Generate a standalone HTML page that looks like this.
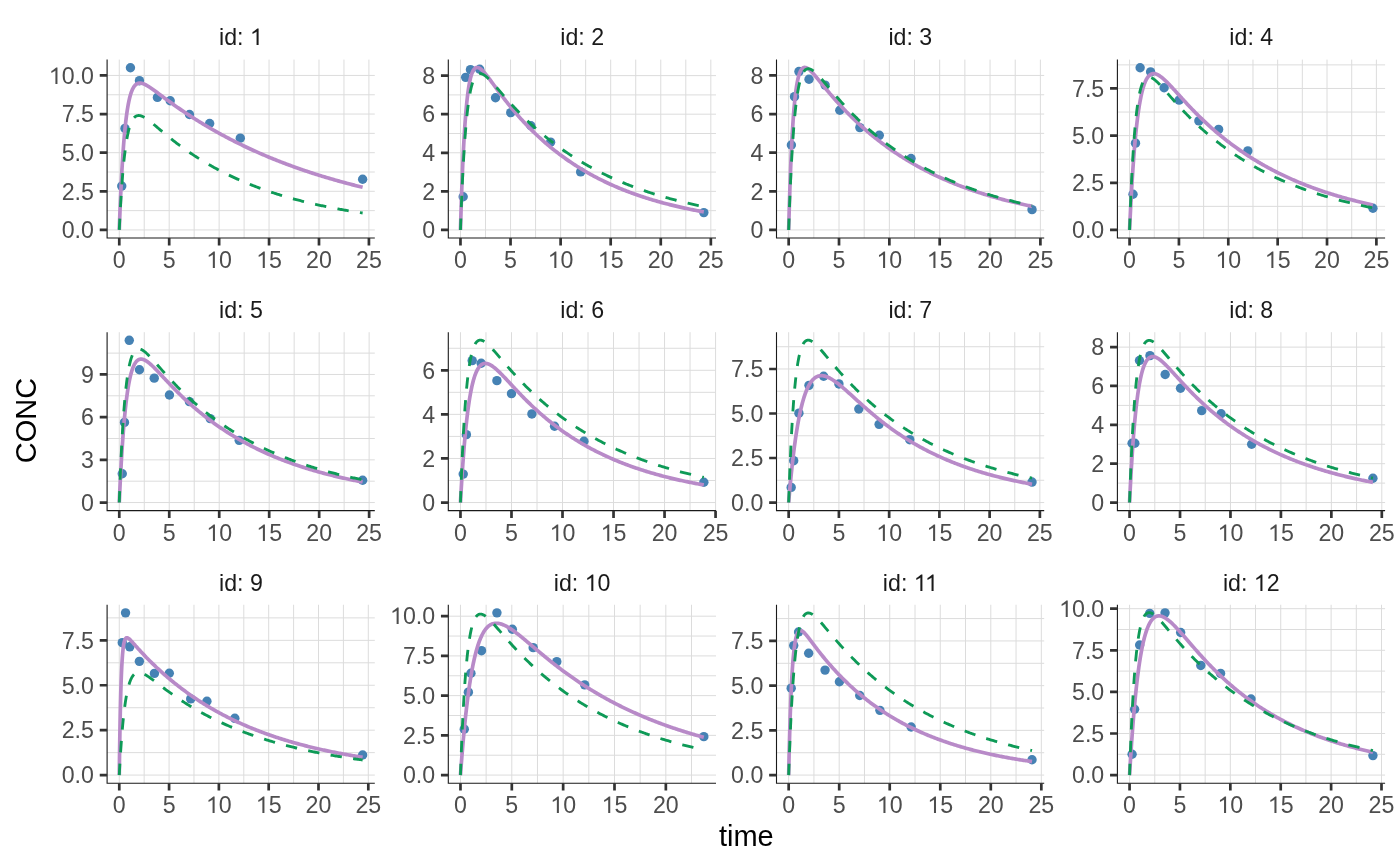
<!DOCTYPE html><html><head><meta charset="utf-8"><style>html,body{margin:0;padding:0;background:#fff;overflow:hidden;}svg text{font-family:"Liberation Sans", sans-serif;} svg{will-change:transform;}</style></head><body><svg width="1400" height="866" viewBox="0 0 1400 866" style="display:block"><rect width="1400" height="866" fill="#fff"/><defs><clipPath id="c1"><rect x="107.10" y="59.60" width="267.70" height="178.45"/></clipPath><clipPath id="c2"><rect x="448.30" y="59.60" width="267.70" height="178.45"/></clipPath><clipPath id="c3"><rect x="776.50" y="59.60" width="267.70" height="178.45"/></clipPath><clipPath id="c4"><rect x="1117.40" y="59.60" width="267.70" height="178.45"/></clipPath><clipPath id="c5"><rect x="107.10" y="332.20" width="267.70" height="178.45"/></clipPath><clipPath id="c6"><rect x="448.30" y="332.20" width="267.70" height="178.45"/></clipPath><clipPath id="c7"><rect x="776.50" y="332.20" width="267.70" height="178.45"/></clipPath><clipPath id="c8"><rect x="1117.40" y="332.20" width="267.70" height="178.45"/></clipPath><clipPath id="c9"><rect x="107.10" y="604.75" width="267.70" height="178.45"/></clipPath><clipPath id="c10"><rect x="448.30" y="604.75" width="267.70" height="178.45"/></clipPath><clipPath id="c11"><rect x="776.50" y="604.75" width="267.70" height="178.45"/></clipPath><clipPath id="c12"><rect x="1117.40" y="604.75" width="267.70" height="178.45"/></clipPath></defs><path d="M107.10 210.63H374.80M107.10 172.00H374.80M107.10 133.37H374.80M107.10 94.75H374.80M144.23 59.60V238.05M194.16 59.60V238.05M244.10 59.60V238.05M294.03 59.60V238.05M343.96 59.60V238.05" stroke="#DCDCDC" stroke-width="1.0" fill="none"/><path d="M107.10 229.94H374.80M107.10 191.31H374.80M107.10 152.69H374.80M107.10 114.06H374.80M107.10 75.44H374.80M119.27 59.60V238.05M169.20 59.60V238.05M219.13 59.60V238.05M269.06 59.60V238.05M318.99 59.60V238.05M368.92 59.60V238.05" stroke="#DCDCDC" stroke-width="1.0" fill="none"/><g clip-path="url(#c1)"><g fill="#4682B4"><circle cx="121.76" cy="186.06" r="4.7"/><circle cx="124.96" cy="128.43" r="4.7"/><circle cx="130.45" cy="67.71" r="4.7"/><circle cx="139.44" cy="80.69" r="4.7"/><circle cx="157.42" cy="97.38" r="4.7"/><circle cx="170.20" cy="100.77" r="4.7"/><circle cx="189.47" cy="114.53" r="4.7"/><circle cx="209.64" cy="123.49" r="4.7"/><circle cx="240.30" cy="138.16" r="4.7"/><circle cx="362.63" cy="179.26" r="4.7"/></g><path d="M119.27 229.94 L119.52 223.05 L119.77 216.45 L120.02 210.14 L120.27 204.10 L120.52 198.33 L120.77 192.80 L121.02 187.52 L121.27 182.47 L121.52 177.64 L121.76 173.02 L122.01 168.60 L122.26 164.37 L122.51 160.34 L122.76 156.48 L123.01 152.79 L123.26 149.26 L123.51 145.89 L123.76 142.68 L124.01 139.60 L124.26 136.67 L124.51 133.86 L124.76 131.19 L125.01 128.63 L125.26 126.19 L125.51 123.86 L125.76 121.64 L126.01 119.52 L126.26 117.50 L126.51 115.57 L126.76 113.74 L127.01 111.99 L127.26 110.32 L127.51 108.73 L127.76 107.21 L128.01 105.77 L128.26 104.40 L128.51 103.10 L128.76 101.85 L129.00 100.67 L129.25 99.55 L129.50 98.49 L129.75 97.48 L130.00 96.52 L130.25 95.61 L130.50 94.74 L130.75 93.92 L131.00 93.15 L131.25 92.42 L131.50 91.72 L131.75 91.07 L132.00 90.45 L132.25 89.86 L132.50 89.31 L132.75 88.79 L133.00 88.31 L133.25 87.85 L133.50 87.42 L133.75 87.02 L134.00 86.64 L134.25 86.29 L134.50 85.96 L134.75 85.65 L135.00 85.37 L135.25 85.11 L135.50 84.86 L135.75 84.64 L136.00 84.43 L136.24 84.24 L136.49 84.07 L136.74 83.92 L136.99 83.78 L137.24 83.65 L137.49 83.54 L137.74 83.44 L137.99 83.36 L138.24 83.29 L138.49 83.22 L138.74 83.18 L138.99 83.14 L139.24 83.11 L139.49 83.09 L139.74 83.08 L139.99 83.08 L140.24 83.09 L140.49 83.11 L140.74 83.14 L140.99 83.17 L141.24 83.21 L141.49 83.26 L141.74 83.31 L141.99 83.37 L142.24 83.44 L142.49 83.51 L142.74 83.59 L142.99 83.67 L143.24 83.76 L143.48 83.85 L143.73 83.95 L143.98 84.05 L144.23 84.16 L144.48 84.27 L144.73 84.38 L144.98 84.50 L145.23 84.62 L145.48 84.75 L145.73 84.88 L145.98 85.01 L146.23 85.14 L146.48 85.28 L146.73 85.42 L146.98 85.56 L147.23 85.71 L147.48 85.86 L147.73 86.00 L147.98 86.16 L148.23 86.31 L148.48 86.47 L148.73 86.62 L148.98 86.78 L149.23 86.94 L149.73 87.27 L150.80 87.98 L151.87 88.72 L152.94 89.48 L154.01 90.24 L155.08 91.02 L156.15 91.80 L157.22 92.59 L158.29 93.39 L159.35 94.18 L160.42 94.98 L161.49 95.78 L162.56 96.57 L163.63 97.37 L164.70 98.16 L165.77 98.95 L166.84 99.73 L167.91 100.52 L168.98 101.30 L170.05 102.07 L171.12 102.85 L172.19 103.62 L173.26 104.38 L174.33 105.14 L175.40 105.90 L176.47 106.65 L177.54 107.40 L178.61 108.14 L179.68 108.88 L180.75 109.62 L181.82 110.35 L182.89 111.08 L183.96 111.80 L185.03 112.52 L186.10 113.23 L187.17 113.94 L188.24 114.64 L189.31 115.35 L190.38 116.04 L191.45 116.73 L192.52 117.42 L193.59 118.11 L194.66 118.79 L195.73 119.46 L196.80 120.13 L197.87 120.80 L198.94 121.47 L200.01 122.13 L201.08 122.78 L202.15 123.43 L203.22 124.08 L204.29 124.72 L205.36 125.36 L206.43 126.00 L207.50 126.63 L208.57 127.26 L209.64 127.88 L210.71 128.51 L211.78 129.12 L212.85 129.74 L213.92 130.34 L214.99 130.95 L216.06 131.55 L217.13 132.15 L218.20 132.75 L219.27 133.34 L220.34 133.92 L221.41 134.51 L222.48 135.09 L223.55 135.66 L224.62 136.24 L225.69 136.81 L226.76 137.37 L227.83 137.94 L228.90 138.50 L229.97 139.05 L231.04 139.61 L232.11 140.15 L233.18 140.70 L234.25 141.24 L235.32 141.78 L236.39 142.32 L237.46 142.85 L238.53 143.38 L239.60 143.91 L240.67 144.43 L241.74 144.95 L242.81 145.47 L243.88 145.98 L244.95 146.49 L246.02 147.00 L247.08 147.50 L248.15 148.01 L249.22 148.50 L250.29 149.00 L251.36 149.49 L252.43 149.98 L253.50 150.47 L254.57 150.95 L255.64 151.43 L256.71 151.91 L257.78 152.38 L258.85 152.85 L259.92 153.32 L260.99 153.79 L262.06 154.25 L263.13 154.71 L264.20 155.17 L265.27 155.62 L266.34 156.08 L267.41 156.52 L268.48 156.97 L269.55 157.42 L270.62 157.86 L271.69 158.29 L272.76 158.73 L273.83 159.16 L274.90 159.59 L275.97 160.02 L277.04 160.45 L278.11 160.87 L279.18 161.29 L280.25 161.71 L281.32 162.12 L282.39 162.53 L283.46 162.94 L284.53 163.35 L285.60 163.76 L286.67 164.16 L287.74 164.56 L288.81 164.96 L289.88 165.35 L290.95 165.74 L292.02 166.13 L293.09 166.52 L294.16 166.91 L295.23 167.29 L296.30 167.67 L297.37 168.05 L298.44 168.43 L299.51 168.80 L300.58 169.17 L301.65 169.54 L302.72 169.91 L303.79 170.28 L304.86 170.64 L305.93 171.00 L307.00 171.36 L308.07 171.71 L309.14 172.07 L310.21 172.42 L311.28 172.77 L312.35 173.12 L313.42 173.46 L314.49 173.81 L315.56 174.15 L316.63 174.49 L317.70 174.82 L318.77 175.16 L319.84 175.49 L320.91 175.82 L321.98 176.15 L323.05 176.48 L324.12 176.80 L325.19 177.13 L326.26 177.45 L327.33 177.77 L328.40 178.09 L329.47 178.40 L330.54 178.71 L331.61 179.03 L332.68 179.34 L333.75 179.64 L334.81 179.95 L335.88 180.25 L336.95 180.55 L338.02 180.86 L339.09 181.15 L340.16 181.45 L341.23 181.75 L342.30 182.04 L343.37 182.33 L344.44 182.62 L345.51 182.91 L346.58 183.19 L347.65 183.48 L348.72 183.76 L349.79 184.04 L350.86 184.32 L351.93 184.60 L353.00 184.87 L354.07 185.15 L355.14 185.42 L356.21 185.69 L357.28 185.96 L358.35 186.23 L359.42 186.49 L360.49 186.76 L361.56 187.02 L362.63 187.28" stroke="#B88AC8" stroke-width="3.7" fill="none" stroke-linejoin="round"/><path d="M119.27 229.94 L119.52 224.72 L119.77 219.71 L120.02 214.91 L120.27 210.30 L120.52 205.88 L120.77 201.64 L121.02 197.58 L121.27 193.69 L121.52 189.95 L121.76 186.37 L122.01 182.94 L122.26 179.66 L122.51 176.51 L122.76 173.49 L123.01 170.60 L123.26 167.84 L123.51 165.19 L123.76 162.65 L124.01 160.22 L124.26 157.90 L124.51 155.68 L124.76 153.55 L125.01 151.52 L125.26 149.58 L125.51 147.72 L125.76 145.94 L126.01 144.25 L126.26 142.62 L126.51 141.08 L126.76 139.60 L127.01 138.19 L127.26 136.85 L127.51 135.56 L127.76 134.34 L128.01 133.18 L128.26 132.07 L128.51 131.01 L128.76 130.01 L129.00 129.05 L129.25 128.15 L129.50 127.28 L129.75 126.47 L130.00 125.69 L130.25 124.95 L130.50 124.26 L130.75 123.60 L131.00 122.97 L131.25 122.38 L131.50 121.82 L131.75 121.30 L132.00 120.80 L132.25 120.34 L132.50 119.90 L132.75 119.49 L133.00 119.11 L133.25 118.75 L133.50 118.41 L133.75 118.10 L134.00 117.81 L134.25 117.54 L134.50 117.29 L134.75 117.06 L135.00 116.85 L135.25 116.66 L135.50 116.49 L135.75 116.33 L136.00 116.19 L136.24 116.06 L136.49 115.95 L136.74 115.85 L136.99 115.76 L137.24 115.69 L137.49 115.64 L137.74 115.59 L137.99 115.55 L138.24 115.53 L138.49 115.52 L138.74 115.51 L138.99 115.52 L139.24 115.54 L139.49 115.56 L139.74 115.60 L139.99 115.64 L140.24 115.69 L140.49 115.74 L140.74 115.81 L140.99 115.88 L141.24 115.96 L141.49 116.05 L141.74 116.14 L141.99 116.23 L142.24 116.34 L142.49 116.44 L142.74 116.56 L142.99 116.68 L143.24 116.80 L143.48 116.93 L143.73 117.06 L143.98 117.20 L144.23 117.34 L144.48 117.48 L144.73 117.63 L144.98 117.78 L145.23 117.93 L145.48 118.09 L145.73 118.25 L145.98 118.41 L146.23 118.58 L146.48 118.75 L146.73 118.92 L146.98 119.09 L147.23 119.27 L147.48 119.45 L147.73 119.63 L147.98 119.81 L148.23 120.00 L148.48 120.18 L148.73 120.37 L148.98 120.56 L149.23 120.75 L149.73 121.14 L150.80 121.98 L151.87 122.85 L152.94 123.72 L154.01 124.61 L155.08 125.51 L156.15 126.41 L157.22 127.32 L158.29 128.23 L159.35 129.13 L160.42 130.04 L161.49 130.94 L162.56 131.84 L163.63 132.74 L164.70 133.63 L165.77 134.51 L166.84 135.39 L167.91 136.27 L168.98 137.13 L170.05 137.99 L171.12 138.85 L172.19 139.69 L173.26 140.53 L174.33 141.37 L175.40 142.19 L176.47 143.01 L177.54 143.82 L178.61 144.63 L179.68 145.42 L180.75 146.21 L181.82 147.00 L182.89 147.77 L183.96 148.54 L185.03 149.30 L186.10 150.05 L187.17 150.80 L188.24 151.54 L189.31 152.28 L190.38 153.00 L191.45 153.72 L192.52 154.44 L193.59 155.14 L194.66 155.84 L195.73 156.54 L196.80 157.22 L197.87 157.90 L198.94 158.58 L200.01 159.25 L201.08 159.91 L202.15 160.56 L203.22 161.21 L204.29 161.86 L205.36 162.49 L206.43 163.13 L207.50 163.75 L208.57 164.37 L209.64 164.98 L210.71 165.59 L211.78 166.19 L212.85 166.79 L213.92 167.38 L214.99 167.97 L216.06 168.55 L217.13 169.12 L218.20 169.69 L219.27 170.26 L220.34 170.82 L221.41 171.37 L222.48 171.92 L223.55 172.46 L224.62 173.00 L225.69 173.53 L226.76 174.06 L227.83 174.58 L228.90 175.10 L229.97 175.61 L231.04 176.12 L232.11 176.63 L233.18 177.13 L234.25 177.62 L235.32 178.11 L236.39 178.60 L237.46 179.08 L238.53 179.55 L239.60 180.02 L240.67 180.49 L241.74 180.95 L242.81 181.41 L243.88 181.87 L244.95 182.32 L246.02 182.76 L247.08 183.21 L248.15 183.64 L249.22 184.08 L250.29 184.51 L251.36 184.93 L252.43 185.35 L253.50 185.77 L254.57 186.18 L255.64 186.59 L256.71 187.00 L257.78 187.40 L258.85 187.80 L259.92 188.19 L260.99 188.58 L262.06 188.97 L263.13 189.36 L264.20 189.74 L265.27 190.11 L266.34 190.48 L267.41 190.85 L268.48 191.22 L269.55 191.58 L270.62 191.94 L271.69 192.30 L272.76 192.65 L273.83 193.00 L274.90 193.34 L275.97 193.69 L277.04 194.03 L278.11 194.36 L279.18 194.70 L280.25 195.03 L281.32 195.35 L282.39 195.68 L283.46 196.00 L284.53 196.31 L285.60 196.63 L286.67 196.94 L287.74 197.25 L288.81 197.56 L289.88 197.86 L290.95 198.16 L292.02 198.46 L293.09 198.75 L294.16 199.04 L295.23 199.33 L296.30 199.62 L297.37 199.90 L298.44 200.19 L299.51 200.46 L300.58 200.74 L301.65 201.01 L302.72 201.28 L303.79 201.55 L304.86 201.82 L305.93 202.08 L307.00 202.34 L308.07 202.60 L309.14 202.86 L310.21 203.11 L311.28 203.36 L312.35 203.61 L313.42 203.86 L314.49 204.10 L315.56 204.34 L316.63 204.58 L317.70 204.82 L318.77 205.05 L319.84 205.29 L320.91 205.52 L321.98 205.75 L323.05 205.97 L324.12 206.20 L325.19 206.42 L326.26 206.64 L327.33 206.86 L328.40 207.07 L329.47 207.29 L330.54 207.50 L331.61 207.71 L332.68 207.92 L333.75 208.13 L334.81 208.33 L335.88 208.53 L336.95 208.73 L338.02 208.93 L339.09 209.13 L340.16 209.32 L341.23 209.52 L342.30 209.71 L343.37 209.90 L344.44 210.08 L345.51 210.27 L346.58 210.45 L347.65 210.64 L348.72 210.82 L349.79 211.00 L350.86 211.17 L351.93 211.35 L353.00 211.52 L354.07 211.70 L355.14 211.87 L356.21 212.04 L357.28 212.20 L358.35 212.37 L359.42 212.53 L360.49 212.70 L361.56 212.86 L362.63 213.02" stroke="#0E9A57" stroke-width="2.85" fill="none" stroke-dasharray="11.4 11.4" stroke-linejoin="round"/></g><path d="M107.10 59.60V238.05H374.80" stroke="#1A1A1A" stroke-width="1.1" fill="none" stroke-linecap="butt"/><path d="M99.75 229.94H107.10M99.75 191.31H107.10M99.75 152.69H107.10M99.75 114.06H107.10M99.75 75.44H107.10M119.27 238.05V245.40M169.20 238.05V245.40M219.13 238.05V245.40M269.06 238.05V245.40M318.99 238.05V245.40M368.92 238.05V245.40" stroke="#333333" stroke-width="2.7" fill="none"/><text x="93.95" y="238" text-anchor="end" fill="#4D4D4D" font-size="23.2">0.0</text><text x="93.95" y="200" text-anchor="end" fill="#4D4D4D" font-size="23.2">2.5</text><text x="93.95" y="161" text-anchor="end" fill="#4D4D4D" font-size="23.2">5.0</text><text x="93.95" y="122" text-anchor="end" fill="#4D4D4D" font-size="23.2">7.5</text><path transform="translate(48.81,84.00) scale(0.011328,-0.011781)" d="M763 0L583 0L583 1147Q518 1085 465 1054Q412 1023 360 992Q307 961 223 930L223 1104Q374 1175 430 1225Q487 1276 543 1326Q600 1377 647 1409L763 1409Z" fill="#4D4D4D"/><text x="61.70" y="84.00" fill="#4D4D4D" font-size="23.2" style="white-space:pre">0.0</text><text x="119.27" y="268" text-anchor="middle" fill="#4D4D4D" font-size="23.2">0</text><text x="169.20" y="268" text-anchor="middle" fill="#4D4D4D" font-size="23.2">5</text><path transform="translate(206.23,268.00) scale(0.011328,-0.011781)" d="M763 0L583 0L583 1147Q518 1085 465 1054Q412 1023 360 992Q307 961 223 930L223 1104Q374 1175 430 1225Q487 1276 543 1326Q600 1377 647 1409L763 1409Z" fill="#4D4D4D"/><text x="219.12" y="268.00" fill="#4D4D4D" font-size="23.2" style="white-space:pre">0</text><path transform="translate(256.16,268.00) scale(0.011328,-0.011781)" d="M763 0L583 0L583 1147Q518 1085 465 1054Q412 1023 360 992Q307 961 223 930L223 1104Q374 1175 430 1225Q487 1276 543 1326Q600 1377 647 1409L763 1409Z" fill="#4D4D4D"/><text x="269.05" y="268.00" fill="#4D4D4D" font-size="23.2" style="white-space:pre">5</text><text x="318.99" y="268" text-anchor="middle" fill="#4D4D4D" font-size="23.2">20</text><text x="368.92" y="268" text-anchor="middle" fill="#4D4D4D" font-size="23.2">25</text><text x="219.04" y="45.00" fill="#1A1A1A" font-size="23.2" style="white-space:pre">id:&#160;</text><path transform="translate(249.96,45.00) scale(0.011328,-0.011781)" d="M763 0L583 0L583 1147Q518 1085 465 1054Q412 1023 360 992Q307 961 223 930L223 1104Q374 1175 430 1225Q487 1276 543 1326Q600 1377 647 1409L763 1409Z" fill="#1A1A1A"/><path d="M448.30 210.65H716.00M448.30 172.07H716.00M448.30 133.49H716.00M448.30 94.91H716.00M485.51 59.60V238.05M535.58 59.60V238.05M585.66 59.60V238.05M635.73 59.60V238.05M685.80 59.60V238.05" stroke="#DCDCDC" stroke-width="1.0" fill="none"/><path d="M448.30 229.94H716.00M448.30 191.36H716.00M448.30 152.78H716.00M448.30 114.20H716.00M448.30 75.62H716.00M460.47 59.60V238.05M510.54 59.60V238.05M560.62 59.60V238.05M610.69 59.60V238.05M660.77 59.60V238.05M710.84 59.60V238.05" stroke="#DCDCDC" stroke-width="1.0" fill="none"/><g clip-path="url(#c2)"><g fill="#4682B4"><circle cx="463.17" cy="196.76" r="4.7"/><circle cx="465.68" cy="77.36" r="4.7"/><circle cx="470.48" cy="69.64" r="4.7"/><circle cx="479.70" cy="69.25" r="4.7"/><circle cx="495.52" cy="97.80" r="4.7"/><circle cx="510.74" cy="112.66" r="4.7"/><circle cx="530.87" cy="125.77" r="4.7"/><circle cx="550.60" cy="142.17" r="4.7"/><circle cx="580.65" cy="171.88" r="4.7"/><circle cx="703.83" cy="212.58" r="4.7"/></g><path d="M460.47 229.94 L460.72 221.26 L460.97 212.99 L461.22 205.12 L461.47 197.62 L461.72 190.49 L461.97 183.70 L462.22 177.25 L462.47 171.10 L462.72 165.26 L462.97 159.70 L463.22 154.42 L463.47 149.39 L463.72 144.62 L463.97 140.08 L464.22 135.77 L464.47 131.67 L464.72 127.78 L464.97 124.09 L465.23 120.59 L465.48 117.26 L465.73 114.11 L465.98 111.12 L466.23 108.29 L466.48 105.61 L466.73 103.06 L466.98 100.66 L467.23 98.38 L467.48 96.23 L467.73 94.19 L467.98 92.27 L468.23 90.45 L468.48 88.74 L468.73 87.12 L468.98 85.60 L469.23 84.17 L469.48 82.82 L469.73 81.55 L469.98 80.36 L470.23 79.24 L470.48 78.19 L470.73 77.22 L470.98 76.30 L471.23 75.44 L471.48 74.65 L471.74 73.91 L471.99 73.22 L472.24 72.58 L472.49 71.99 L472.74 71.45 L472.99 70.95 L473.24 70.49 L473.49 70.07 L473.74 69.69 L473.99 69.35 L474.24 69.04 L474.49 68.76 L474.74 68.52 L474.99 68.30 L475.24 68.11 L475.49 67.96 L475.74 67.82 L475.99 67.71 L476.24 67.63 L476.49 67.56 L476.74 67.52 L476.99 67.50 L477.24 67.50 L477.49 67.51 L477.74 67.55 L477.99 67.60 L478.24 67.66 L478.50 67.75 L478.75 67.84 L479.00 67.95 L479.25 68.07 L479.50 68.21 L479.75 68.35 L480.00 68.51 L480.25 68.68 L480.50 68.86 L480.75 69.05 L481.00 69.25 L481.25 69.45 L481.50 69.67 L481.75 69.89 L482.00 70.12 L482.25 70.36 L482.50 70.60 L482.75 70.85 L483.00 71.10 L483.25 71.37 L483.50 71.63 L483.75 71.90 L484.00 72.18 L484.25 72.46 L484.50 72.75 L484.75 73.04 L485.00 73.33 L485.26 73.63 L485.51 73.93 L485.76 74.23 L486.01 74.54 L486.26 74.85 L486.51 75.16 L486.76 75.48 L487.01 75.80 L487.26 76.12 L487.51 76.44 L487.76 76.76 L488.01 77.09 L488.26 77.41 L488.51 77.74 L488.76 78.07 L489.01 78.40 L489.26 78.74 L489.51 79.07 L489.76 79.41 L490.01 79.74 L490.26 80.08 L490.51 80.42 L491.01 81.09 L492.08 82.55 L493.15 84.01 L494.22 85.47 L495.29 86.93 L496.36 88.39 L497.43 89.85 L498.50 91.29 L499.57 92.73 L500.64 94.15 L501.71 95.57 L502.78 96.97 L503.85 98.37 L504.92 99.75 L505.99 101.11 L507.06 102.47 L508.12 103.81 L509.19 105.14 L510.26 106.45 L511.33 107.76 L512.40 109.05 L513.47 110.32 L514.54 111.58 L515.61 112.83 L516.68 114.07 L517.75 115.30 L518.82 116.51 L519.89 117.71 L520.96 118.89 L522.03 120.07 L523.10 121.23 L524.17 122.38 L525.24 123.51 L526.31 124.64 L527.37 125.75 L528.44 126.85 L529.51 127.94 L530.58 129.02 L531.65 130.09 L532.72 131.14 L533.79 132.19 L534.86 133.22 L535.93 134.24 L537.00 135.26 L538.07 136.26 L539.14 137.25 L540.21 138.23 L541.28 139.20 L542.35 140.16 L543.42 141.11 L544.49 142.05 L545.56 142.98 L546.62 143.90 L547.69 144.80 L548.76 145.71 L549.83 146.60 L550.90 147.48 L551.97 148.35 L553.04 149.21 L554.11 150.07 L555.18 150.91 L556.25 151.75 L557.32 152.57 L558.39 153.39 L559.46 154.20 L560.53 155.00 L561.60 155.79 L562.67 156.58 L563.74 157.35 L564.80 158.12 L565.87 158.88 L566.94 159.63 L568.01 160.37 L569.08 161.11 L570.15 161.84 L571.22 162.56 L572.29 163.27 L573.36 163.98 L574.43 164.67 L575.50 165.36 L576.57 166.05 L577.64 166.72 L578.71 167.39 L579.78 168.05 L580.85 168.71 L581.92 169.35 L582.99 169.99 L584.05 170.63 L585.12 171.25 L586.19 171.88 L587.26 172.49 L588.33 173.10 L589.40 173.70 L590.47 174.29 L591.54 174.88 L592.61 175.46 L593.68 176.04 L594.75 176.61 L595.82 177.17 L596.89 177.73 L597.96 178.28 L599.03 178.83 L600.10 179.37 L601.17 179.90 L602.24 180.43 L603.30 180.96 L604.37 181.47 L605.44 181.99 L606.51 182.49 L607.58 183.00 L608.65 183.49 L609.72 183.98 L610.79 184.47 L611.86 184.95 L612.93 185.43 L614.00 185.90 L615.07 186.36 L616.14 186.82 L617.21 187.28 L618.28 187.73 L619.35 188.18 L620.42 188.62 L621.49 189.05 L622.55 189.49 L623.62 189.91 L624.69 190.34 L625.76 190.76 L626.83 191.17 L627.90 191.58 L628.97 191.99 L630.04 192.39 L631.11 192.78 L632.18 193.18 L633.25 193.57 L634.32 193.95 L635.39 194.33 L636.46 194.71 L637.53 195.08 L638.60 195.45 L639.67 195.81 L640.74 196.17 L641.80 196.53 L642.87 196.88 L643.94 197.23 L645.01 197.58 L646.08 197.92 L647.15 198.26 L648.22 198.60 L649.29 198.93 L650.36 199.25 L651.43 199.58 L652.50 199.90 L653.57 200.22 L654.64 200.53 L655.71 200.84 L656.78 201.15 L657.85 201.46 L658.92 201.76 L659.98 202.05 L661.05 202.35 L662.12 202.64 L663.19 202.93 L664.26 203.22 L665.33 203.50 L666.40 203.78 L667.47 204.05 L668.54 204.33 L669.61 204.60 L670.68 204.87 L671.75 205.13 L672.82 205.39 L673.89 205.65 L674.96 205.91 L676.03 206.16 L677.10 206.42 L678.17 206.66 L679.23 206.91 L680.30 207.15 L681.37 207.39 L682.44 207.63 L683.51 207.87 L684.58 208.10 L685.65 208.33 L686.72 208.56 L687.79 208.79 L688.86 209.01 L689.93 209.23 L691.00 209.45 L692.07 209.67 L693.14 209.88 L694.21 210.09 L695.28 210.30 L696.35 210.51 L697.42 210.72 L698.48 210.92 L699.55 211.12 L700.62 211.32 L701.69 211.52 L702.76 211.71 L703.83 211.91" stroke="#B88AC8" stroke-width="3.7" fill="none" stroke-linejoin="round"/><path d="M460.47 229.94 L460.72 222.80 L460.97 215.96 L461.22 209.40 L461.47 203.10 L461.72 197.06 L461.97 191.27 L462.22 185.72 L462.47 180.40 L462.72 175.30 L462.97 170.41 L463.22 165.72 L463.47 161.23 L463.72 156.93 L463.97 152.80 L464.22 148.86 L464.47 145.08 L464.72 141.46 L464.97 137.99 L465.23 134.67 L465.48 131.50 L465.73 128.46 L465.98 125.56 L466.23 122.78 L466.48 120.12 L466.73 117.58 L466.98 115.15 L467.23 112.84 L467.48 110.62 L467.73 108.51 L467.98 106.49 L468.23 104.56 L468.48 102.73 L468.73 100.97 L468.98 99.30 L469.23 97.71 L469.48 96.20 L469.73 94.75 L469.98 93.38 L470.23 92.08 L470.48 90.84 L470.73 89.66 L470.98 88.54 L471.23 87.48 L471.48 86.47 L471.74 85.52 L471.99 84.62 L472.24 83.76 L472.49 82.96 L472.74 82.20 L472.99 81.48 L473.24 80.80 L473.49 80.17 L473.74 79.57 L473.99 79.01 L474.24 78.48 L474.49 77.99 L474.74 77.53 L474.99 77.11 L475.24 76.71 L475.49 76.34 L475.74 76.00 L475.99 75.69 L476.24 75.40 L476.49 75.14 L476.74 74.90 L476.99 74.68 L477.24 74.49 L477.49 74.32 L477.74 74.16 L477.99 74.03 L478.24 73.92 L478.50 73.82 L478.75 73.74 L479.00 73.68 L479.25 73.63 L479.50 73.60 L479.75 73.58 L480.00 73.57 L480.25 73.58 L480.50 73.60 L480.75 73.64 L481.00 73.68 L481.25 73.74 L481.50 73.81 L481.75 73.89 L482.00 73.98 L482.25 74.08 L482.50 74.18 L482.75 74.30 L483.00 74.42 L483.25 74.56 L483.50 74.70 L483.75 74.85 L484.00 75.00 L484.25 75.16 L484.50 75.33 L484.75 75.50 L485.00 75.68 L485.26 75.87 L485.51 76.06 L485.76 76.26 L486.01 76.46 L486.26 76.67 L486.51 76.88 L486.76 77.09 L487.01 77.31 L487.26 77.54 L487.51 77.76 L487.76 78.00 L488.01 78.23 L488.26 78.47 L488.51 78.71 L488.76 78.95 L489.01 79.20 L489.26 79.45 L489.51 79.70 L489.76 79.95 L490.01 80.21 L490.26 80.47 L490.51 80.73 L491.01 81.26 L492.08 82.41 L493.15 83.59 L494.22 84.78 L495.29 85.99 L496.36 87.22 L497.43 88.44 L498.50 89.68 L499.57 90.91 L500.64 92.15 L501.71 93.38 L502.78 94.61 L503.85 95.84 L504.92 97.06 L505.99 98.27 L507.06 99.48 L508.12 100.68 L509.19 101.87 L510.26 103.05 L511.33 104.22 L512.40 105.38 L513.47 106.54 L514.54 107.68 L515.61 108.82 L516.68 109.94 L517.75 111.06 L518.82 112.16 L519.89 113.26 L520.96 114.35 L522.03 115.42 L523.10 116.49 L524.17 117.55 L525.24 118.59 L526.31 119.63 L527.37 120.66 L528.44 121.68 L529.51 122.69 L530.58 123.69 L531.65 124.68 L532.72 125.66 L533.79 126.63 L534.86 127.60 L535.93 128.55 L537.00 129.50 L538.07 130.44 L539.14 131.36 L540.21 132.28 L541.28 133.20 L542.35 134.10 L543.42 134.99 L544.49 135.88 L545.56 136.76 L546.62 137.63 L547.69 138.49 L548.76 139.34 L549.83 140.19 L550.90 141.02 L551.97 141.85 L553.04 142.67 L554.11 143.49 L555.18 144.30 L556.25 145.09 L557.32 145.89 L558.39 146.67 L559.46 147.45 L560.53 148.22 L561.60 148.98 L562.67 149.74 L563.74 150.48 L564.80 151.23 L565.87 151.96 L566.94 152.69 L568.01 153.41 L569.08 154.12 L570.15 154.83 L571.22 155.53 L572.29 156.23 L573.36 156.91 L574.43 157.60 L575.50 158.27 L576.57 158.94 L577.64 159.60 L578.71 160.26 L579.78 160.91 L580.85 161.55 L581.92 162.19 L582.99 162.82 L584.05 163.45 L585.12 164.07 L586.19 164.68 L587.26 165.29 L588.33 165.90 L589.40 166.49 L590.47 167.09 L591.54 167.67 L592.61 168.25 L593.68 168.83 L594.75 169.40 L595.82 169.96 L596.89 170.52 L597.96 171.08 L599.03 171.63 L600.10 172.17 L601.17 172.71 L602.24 173.24 L603.30 173.77 L604.37 174.30 L605.44 174.82 L606.51 175.33 L607.58 175.84 L608.65 176.35 L609.72 176.85 L610.79 177.34 L611.86 177.83 L612.93 178.32 L614.00 178.80 L615.07 179.28 L616.14 179.75 L617.21 180.22 L618.28 180.68 L619.35 181.14 L620.42 181.60 L621.49 182.05 L622.55 182.50 L623.62 182.94 L624.69 183.38 L625.76 183.81 L626.83 184.24 L627.90 184.67 L628.97 185.09 L630.04 185.51 L631.11 185.92 L632.18 186.33 L633.25 186.74 L634.32 187.14 L635.39 187.54 L636.46 187.94 L637.53 188.33 L638.60 188.72 L639.67 189.10 L640.74 189.49 L641.80 189.86 L642.87 190.24 L643.94 190.61 L645.01 190.97 L646.08 191.34 L647.15 191.70 L648.22 192.06 L649.29 192.41 L650.36 192.76 L651.43 193.11 L652.50 193.45 L653.57 193.79 L654.64 194.13 L655.71 194.46 L656.78 194.79 L657.85 195.12 L658.92 195.45 L659.98 195.77 L661.05 196.09 L662.12 196.40 L663.19 196.72 L664.26 197.03 L665.33 197.33 L666.40 197.64 L667.47 197.94 L668.54 198.24 L669.61 198.53 L670.68 198.83 L671.75 199.12 L672.82 199.40 L673.89 199.69 L674.96 199.97 L676.03 200.25 L677.10 200.53 L678.17 200.80 L679.23 201.07 L680.30 201.34 L681.37 201.61 L682.44 201.87 L683.51 202.14 L684.58 202.40 L685.65 202.65 L686.72 202.91 L687.79 203.16 L688.86 203.41 L689.93 203.66 L691.00 203.90 L692.07 204.15 L693.14 204.39 L694.21 204.62 L695.28 204.86 L696.35 205.09 L697.42 205.33 L698.48 205.56 L699.55 205.78 L700.62 206.01 L701.69 206.23 L702.76 206.45 L703.83 206.67" stroke="#0E9A57" stroke-width="2.85" fill="none" stroke-dasharray="11.4 11.4" stroke-linejoin="round"/></g><path d="M448.30 59.60V238.05H716.00" stroke="#1A1A1A" stroke-width="1.1" fill="none" stroke-linecap="butt"/><path d="M440.95 229.94H448.30M440.95 191.36H448.30M440.95 152.78H448.30M440.95 114.20H448.30M440.95 75.62H448.30M460.47 238.05V245.40M510.54 238.05V245.40M560.62 238.05V245.40M610.69 238.05V245.40M660.77 238.05V245.40M710.84 238.05V245.40" stroke="#333333" stroke-width="2.7" fill="none"/><text x="435.15" y="238" text-anchor="end" fill="#4D4D4D" font-size="23.2">0</text><text x="435.15" y="200" text-anchor="end" fill="#4D4D4D" font-size="23.2">2</text><text x="435.15" y="161" text-anchor="end" fill="#4D4D4D" font-size="23.2">4</text><text x="435.15" y="122" text-anchor="end" fill="#4D4D4D" font-size="23.2">6</text><text x="435.15" y="84" text-anchor="end" fill="#4D4D4D" font-size="23.2">8</text><text x="460.47" y="268" text-anchor="middle" fill="#4D4D4D" font-size="23.2">0</text><text x="510.54" y="268" text-anchor="middle" fill="#4D4D4D" font-size="23.2">5</text><path transform="translate(547.72,268.00) scale(0.011328,-0.011781)" d="M763 0L583 0L583 1147Q518 1085 465 1054Q412 1023 360 992Q307 961 223 930L223 1104Q374 1175 430 1225Q487 1276 543 1326Q600 1377 647 1409L763 1409Z" fill="#4D4D4D"/><text x="560.61" y="268.00" fill="#4D4D4D" font-size="23.2" style="white-space:pre">0</text><path transform="translate(597.79,268.00) scale(0.011328,-0.011781)" d="M763 0L583 0L583 1147Q518 1085 465 1054Q412 1023 360 992Q307 961 223 930L223 1104Q374 1175 430 1225Q487 1276 543 1326Q600 1377 647 1409L763 1409Z" fill="#4D4D4D"/><text x="610.68" y="268.00" fill="#4D4D4D" font-size="23.2" style="white-space:pre">5</text><text x="660.77" y="268" text-anchor="middle" fill="#4D4D4D" font-size="23.2">20</text><text x="710.84" y="268" text-anchor="middle" fill="#4D4D4D" font-size="23.2">25</text><text x="582.15" y="45" text-anchor="middle" fill="#1A1A1A" font-size="23.2">id: 2</text><path d="M776.50 210.63H1044.20M776.50 172.00H1044.20M776.50 133.37H1044.20M776.50 94.75H1044.20M813.84 59.60V238.05M864.18 59.60V238.05M914.53 59.60V238.05M964.87 59.60V238.05M1015.22 59.60V238.05" stroke="#DCDCDC" stroke-width="1.0" fill="none"/><path d="M776.50 229.94H1044.20M776.50 191.31H1044.20M776.50 152.69H1044.20M776.50 114.06H1044.20M776.50 75.44H1044.20M788.67 59.60V238.05M839.01 59.60V238.05M889.36 59.60V238.05M939.70 59.60V238.05M990.04 59.60V238.05M1040.39 59.60V238.05" stroke="#DCDCDC" stroke-width="1.0" fill="none"/><g clip-path="url(#c3)"><g fill="#4682B4"><circle cx="791.39" cy="144.96" r="4.7"/><circle cx="794.51" cy="96.68" r="4.7"/><circle cx="798.94" cy="71.57" r="4.7"/><circle cx="809.01" cy="79.30" r="4.7"/><circle cx="825.12" cy="85.09" r="4.7"/><circle cx="839.82" cy="110.20" r="4.7"/><circle cx="859.85" cy="127.58" r="4.7"/><circle cx="879.29" cy="135.31" r="4.7"/><circle cx="911.00" cy="158.48" r="4.7"/><circle cx="1032.03" cy="209.66" r="4.7"/></g><path d="M788.67 229.94 L788.92 220.52 L789.17 211.59 L789.42 203.14 L789.68 195.14 L789.93 187.55 L790.18 180.38 L790.43 173.58 L790.68 167.15 L790.93 161.06 L791.19 155.30 L791.44 149.85 L791.69 144.70 L791.94 139.83 L792.19 135.22 L792.44 130.87 L792.70 126.75 L792.95 122.87 L793.20 119.20 L793.45 115.73 L793.70 112.46 L793.95 109.37 L794.21 106.46 L794.46 103.72 L794.71 101.13 L794.96 98.70 L795.21 96.40 L795.46 94.25 L795.72 92.22 L795.97 90.31 L796.22 88.52 L796.47 86.84 L796.72 85.26 L796.97 83.78 L797.23 82.39 L797.48 81.10 L797.73 79.89 L797.98 78.75 L798.23 77.70 L798.49 76.72 L798.74 75.80 L798.99 74.95 L799.24 74.16 L799.49 73.43 L799.74 72.76 L800.00 72.14 L800.25 71.57 L800.50 71.05 L800.75 70.57 L801.00 70.13 L801.25 69.74 L801.51 69.38 L801.76 69.06 L802.01 68.77 L802.26 68.52 L802.51 68.30 L802.76 68.11 L803.02 67.94 L803.27 67.80 L803.52 67.69 L803.77 67.60 L804.02 67.53 L804.27 67.49 L804.53 67.46 L804.78 67.46 L805.03 67.47 L805.28 67.50 L805.53 67.55 L805.79 67.61 L806.04 67.69 L806.29 67.78 L806.54 67.88 L806.79 67.99 L807.04 68.12 L807.30 68.26 L807.55 68.41 L807.80 68.57 L808.05 68.74 L808.30 68.91 L808.55 69.10 L808.81 69.29 L809.06 69.49 L809.31 69.70 L809.56 69.92 L809.81 70.14 L810.06 70.37 L810.32 70.60 L810.57 70.84 L810.82 71.08 L811.07 71.33 L811.32 71.58 L811.57 71.84 L811.83 72.10 L812.08 72.36 L812.33 72.63 L812.58 72.90 L812.83 73.17 L813.09 73.45 L813.34 73.73 L813.59 74.01 L813.84 74.30 L814.09 74.58 L814.34 74.87 L814.60 75.16 L814.85 75.46 L815.10 75.75 L815.35 76.05 L815.60 76.34 L815.85 76.64 L816.11 76.94 L816.36 77.24 L816.61 77.54 L816.86 77.84 L817.11 78.15 L817.36 78.45 L817.62 78.76 L817.87 79.06 L818.12 79.37 L818.37 79.68 L818.62 79.98 L818.87 80.29 L819.38 80.91 L820.45 82.21 L821.52 83.52 L822.58 84.83 L823.65 86.14 L824.72 87.44 L825.79 88.73 L826.86 90.02 L827.93 91.29 L829.00 92.56 L830.06 93.82 L831.13 95.07 L832.20 96.31 L833.27 97.54 L834.34 98.75 L835.41 99.96 L836.48 101.16 L837.54 102.35 L838.61 103.52 L839.68 104.69 L840.75 105.84 L841.82 106.99 L842.89 108.12 L843.96 109.24 L845.02 110.36 L846.09 111.46 L847.16 112.55 L848.23 113.64 L849.30 114.71 L850.37 115.77 L851.44 116.83 L852.51 117.87 L853.57 118.91 L854.64 119.93 L855.71 120.94 L856.78 121.95 L857.85 122.95 L858.92 123.93 L859.99 124.91 L861.05 125.88 L862.12 126.84 L863.19 127.79 L864.26 128.74 L865.33 129.67 L866.40 130.60 L867.47 131.51 L868.53 132.42 L869.60 133.32 L870.67 134.21 L871.74 135.10 L872.81 135.97 L873.88 136.84 L874.95 137.70 L876.01 138.55 L877.08 139.39 L878.15 140.23 L879.22 141.06 L880.29 141.88 L881.36 142.69 L882.43 143.49 L883.49 144.29 L884.56 145.08 L885.63 145.87 L886.70 146.64 L887.77 147.41 L888.84 148.17 L889.91 148.93 L890.98 149.67 L892.04 150.41 L893.11 151.15 L894.18 151.88 L895.25 152.60 L896.32 153.31 L897.39 154.02 L898.46 154.72 L899.52 155.41 L900.59 156.10 L901.66 156.78 L902.73 157.46 L903.80 158.12 L904.87 158.79 L905.94 159.44 L907.00 160.09 L908.07 160.74 L909.14 161.38 L910.21 162.01 L911.28 162.64 L912.35 163.26 L913.42 163.87 L914.48 164.48 L915.55 165.09 L916.62 165.69 L917.69 166.28 L918.76 166.87 L919.83 167.45 L920.90 168.03 L921.96 168.60 L923.03 169.16 L924.10 169.72 L925.17 170.28 L926.24 170.83 L927.31 171.38 L928.38 171.92 L929.45 172.45 L930.51 172.98 L931.58 173.51 L932.65 174.03 L933.72 174.54 L934.79 175.06 L935.86 175.56 L936.93 176.06 L937.99 176.56 L939.06 177.05 L940.13 177.54 L941.20 178.03 L942.27 178.50 L943.34 178.98 L944.41 179.45 L945.47 179.92 L946.54 180.38 L947.61 180.83 L948.68 181.29 L949.75 181.74 L950.82 182.18 L951.89 182.62 L952.95 183.06 L954.02 183.49 L955.09 183.92 L956.16 184.34 L957.23 184.77 L958.30 185.18 L959.37 185.60 L960.43 186.00 L961.50 186.41 L962.57 186.81 L963.64 187.21 L964.71 187.60 L965.78 187.99 L966.85 188.38 L967.92 188.77 L968.98 189.15 L970.05 189.52 L971.12 189.89 L972.19 190.26 L973.26 190.63 L974.33 190.99 L975.40 191.35 L976.46 191.71 L977.53 192.06 L978.60 192.41 L979.67 192.76 L980.74 193.10 L981.81 193.44 L982.88 193.78 L983.94 194.11 L985.01 194.44 L986.08 194.77 L987.15 195.09 L988.22 195.42 L989.29 195.73 L990.36 196.05 L991.42 196.36 L992.49 196.67 L993.56 196.98 L994.63 197.28 L995.70 197.58 L996.77 197.88 L997.84 198.18 L998.90 198.47 L999.97 198.76 L1001.04 199.05 L1002.11 199.34 L1003.18 199.62 L1004.25 199.90 L1005.32 200.17 L1006.39 200.45 L1007.45 200.72 L1008.52 200.99 L1009.59 201.26 L1010.66 201.52 L1011.73 201.79 L1012.80 202.05 L1013.87 202.30 L1014.93 202.56 L1016.00 202.81 L1017.07 203.06 L1018.14 203.31 L1019.21 203.55 L1020.28 203.80 L1021.35 204.04 L1022.41 204.28 L1023.48 204.52 L1024.55 204.75 L1025.62 204.98 L1026.69 205.21 L1027.76 205.44 L1028.83 205.67 L1029.89 205.89 L1030.96 206.11 L1032.03 206.33" stroke="#B88AC8" stroke-width="3.7" fill="none" stroke-linejoin="round"/><path d="M788.67 229.94 L788.92 222.59 L789.17 215.53 L789.42 208.77 L789.68 202.28 L789.93 196.05 L790.18 190.08 L790.43 184.36 L790.68 178.87 L790.93 173.62 L791.19 168.57 L791.44 163.74 L791.69 159.11 L791.94 154.68 L792.19 150.43 L792.44 146.36 L792.70 142.46 L792.95 138.73 L793.20 135.16 L793.45 131.74 L793.70 128.47 L793.95 125.34 L794.21 122.34 L794.46 119.48 L794.71 116.74 L794.96 114.12 L795.21 111.62 L795.46 109.23 L795.72 106.95 L795.97 104.77 L796.22 102.69 L796.47 100.70 L796.72 98.81 L796.97 97.00 L797.23 95.28 L797.48 93.64 L797.73 92.08 L797.98 90.60 L798.23 89.18 L798.49 87.84 L798.74 86.56 L798.99 85.34 L799.24 84.19 L799.49 83.09 L799.74 82.06 L800.00 81.08 L800.25 80.14 L800.50 79.27 L800.75 78.43 L801.00 77.65 L801.25 76.91 L801.51 76.21 L801.76 75.56 L802.01 74.94 L802.26 74.36 L802.51 73.82 L802.76 73.32 L803.02 72.84 L803.27 72.40 L803.52 71.99 L803.77 71.62 L804.02 71.27 L804.27 70.94 L804.53 70.65 L804.78 70.38 L805.03 70.13 L805.28 69.91 L805.53 69.71 L805.79 69.53 L806.04 69.37 L806.29 69.23 L806.54 69.12 L806.79 69.02 L807.04 68.93 L807.30 68.87 L807.55 68.82 L807.80 68.78 L808.05 68.77 L808.30 68.76 L808.55 68.77 L808.81 68.79 L809.06 68.83 L809.31 68.88 L809.56 68.94 L809.81 69.01 L810.06 69.09 L810.32 69.18 L810.57 69.28 L810.82 69.39 L811.07 69.51 L811.32 69.64 L811.57 69.78 L811.83 69.92 L812.08 70.07 L812.33 70.23 L812.58 70.40 L812.83 70.57 L813.09 70.75 L813.34 70.94 L813.59 71.13 L813.84 71.33 L814.09 71.53 L814.34 71.74 L814.60 71.95 L814.85 72.17 L815.10 72.39 L815.35 72.62 L815.60 72.85 L815.85 73.08 L816.11 73.32 L816.36 73.56 L816.61 73.81 L816.86 74.05 L817.11 74.31 L817.36 74.56 L817.62 74.82 L817.87 75.08 L818.12 75.34 L818.37 75.60 L818.62 75.87 L818.87 76.14 L819.38 76.68 L820.45 77.86 L821.52 79.07 L822.58 80.29 L823.65 81.53 L824.72 82.78 L825.79 84.04 L826.86 85.31 L827.93 86.57 L829.00 87.84 L830.06 89.10 L831.13 90.36 L832.20 91.62 L833.27 92.87 L834.34 94.11 L835.41 95.35 L836.48 96.58 L837.54 97.80 L838.61 99.01 L839.68 100.21 L840.75 101.40 L841.82 102.59 L842.89 103.76 L843.96 104.93 L845.02 106.08 L846.09 107.22 L847.16 108.36 L848.23 109.48 L849.30 110.60 L850.37 111.70 L851.44 112.80 L852.51 113.88 L853.57 114.96 L854.64 116.02 L855.71 117.08 L856.78 118.12 L857.85 119.16 L858.92 120.19 L859.99 121.20 L861.05 122.21 L862.12 123.21 L863.19 124.20 L864.26 125.18 L865.33 126.15 L866.40 127.11 L867.47 128.07 L868.53 129.01 L869.60 129.95 L870.67 130.88 L871.74 131.80 L872.81 132.71 L873.88 133.61 L874.95 134.50 L876.01 135.39 L877.08 136.26 L878.15 137.13 L879.22 137.99 L880.29 138.84 L881.36 139.69 L882.43 140.53 L883.49 141.36 L884.56 142.18 L885.63 142.99 L886.70 143.80 L887.77 144.60 L888.84 145.39 L889.91 146.17 L890.98 146.95 L892.04 147.72 L893.11 148.48 L894.18 149.24 L895.25 149.99 L896.32 150.73 L897.39 151.46 L898.46 152.19 L899.52 152.91 L900.59 153.63 L901.66 154.33 L902.73 155.03 L903.80 155.73 L904.87 156.42 L905.94 157.10 L907.00 157.78 L908.07 158.44 L909.14 159.11 L910.21 159.76 L911.28 160.42 L912.35 161.06 L913.42 161.70 L914.48 162.33 L915.55 162.96 L916.62 163.58 L917.69 164.20 L918.76 164.81 L919.83 165.41 L920.90 166.01 L921.96 166.60 L923.03 167.19 L924.10 167.77 L925.17 168.35 L926.24 168.92 L927.31 169.48 L928.38 170.04 L929.45 170.60 L930.51 171.15 L931.58 171.70 L932.65 172.24 L933.72 172.77 L934.79 173.30 L935.86 173.83 L936.93 174.35 L937.99 174.86 L939.06 175.37 L940.13 175.88 L941.20 176.38 L942.27 176.88 L943.34 177.37 L944.41 177.86 L945.47 178.34 L946.54 178.82 L947.61 179.29 L948.68 179.76 L949.75 180.23 L950.82 180.69 L951.89 181.15 L952.95 181.60 L954.02 182.05 L955.09 182.49 L956.16 182.93 L957.23 183.37 L958.30 183.80 L959.37 184.23 L960.43 184.65 L961.50 185.07 L962.57 185.49 L963.64 185.90 L964.71 186.31 L965.78 186.71 L966.85 187.11 L967.92 187.51 L968.98 187.90 L970.05 188.29 L971.12 188.68 L972.19 189.06 L973.26 189.44 L974.33 189.82 L975.40 190.19 L976.46 190.56 L977.53 190.92 L978.60 191.29 L979.67 191.64 L980.74 192.00 L981.81 192.35 L982.88 192.70 L983.94 193.05 L985.01 193.39 L986.08 193.73 L987.15 194.06 L988.22 194.40 L989.29 194.73 L990.36 195.05 L991.42 195.38 L992.49 195.70 L993.56 196.01 L994.63 196.33 L995.70 196.64 L996.77 196.95 L997.84 197.25 L998.90 197.56 L999.97 197.86 L1001.04 198.16 L1002.11 198.45 L1003.18 198.74 L1004.25 199.03 L1005.32 199.32 L1006.39 199.60 L1007.45 199.88 L1008.52 200.16 L1009.59 200.44 L1010.66 200.71 L1011.73 200.98 L1012.80 201.25 L1013.87 201.52 L1014.93 201.78 L1016.00 202.04 L1017.07 202.30 L1018.14 202.56 L1019.21 202.81 L1020.28 203.06 L1021.35 203.31 L1022.41 203.56 L1023.48 203.80 L1024.55 204.05 L1025.62 204.29 L1026.69 204.52 L1027.76 204.76 L1028.83 204.99 L1029.89 205.23 L1030.96 205.45 L1032.03 205.68" stroke="#0E9A57" stroke-width="2.85" fill="none" stroke-dasharray="11.4 11.4" stroke-linejoin="round"/></g><path d="M776.50 59.60V238.05H1044.20" stroke="#1A1A1A" stroke-width="1.1" fill="none" stroke-linecap="butt"/><path d="M769.15 229.94H776.50M769.15 191.31H776.50M769.15 152.69H776.50M769.15 114.06H776.50M769.15 75.44H776.50M788.67 238.05V245.40M839.01 238.05V245.40M889.36 238.05V245.40M939.70 238.05V245.40M990.04 238.05V245.40M1040.39 238.05V245.40" stroke="#333333" stroke-width="2.7" fill="none"/><text x="763.35" y="238" text-anchor="end" fill="#4D4D4D" font-size="23.2">0</text><text x="763.35" y="200" text-anchor="end" fill="#4D4D4D" font-size="23.2">2</text><text x="763.35" y="161" text-anchor="end" fill="#4D4D4D" font-size="23.2">4</text><text x="763.35" y="122" text-anchor="end" fill="#4D4D4D" font-size="23.2">6</text><text x="763.35" y="84" text-anchor="end" fill="#4D4D4D" font-size="23.2">8</text><text x="788.67" y="268" text-anchor="middle" fill="#4D4D4D" font-size="23.2">0</text><text x="839.01" y="268" text-anchor="middle" fill="#4D4D4D" font-size="23.2">5</text><path transform="translate(876.46,268.00) scale(0.011328,-0.011781)" d="M763 0L583 0L583 1147Q518 1085 465 1054Q412 1023 360 992Q307 961 223 930L223 1104Q374 1175 430 1225Q487 1276 543 1326Q600 1377 647 1409L763 1409Z" fill="#4D4D4D"/><text x="889.35" y="268.00" fill="#4D4D4D" font-size="23.2" style="white-space:pre">0</text><path transform="translate(926.80,268.00) scale(0.011328,-0.011781)" d="M763 0L583 0L583 1147Q518 1085 465 1054Q412 1023 360 992Q307 961 223 930L223 1104Q374 1175 430 1225Q487 1276 543 1326Q600 1377 647 1409L763 1409Z" fill="#4D4D4D"/><text x="939.69" y="268.00" fill="#4D4D4D" font-size="23.2" style="white-space:pre">5</text><text x="990.04" y="268" text-anchor="middle" fill="#4D4D4D" font-size="23.2">20</text><text x="1040.39" y="268" text-anchor="middle" fill="#4D4D4D" font-size="23.2">25</text><text x="910.35" y="45" text-anchor="middle" fill="#1A1A1A" font-size="23.2">id: 3</text><path d="M1117.40 206.36H1385.10M1117.40 159.20H1385.10M1117.40 112.04H1385.10M1117.40 64.88H1385.10M1154.25 59.60V238.05M1203.61 59.60V238.05M1252.98 59.60V238.05M1302.34 59.60V238.05M1351.71 59.60V238.05" stroke="#DCDCDC" stroke-width="1.0" fill="none"/><path d="M1117.40 229.94H1385.10M1117.40 182.78H1385.10M1117.40 135.62H1385.10M1117.40 88.46H1385.10M1129.57 59.60V238.05M1178.93 59.60V238.05M1228.30 59.60V238.05M1277.66 59.60V238.05M1327.02 59.60V238.05M1376.39 59.60V238.05" stroke="#DCDCDC" stroke-width="1.0" fill="none"/><g clip-path="url(#c4)"><g fill="#4682B4"><circle cx="1133.02" cy="194.29" r="4.7"/><circle cx="1135.49" cy="143.17" r="4.7"/><circle cx="1140.13" cy="67.71" r="4.7"/><circle cx="1150.60" cy="71.86" r="4.7"/><circle cx="1164.12" cy="87.71" r="4.7"/><circle cx="1179.13" cy="100.16" r="4.7"/><circle cx="1198.87" cy="120.91" r="4.7"/><circle cx="1218.62" cy="129.40" r="4.7"/><circle cx="1247.84" cy="150.90" r="4.7"/><circle cx="1372.93" cy="208.25" r="4.7"/></g><path d="M1129.57 229.94 L1129.82 224.49 L1130.06 219.21 L1130.31 214.08 L1130.56 209.12 L1130.80 204.31 L1131.05 199.64 L1131.30 195.12 L1131.54 190.74 L1131.79 186.49 L1132.04 182.37 L1132.28 178.39 L1132.53 174.52 L1132.78 170.78 L1133.02 167.16 L1133.27 163.64 L1133.52 160.24 L1133.76 156.95 L1134.01 153.76 L1134.26 150.67 L1134.50 147.69 L1134.75 144.79 L1135.00 141.99 L1135.25 139.29 L1135.49 136.66 L1135.74 134.13 L1135.99 131.67 L1136.23 129.30 L1136.48 127.01 L1136.73 124.79 L1136.97 122.64 L1137.22 120.57 L1137.47 118.57 L1137.71 116.63 L1137.96 114.76 L1138.21 112.95 L1138.45 111.21 L1138.70 109.53 L1138.95 107.90 L1139.19 106.33 L1139.44 104.82 L1139.69 103.36 L1139.93 101.95 L1140.18 100.59 L1140.43 99.28 L1140.68 98.02 L1140.92 96.81 L1141.17 95.64 L1141.42 94.51 L1141.66 93.43 L1141.91 92.39 L1142.16 91.39 L1142.40 90.42 L1142.65 89.50 L1142.90 88.61 L1143.14 87.76 L1143.39 86.94 L1143.64 86.15 L1143.88 85.40 L1144.13 84.68 L1144.38 83.99 L1144.62 83.33 L1144.87 82.70 L1145.12 82.09 L1145.36 81.52 L1145.61 80.97 L1145.86 80.44 L1146.11 79.95 L1146.35 79.47 L1146.60 79.02 L1146.85 78.59 L1147.09 78.19 L1147.34 77.80 L1147.59 77.44 L1147.83 77.10 L1148.08 76.77 L1148.33 76.47 L1148.57 76.18 L1148.82 75.92 L1149.07 75.67 L1149.31 75.43 L1149.56 75.22 L1149.81 75.02 L1150.05 74.83 L1150.30 74.66 L1150.55 74.51 L1150.79 74.36 L1151.04 74.24 L1151.29 74.12 L1151.54 74.02 L1151.78 73.93 L1152.03 73.86 L1152.28 73.79 L1152.52 73.74 L1152.77 73.70 L1153.02 73.66 L1153.26 73.64 L1153.51 73.63 L1153.76 73.63 L1154.00 73.64 L1154.25 73.66 L1154.50 73.69 L1154.74 73.72 L1154.99 73.77 L1155.24 73.82 L1155.48 73.88 L1155.73 73.95 L1155.98 74.02 L1156.22 74.10 L1156.47 74.19 L1156.72 74.29 L1156.97 74.39 L1157.21 74.50 L1157.46 74.61 L1157.71 74.74 L1157.95 74.86 L1158.20 74.99 L1158.45 75.13 L1158.69 75.28 L1158.94 75.42 L1159.19 75.58 L1159.68 75.90 L1160.75 76.65 L1161.82 77.48 L1162.89 78.37 L1163.97 79.31 L1165.04 80.30 L1166.11 81.32 L1167.18 82.39 L1168.25 83.47 L1169.32 84.59 L1170.40 85.72 L1171.47 86.86 L1172.54 88.02 L1173.61 89.19 L1174.68 90.36 L1175.75 91.54 L1176.83 92.72 L1177.90 93.91 L1178.97 95.09 L1180.04 96.27 L1181.11 97.45 L1182.18 98.63 L1183.26 99.80 L1184.33 100.96 L1185.40 102.12 L1186.47 103.28 L1187.54 104.43 L1188.61 105.57 L1189.69 106.70 L1190.76 107.83 L1191.83 108.94 L1192.90 110.05 L1193.97 111.15 L1195.04 112.24 L1196.12 113.33 L1197.19 114.40 L1198.26 115.47 L1199.33 116.52 L1200.40 117.57 L1201.47 118.61 L1202.54 119.64 L1203.62 120.66 L1204.69 121.67 L1205.76 122.68 L1206.83 123.67 L1207.90 124.66 L1208.97 125.63 L1210.05 126.60 L1211.12 127.56 L1212.19 128.51 L1213.26 129.45 L1214.33 130.38 L1215.40 131.31 L1216.48 132.22 L1217.55 133.13 L1218.62 134.03 L1219.69 134.92 L1220.76 135.80 L1221.83 136.68 L1222.91 137.55 L1223.98 138.40 L1225.05 139.26 L1226.12 140.10 L1227.19 140.93 L1228.26 141.76 L1229.34 142.58 L1230.41 143.39 L1231.48 144.20 L1232.55 144.99 L1233.62 145.78 L1234.69 146.57 L1235.76 147.34 L1236.84 148.11 L1237.91 148.87 L1238.98 149.62 L1240.05 150.37 L1241.12 151.11 L1242.19 151.84 L1243.27 152.57 L1244.34 153.29 L1245.41 154.00 L1246.48 154.71 L1247.55 155.41 L1248.62 156.10 L1249.70 156.79 L1250.77 157.47 L1251.84 158.14 L1252.91 158.81 L1253.98 159.47 L1255.05 160.12 L1256.13 160.77 L1257.20 161.42 L1258.27 162.05 L1259.34 162.68 L1260.41 163.31 L1261.48 163.93 L1262.56 164.54 L1263.63 165.15 L1264.70 165.75 L1265.77 166.35 L1266.84 166.94 L1267.91 167.53 L1268.99 168.11 L1270.06 168.68 L1271.13 169.25 L1272.20 169.82 L1273.27 170.38 L1274.34 170.93 L1275.41 171.48 L1276.49 172.02 L1277.56 172.56 L1278.63 173.09 L1279.70 173.62 L1280.77 174.15 L1281.84 174.66 L1282.92 175.18 L1283.99 175.69 L1285.06 176.19 L1286.13 176.69 L1287.20 177.19 L1288.27 177.68 L1289.35 178.16 L1290.42 178.64 L1291.49 179.12 L1292.56 179.59 L1293.63 180.06 L1294.70 180.53 L1295.78 180.99 L1296.85 181.44 L1297.92 181.89 L1298.99 182.34 L1300.06 182.78 L1301.13 183.22 L1302.21 183.65 L1303.28 184.08 L1304.35 184.51 L1305.42 184.93 L1306.49 185.35 L1307.56 185.77 L1308.63 186.18 L1309.71 186.58 L1310.78 186.99 L1311.85 187.39 L1312.92 187.78 L1313.99 188.17 L1315.06 188.56 L1316.14 188.95 L1317.21 189.33 L1318.28 189.71 L1319.35 190.08 L1320.42 190.45 L1321.49 190.82 L1322.57 191.18 L1323.64 191.54 L1324.71 191.90 L1325.78 192.25 L1326.85 192.60 L1327.92 192.95 L1329.00 193.29 L1330.07 193.63 L1331.14 193.97 L1332.21 194.31 L1333.28 194.64 L1334.35 194.97 L1335.43 195.29 L1336.50 195.61 L1337.57 195.93 L1338.64 196.25 L1339.71 196.56 L1340.78 196.87 L1341.85 197.18 L1342.93 197.48 L1344.00 197.79 L1345.07 198.08 L1346.14 198.38 L1347.21 198.67 L1348.28 198.97 L1349.36 199.25 L1350.43 199.54 L1351.50 199.82 L1352.57 200.10 L1353.64 200.38 L1354.71 200.65 L1355.79 200.93 L1356.86 201.20 L1357.93 201.46 L1359.00 201.73 L1360.07 201.99 L1361.14 202.25 L1362.22 202.51 L1363.29 202.76 L1364.36 203.01 L1365.43 203.27 L1366.50 203.51 L1367.57 203.76 L1368.65 204.00 L1369.72 204.24 L1370.79 204.48 L1371.86 204.72 L1372.93 204.95" stroke="#B88AC8" stroke-width="3.7" fill="none" stroke-linejoin="round"/><path d="M1129.57 229.94 L1129.82 222.96 L1130.06 216.27 L1130.31 209.85 L1130.56 203.69 L1130.80 197.79 L1131.05 192.13 L1131.30 186.70 L1131.54 181.49 L1131.79 176.50 L1132.04 171.72 L1132.28 167.14 L1132.53 162.75 L1132.78 158.54 L1133.02 154.51 L1133.27 150.65 L1133.52 146.95 L1133.76 143.41 L1134.01 140.02 L1134.26 136.78 L1134.50 133.67 L1134.75 130.70 L1135.00 127.86 L1135.25 125.14 L1135.49 122.55 L1135.74 120.06 L1135.99 117.69 L1136.23 115.42 L1136.48 113.26 L1136.73 111.19 L1136.97 109.22 L1137.22 107.33 L1137.47 105.54 L1137.71 103.82 L1137.96 102.19 L1138.21 100.63 L1138.45 99.15 L1138.70 97.74 L1138.95 96.40 L1139.19 95.12 L1139.44 93.91 L1139.69 92.76 L1139.93 91.66 L1140.18 90.63 L1140.43 89.64 L1140.68 88.71 L1140.92 87.83 L1141.17 86.99 L1141.42 86.20 L1141.66 85.46 L1141.91 84.76 L1142.16 84.10 L1142.40 83.47 L1142.65 82.89 L1142.90 82.34 L1143.14 81.83 L1143.39 81.35 L1143.64 80.90 L1143.88 80.48 L1144.13 80.09 L1144.38 79.74 L1144.62 79.40 L1144.87 79.10 L1145.12 78.82 L1145.36 78.56 L1145.61 78.33 L1145.86 78.11 L1146.11 77.93 L1146.35 77.76 L1146.60 77.61 L1146.85 77.48 L1147.09 77.36 L1147.34 77.27 L1147.59 77.19 L1147.83 77.13 L1148.08 77.08 L1148.33 77.05 L1148.57 77.03 L1148.82 77.03 L1149.07 77.04 L1149.31 77.06 L1149.56 77.09 L1149.81 77.14 L1150.05 77.19 L1150.30 77.26 L1150.55 77.34 L1150.79 77.42 L1151.04 77.52 L1151.29 77.62 L1151.54 77.74 L1151.78 77.86 L1152.03 77.99 L1152.28 78.13 L1152.52 78.27 L1152.77 78.42 L1153.02 78.58 L1153.26 78.75 L1153.51 78.92 L1153.76 79.09 L1154.00 79.27 L1154.25 79.46 L1154.50 79.65 L1154.74 79.85 L1154.99 80.05 L1155.24 80.26 L1155.48 80.47 L1155.73 80.69 L1155.98 80.90 L1156.22 81.13 L1156.47 81.35 L1156.72 81.58 L1156.97 81.81 L1157.21 82.05 L1157.46 82.29 L1157.71 82.53 L1157.95 82.77 L1158.20 83.02 L1158.45 83.27 L1158.69 83.52 L1158.94 83.77 L1159.19 84.03 L1159.68 84.54 L1160.75 85.69 L1161.82 86.86 L1162.89 88.05 L1163.97 89.25 L1165.04 90.47 L1166.11 91.69 L1167.18 92.92 L1168.25 94.14 L1169.32 95.37 L1170.40 96.60 L1171.47 97.82 L1172.54 99.04 L1173.61 100.25 L1174.68 101.45 L1175.75 102.65 L1176.83 103.84 L1177.90 105.02 L1178.97 106.19 L1180.04 107.35 L1181.11 108.51 L1182.18 109.65 L1183.26 110.79 L1184.33 111.91 L1185.40 113.03 L1186.47 114.13 L1187.54 115.23 L1188.61 116.31 L1189.69 117.39 L1190.76 118.45 L1191.83 119.51 L1192.90 120.55 L1193.97 121.59 L1195.04 122.62 L1196.12 123.63 L1197.19 124.64 L1198.26 125.64 L1199.33 126.63 L1200.40 127.61 L1201.47 128.58 L1202.54 129.54 L1203.62 130.49 L1204.69 131.43 L1205.76 132.37 L1206.83 133.29 L1207.90 134.21 L1208.97 135.12 L1210.05 136.02 L1211.12 136.91 L1212.19 137.79 L1213.26 138.66 L1214.33 139.53 L1215.40 140.39 L1216.48 141.24 L1217.55 142.08 L1218.62 142.91 L1219.69 143.74 L1220.76 144.55 L1221.83 145.36 L1222.91 146.17 L1223.98 146.96 L1225.05 147.75 L1226.12 148.53 L1227.19 149.30 L1228.26 150.06 L1229.34 150.82 L1230.41 151.57 L1231.48 152.32 L1232.55 153.05 L1233.62 153.78 L1234.69 154.50 L1235.76 155.22 L1236.84 155.93 L1237.91 156.63 L1238.98 157.32 L1240.05 158.01 L1241.12 158.70 L1242.19 159.37 L1243.27 160.04 L1244.34 160.70 L1245.41 161.36 L1246.48 162.01 L1247.55 162.65 L1248.62 163.29 L1249.70 163.92 L1250.77 164.55 L1251.84 165.17 L1252.91 165.79 L1253.98 166.39 L1255.05 167.00 L1256.13 167.59 L1257.20 168.19 L1258.27 168.77 L1259.34 169.35 L1260.41 169.93 L1261.48 170.49 L1262.56 171.06 L1263.63 171.62 L1264.70 172.17 L1265.77 172.72 L1266.84 173.26 L1267.91 173.80 L1268.99 174.33 L1270.06 174.86 L1271.13 175.38 L1272.20 175.90 L1273.27 176.41 L1274.34 176.92 L1275.41 177.42 L1276.49 177.92 L1277.56 178.41 L1278.63 178.90 L1279.70 179.39 L1280.77 179.87 L1281.84 180.34 L1282.92 180.81 L1283.99 181.28 L1285.06 181.74 L1286.13 182.20 L1287.20 182.65 L1288.27 183.10 L1289.35 183.54 L1290.42 183.98 L1291.49 184.42 L1292.56 184.85 L1293.63 185.28 L1294.70 185.70 L1295.78 186.12 L1296.85 186.54 L1297.92 186.95 L1298.99 187.35 L1300.06 187.76 L1301.13 188.16 L1302.21 188.55 L1303.28 188.95 L1304.35 189.34 L1305.42 189.72 L1306.49 190.10 L1307.56 190.48 L1308.63 190.85 L1309.71 191.23 L1310.78 191.59 L1311.85 191.96 L1312.92 192.32 L1313.99 192.67 L1315.06 193.03 L1316.14 193.38 L1317.21 193.72 L1318.28 194.07 L1319.35 194.41 L1320.42 194.74 L1321.49 195.08 L1322.57 195.41 L1323.64 195.74 L1324.71 196.06 L1325.78 196.38 L1326.85 196.70 L1327.92 197.02 L1329.00 197.33 L1330.07 197.64 L1331.14 197.94 L1332.21 198.25 L1333.28 198.55 L1334.35 198.85 L1335.43 199.14 L1336.50 199.43 L1337.57 199.72 L1338.64 200.01 L1339.71 200.29 L1340.78 200.57 L1341.85 200.85 L1342.93 201.13 L1344.00 201.40 L1345.07 201.67 L1346.14 201.94 L1347.21 202.21 L1348.28 202.47 L1349.36 202.73 L1350.43 202.99 L1351.50 203.24 L1352.57 203.50 L1353.64 203.75 L1354.71 204.00 L1355.79 204.24 L1356.86 204.48 L1357.93 204.73 L1359.00 204.97 L1360.07 205.20 L1361.14 205.44 L1362.22 205.67 L1363.29 205.90 L1364.36 206.13 L1365.43 206.35 L1366.50 206.58 L1367.57 206.80 L1368.65 207.02 L1369.72 207.24 L1370.79 207.45 L1371.86 207.66 L1372.93 207.88" stroke="#0E9A57" stroke-width="2.85" fill="none" stroke-dasharray="11.4 11.4" stroke-linejoin="round"/></g><path d="M1117.40 59.60V238.05H1385.10" stroke="#1A1A1A" stroke-width="1.1" fill="none" stroke-linecap="butt"/><path d="M1110.05 229.94H1117.40M1110.05 182.78H1117.40M1110.05 135.62H1117.40M1110.05 88.46H1117.40M1129.57 238.05V245.40M1178.93 238.05V245.40M1228.30 238.05V245.40M1277.66 238.05V245.40M1327.02 238.05V245.40M1376.39 238.05V245.40" stroke="#333333" stroke-width="2.7" fill="none"/><text x="1104.25" y="238" text-anchor="end" fill="#4D4D4D" font-size="23.2">0.0</text><text x="1104.25" y="191" text-anchor="end" fill="#4D4D4D" font-size="23.2">2.5</text><text x="1104.25" y="144" text-anchor="end" fill="#4D4D4D" font-size="23.2">5.0</text><text x="1104.25" y="97" text-anchor="end" fill="#4D4D4D" font-size="23.2">7.5</text><text x="1129.57" y="268" text-anchor="middle" fill="#4D4D4D" font-size="23.2">0</text><text x="1178.93" y="268" text-anchor="middle" fill="#4D4D4D" font-size="23.2">5</text><path transform="translate(1215.40,268.00) scale(0.011328,-0.011781)" d="M763 0L583 0L583 1147Q518 1085 465 1054Q412 1023 360 992Q307 961 223 930L223 1104Q374 1175 430 1225Q487 1276 543 1326Q600 1377 647 1409L763 1409Z" fill="#4D4D4D"/><text x="1228.29" y="268.00" fill="#4D4D4D" font-size="23.2" style="white-space:pre">0</text><path transform="translate(1264.76,268.00) scale(0.011328,-0.011781)" d="M763 0L583 0L583 1147Q518 1085 465 1054Q412 1023 360 992Q307 961 223 930L223 1104Q374 1175 430 1225Q487 1276 543 1326Q600 1377 647 1409L763 1409Z" fill="#4D4D4D"/><text x="1277.65" y="268.00" fill="#4D4D4D" font-size="23.2" style="white-space:pre">5</text><text x="1327.02" y="268" text-anchor="middle" fill="#4D4D4D" font-size="23.2">20</text><text x="1376.39" y="268" text-anchor="middle" fill="#4D4D4D" font-size="23.2">25</text><text x="1251.25" y="45" text-anchor="middle" fill="#1A1A1A" font-size="23.2">id: 4</text><path d="M107.10 481.19H374.80M107.10 438.50H374.80M107.10 395.81H374.80M107.10 353.12H374.80M144.25 332.20V510.65M194.23 332.20V510.65M244.20 332.20V510.65M294.17 332.20V510.65M344.14 332.20V510.65" stroke="#DCDCDC" stroke-width="1.0" fill="none"/><path d="M107.10 502.54H374.80M107.10 459.85H374.80M107.10 417.16H374.80M107.10 374.46H374.80M119.27 332.20V510.65M169.24 332.20V510.65M219.21 332.20V510.65M269.18 332.20V510.65M319.16 332.20V510.65M369.13 332.20V510.65" stroke="#DCDCDC" stroke-width="1.0" fill="none"/><g clip-path="url(#c5)"><g fill="#4682B4"><circle cx="122.27" cy="473.79" r="4.7"/><circle cx="124.47" cy="422.42" r="4.7"/><circle cx="129.26" cy="340.31" r="4.7"/><circle cx="139.46" cy="369.77" r="4.7"/><circle cx="154.25" cy="378.16" r="4.7"/><circle cx="169.44" cy="394.96" r="4.7"/><circle cx="189.43" cy="401.64" r="4.7"/><circle cx="210.22" cy="418.58" r="4.7"/><circle cx="239.20" cy="440.35" r="4.7"/><circle cx="362.63" cy="480.20" r="4.7"/></g><path d="M119.27 502.54 L119.52 496.88 L119.77 491.42 L120.02 486.15 L120.27 481.06 L120.52 476.15 L120.77 471.41 L121.02 466.83 L121.27 462.42 L121.52 458.16 L121.77 454.06 L122.02 450.10 L122.27 446.28 L122.52 442.59 L122.77 439.04 L123.02 435.62 L123.27 432.32 L123.52 429.14 L123.77 426.07 L124.02 423.12 L124.27 420.27 L124.52 417.53 L124.77 414.89 L125.01 412.34 L125.26 409.90 L125.51 407.54 L125.76 405.27 L126.01 403.09 L126.26 400.99 L126.51 398.97 L126.76 397.03 L127.01 395.16 L127.26 393.36 L127.51 391.64 L127.76 389.98 L128.01 388.39 L128.26 386.86 L128.51 385.40 L128.76 383.99 L129.01 382.64 L129.26 381.35 L129.51 380.11 L129.76 378.92 L130.01 377.78 L130.26 376.69 L130.51 375.65 L130.76 374.65 L131.01 373.70 L131.26 372.78 L131.51 371.91 L131.76 371.08 L132.01 370.29 L132.26 369.54 L132.51 368.82 L132.76 368.13 L133.01 367.48 L133.26 366.87 L133.51 366.28 L133.76 365.72 L134.01 365.19 L134.26 364.70 L134.51 364.22 L134.76 363.78 L135.01 363.36 L135.26 362.96 L135.51 362.59 L135.76 362.25 L136.01 361.92 L136.26 361.62 L136.51 361.33 L136.76 361.07 L137.01 360.83 L137.26 360.60 L137.51 360.40 L137.76 360.21 L138.01 360.04 L138.26 359.88 L138.51 359.74 L138.76 359.62 L139.01 359.51 L139.26 359.42 L139.51 359.33 L139.76 359.27 L140.01 359.21 L140.26 359.17 L140.51 359.14 L140.76 359.12 L141.01 359.11 L141.26 359.12 L141.51 359.13 L141.76 359.15 L142.01 359.19 L142.26 359.23 L142.51 359.28 L142.76 359.34 L143.00 359.41 L143.25 359.49 L143.50 359.57 L143.75 359.67 L144.00 359.77 L144.25 359.87 L144.50 359.99 L144.75 360.11 L145.00 360.23 L145.25 360.37 L145.50 360.50 L145.75 360.65 L146.00 360.80 L146.25 360.95 L146.50 361.11 L146.75 361.28 L147.00 361.45 L147.25 361.62 L147.50 361.80 L147.75 361.98 L148.00 362.17 L148.25 362.36 L148.50 362.55 L148.75 362.75 L149.00 362.95 L149.25 363.16 L149.75 363.57 L150.82 364.51 L151.89 365.49 L152.96 366.50 L154.03 367.55 L155.10 368.62 L156.17 369.72 L157.24 370.83 L158.31 371.95 L159.38 373.08 L160.45 374.22 L161.52 375.36 L162.59 376.50 L163.66 377.65 L164.73 378.79 L165.80 379.93 L166.87 381.07 L167.94 382.20 L169.01 383.33 L170.08 384.45 L171.15 385.57 L172.22 386.67 L173.29 387.77 L174.36 388.87 L175.43 389.95 L176.49 391.03 L177.56 392.09 L178.63 393.15 L179.70 394.20 L180.77 395.24 L181.84 396.28 L182.91 397.30 L183.98 398.31 L185.05 399.32 L186.12 400.31 L187.19 401.30 L188.26 402.28 L189.33 403.24 L190.40 404.20 L191.47 405.15 L192.54 406.09 L193.61 407.03 L194.68 407.95 L195.75 408.86 L196.82 409.77 L197.89 410.67 L198.96 411.56 L200.03 412.44 L201.10 413.31 L202.17 414.17 L203.24 415.03 L204.31 415.87 L205.38 416.71 L206.45 417.54 L207.52 418.37 L208.59 419.18 L209.66 419.99 L210.73 420.79 L211.80 421.58 L212.87 422.36 L213.94 423.14 L215.01 423.91 L216.08 424.67 L217.15 425.42 L218.22 426.17 L219.29 426.91 L220.35 427.64 L221.42 428.36 L222.49 429.08 L223.56 429.79 L224.63 430.50 L225.70 431.20 L226.77 431.89 L227.84 432.57 L228.91 433.25 L229.98 433.92 L231.05 434.58 L232.12 435.24 L233.19 435.89 L234.26 436.54 L235.33 437.18 L236.40 437.81 L237.47 438.44 L238.54 439.06 L239.61 439.67 L240.68 440.28 L241.75 440.88 L242.82 441.48 L243.89 442.07 L244.96 442.66 L246.03 443.24 L247.10 443.81 L248.17 444.38 L249.24 444.94 L250.31 445.50 L251.38 446.05 L252.45 446.60 L253.52 447.14 L254.59 447.68 L255.66 448.21 L256.73 448.73 L257.80 449.25 L258.87 449.77 L259.94 450.28 L261.01 450.79 L262.08 451.29 L263.14 451.78 L264.21 452.28 L265.28 452.76 L266.35 453.24 L267.42 453.72 L268.49 454.19 L269.56 454.66 L270.63 455.13 L271.70 455.59 L272.77 456.04 L273.84 456.49 L274.91 456.94 L275.98 457.38 L277.05 457.81 L278.12 458.25 L279.19 458.68 L280.26 459.10 L281.33 459.52 L282.40 459.94 L283.47 460.35 L284.54 460.76 L285.61 461.16 L286.68 461.56 L287.75 461.96 L288.82 462.35 L289.89 462.74 L290.96 463.13 L292.03 463.51 L293.10 463.89 L294.17 464.26 L295.24 464.63 L296.31 465.00 L297.38 465.36 L298.45 465.72 L299.52 466.08 L300.59 466.43 L301.66 466.78 L302.73 467.13 L303.80 467.47 L304.87 467.81 L305.93 468.15 L307.00 468.48 L308.07 468.81 L309.14 469.14 L310.21 469.46 L311.28 469.78 L312.35 470.10 L313.42 470.41 L314.49 470.72 L315.56 471.03 L316.63 471.33 L317.70 471.64 L318.77 471.94 L319.84 472.23 L320.91 472.53 L321.98 472.82 L323.05 473.10 L324.12 473.39 L325.19 473.67 L326.26 473.95 L327.33 474.23 L328.40 474.50 L329.47 474.77 L330.54 475.04 L331.61 475.31 L332.68 475.57 L333.75 475.83 L334.82 476.09 L335.89 476.35 L336.96 476.60 L338.03 476.85 L339.10 477.10 L340.17 477.35 L341.24 477.59 L342.31 477.83 L343.38 478.07 L344.45 478.31 L345.52 478.54 L346.59 478.78 L347.66 479.01 L348.73 479.23 L349.79 479.46 L350.86 479.68 L351.93 479.90 L353.00 480.12 L354.07 480.34 L355.14 480.55 L356.21 480.77 L357.28 480.98 L358.35 481.19 L359.42 481.39 L360.49 481.60 L361.56 481.80 L362.63 482.00" stroke="#B88AC8" stroke-width="3.7" fill="none" stroke-linejoin="round"/><path d="M119.27 502.54 L119.52 495.53 L119.77 488.81 L120.02 482.36 L120.27 476.17 L120.52 470.24 L120.77 464.55 L121.02 459.09 L121.27 453.87 L121.52 448.85 L121.77 444.05 L122.02 439.44 L122.27 435.03 L122.52 430.80 L122.77 426.75 L123.02 422.87 L123.27 419.16 L123.52 415.60 L123.77 412.20 L124.02 408.94 L124.27 405.82 L124.52 402.84 L124.77 399.98 L125.01 397.25 L125.26 394.64 L125.51 392.15 L125.76 389.76 L126.01 387.48 L126.26 385.31 L126.51 383.23 L126.76 381.25 L127.01 379.36 L127.26 377.55 L127.51 375.83 L127.76 374.19 L128.01 372.63 L128.26 371.14 L128.51 369.72 L128.76 368.37 L129.01 367.09 L129.26 365.87 L129.51 364.71 L129.76 363.61 L130.01 362.57 L130.26 361.58 L130.51 360.65 L130.76 359.76 L131.01 358.92 L131.26 358.13 L131.51 357.38 L131.76 356.67 L132.01 356.01 L132.26 355.39 L132.51 354.80 L132.76 354.25 L133.01 353.73 L133.26 353.25 L133.51 352.80 L133.76 352.38 L134.01 351.99 L134.26 351.63 L134.51 351.29 L134.76 350.99 L135.01 350.71 L135.26 350.45 L135.51 350.21 L135.76 350.00 L136.01 349.81 L136.26 349.64 L136.51 349.49 L136.76 349.36 L137.01 349.25 L137.26 349.15 L137.51 349.07 L137.76 349.01 L138.01 348.96 L138.26 348.93 L138.51 348.91 L138.76 348.91 L139.01 348.92 L139.26 348.94 L139.51 348.97 L139.76 349.02 L140.01 349.07 L140.26 349.14 L140.51 349.22 L140.76 349.31 L141.01 349.40 L141.26 349.51 L141.51 349.62 L141.76 349.74 L142.01 349.88 L142.26 350.01 L142.51 350.16 L142.76 350.31 L143.00 350.47 L143.25 350.63 L143.50 350.81 L143.75 350.98 L144.00 351.17 L144.25 351.35 L144.50 351.55 L144.75 351.75 L145.00 351.95 L145.25 352.16 L145.50 352.37 L145.75 352.58 L146.00 352.80 L146.25 353.03 L146.50 353.25 L146.75 353.48 L147.00 353.72 L147.25 353.95 L147.50 354.19 L147.75 354.44 L148.00 354.68 L148.25 354.93 L148.50 355.18 L148.75 355.43 L149.00 355.68 L149.25 355.94 L149.75 356.46 L150.82 357.59 L151.89 358.75 L152.96 359.93 L154.03 361.12 L155.10 362.33 L156.17 363.54 L157.24 364.75 L158.31 365.97 L159.38 367.19 L160.45 368.40 L161.52 369.61 L162.59 370.82 L163.66 372.02 L164.73 373.21 L165.80 374.40 L166.87 375.58 L167.94 376.75 L169.01 377.92 L170.08 379.07 L171.15 380.22 L172.22 381.35 L173.29 382.48 L174.36 383.60 L175.43 384.70 L176.49 385.80 L177.56 386.89 L178.63 387.97 L179.70 389.04 L180.77 390.10 L181.84 391.15 L182.91 392.19 L183.98 393.22 L185.05 394.24 L186.12 395.25 L187.19 396.25 L188.26 397.25 L189.33 398.23 L190.40 399.21 L191.47 400.17 L192.54 401.13 L193.61 402.08 L194.68 403.02 L195.75 403.95 L196.82 404.87 L197.89 405.78 L198.96 406.69 L200.03 407.59 L201.10 408.47 L202.17 409.35 L203.24 410.23 L204.31 411.09 L205.38 411.94 L206.45 412.79 L207.52 413.63 L208.59 414.46 L209.66 415.29 L210.73 416.10 L211.80 416.91 L212.87 417.71 L213.94 418.51 L215.01 419.29 L216.08 420.07 L217.15 420.84 L218.22 421.61 L219.29 422.36 L220.35 423.11 L221.42 423.86 L222.49 424.59 L223.56 425.32 L224.63 426.04 L225.70 426.76 L226.77 427.47 L227.84 428.17 L228.91 428.86 L229.98 429.55 L231.05 430.24 L232.12 430.91 L233.19 431.58 L234.26 432.25 L235.33 432.90 L236.40 433.56 L237.47 434.20 L238.54 434.84 L239.61 435.47 L240.68 436.10 L241.75 436.72 L242.82 437.34 L243.89 437.95 L244.96 438.55 L246.03 439.15 L247.10 439.74 L248.17 440.33 L249.24 440.91 L250.31 441.49 L251.38 442.06 L252.45 442.63 L253.52 443.19 L254.59 443.74 L255.66 444.29 L256.73 444.84 L257.80 445.38 L258.87 445.91 L259.94 446.44 L261.01 446.96 L262.08 447.48 L263.14 448.00 L264.21 448.51 L265.28 449.01 L266.35 449.52 L267.42 450.01 L268.49 450.50 L269.56 450.99 L270.63 451.47 L271.70 451.95 L272.77 452.42 L273.84 452.89 L274.91 453.36 L275.98 453.82 L277.05 454.27 L278.12 454.72 L279.19 455.17 L280.26 455.61 L281.33 456.05 L282.40 456.49 L283.47 456.92 L284.54 457.34 L285.61 457.77 L286.68 458.19 L287.75 458.60 L288.82 459.01 L289.89 459.42 L290.96 459.82 L292.03 460.22 L293.10 460.62 L294.17 461.01 L295.24 461.40 L296.31 461.78 L297.38 462.16 L298.45 462.54 L299.52 462.92 L300.59 463.29 L301.66 463.65 L302.73 464.02 L303.80 464.38 L304.87 464.73 L305.93 465.09 L307.00 465.44 L308.07 465.79 L309.14 466.13 L310.21 466.47 L311.28 466.81 L312.35 467.14 L313.42 467.47 L314.49 467.80 L315.56 468.13 L316.63 468.45 L317.70 468.77 L318.77 469.08 L319.84 469.39 L320.91 469.70 L321.98 470.01 L323.05 470.32 L324.12 470.62 L325.19 470.92 L326.26 471.21 L327.33 471.51 L328.40 471.80 L329.47 472.08 L330.54 472.37 L331.61 472.65 L332.68 472.93 L333.75 473.21 L334.82 473.48 L335.89 473.75 L336.96 474.02 L338.03 474.29 L339.10 474.55 L340.17 474.81 L341.24 475.07 L342.31 475.33 L343.38 475.59 L344.45 475.84 L345.52 476.09 L346.59 476.33 L347.66 476.58 L348.73 476.82 L349.79 477.06 L350.86 477.30 L351.93 477.54 L353.00 477.77 L354.07 478.00 L355.14 478.23 L356.21 478.46 L357.28 478.69 L358.35 478.91 L359.42 479.13 L360.49 479.35 L361.56 479.57 L362.63 479.78" stroke="#0E9A57" stroke-width="2.85" fill="none" stroke-dasharray="11.4 11.4" stroke-linejoin="round"/></g><path d="M107.10 332.20V510.65H374.80" stroke="#1A1A1A" stroke-width="1.1" fill="none" stroke-linecap="butt"/><path d="M99.75 502.54H107.10M99.75 459.85H107.10M99.75 417.16H107.10M99.75 374.46H107.10M119.27 510.65V518.00M169.24 510.65V518.00M219.21 510.65V518.00M269.18 510.65V518.00M319.16 510.65V518.00M369.13 510.65V518.00" stroke="#333333" stroke-width="2.7" fill="none"/><text x="93.95" y="511" text-anchor="end" fill="#4D4D4D" font-size="23.2">0</text><text x="93.95" y="468" text-anchor="end" fill="#4D4D4D" font-size="23.2">3</text><text x="93.95" y="425" text-anchor="end" fill="#4D4D4D" font-size="23.2">6</text><text x="93.95" y="383" text-anchor="end" fill="#4D4D4D" font-size="23.2">9</text><text x="119.27" y="541" text-anchor="middle" fill="#4D4D4D" font-size="23.2">0</text><text x="169.24" y="541" text-anchor="middle" fill="#4D4D4D" font-size="23.2">5</text><path transform="translate(206.31,541.00) scale(0.011328,-0.011781)" d="M763 0L583 0L583 1147Q518 1085 465 1054Q412 1023 360 992Q307 961 223 930L223 1104Q374 1175 430 1225Q487 1276 543 1326Q600 1377 647 1409L763 1409Z" fill="#4D4D4D"/><text x="219.20" y="541.00" fill="#4D4D4D" font-size="23.2" style="white-space:pre">0</text><path transform="translate(256.28,541.00) scale(0.011328,-0.011781)" d="M763 0L583 0L583 1147Q518 1085 465 1054Q412 1023 360 992Q307 961 223 930L223 1104Q374 1175 430 1225Q487 1276 543 1326Q600 1377 647 1409L763 1409Z" fill="#4D4D4D"/><text x="269.17" y="541.00" fill="#4D4D4D" font-size="23.2" style="white-space:pre">5</text><text x="319.16" y="541" text-anchor="middle" fill="#4D4D4D" font-size="23.2">20</text><text x="369.13" y="541" text-anchor="middle" fill="#4D4D4D" font-size="23.2">25</text><text x="240.95" y="318" text-anchor="middle" fill="#1A1A1A" font-size="23.2">id: 5</text><path d="M448.30 480.50H716.00M448.30 436.41H716.00M448.30 392.33H716.00M448.30 348.25H716.00M485.98 332.20V510.65M537.00 332.20V510.65M588.02 332.20V510.65M639.04 332.20V510.65M690.06 332.20V510.65" stroke="#DCDCDC" stroke-width="1.0" fill="none"/><path d="M448.30 502.54H716.00M448.30 458.46H716.00M448.30 414.37H716.00M448.30 370.29H716.00M460.47 332.20V510.65M511.49 332.20V510.65M562.51 332.20V510.65M613.53 332.20V510.65M664.55 332.20V510.65M715.57 332.20V510.65" stroke="#DCDCDC" stroke-width="1.0" fill="none"/><g clip-path="url(#c6)"><g fill="#4682B4"><circle cx="463.22" cy="474.10" r="4.7"/><circle cx="466.39" cy="434.65" r="4.7"/><circle cx="472.20" cy="360.59" r="4.7"/><circle cx="481.18" cy="363.23" r="4.7"/><circle cx="496.90" cy="380.65" r="4.7"/><circle cx="511.49" cy="393.65" r="4.7"/><circle cx="531.90" cy="413.93" r="4.7"/><circle cx="554.55" cy="426.27" r="4.7"/><circle cx="583.94" cy="441.26" r="4.7"/><circle cx="703.83" cy="482.26" r="4.7"/></g><path d="M460.47 502.54 L460.72 497.86 L460.98 493.31 L461.23 488.90 L461.49 484.61 L461.74 480.45 L462.00 476.41 L462.25 472.48 L462.51 468.67 L462.76 464.98 L463.02 461.39 L463.27 457.91 L463.53 454.53 L463.78 451.25 L464.04 448.07 L464.29 444.99 L464.55 442.00 L464.80 439.09 L465.06 436.28 L465.32 433.55 L465.57 430.91 L465.83 428.34 L466.08 425.86 L466.34 423.45 L466.59 421.11 L466.85 418.85 L467.10 416.66 L467.36 414.53 L467.61 412.48 L467.87 410.49 L468.12 408.56 L468.38 406.70 L468.63 404.89 L468.89 403.14 L469.14 401.45 L469.40 399.82 L469.65 398.24 L469.91 396.71 L470.16 395.23 L470.42 393.81 L470.67 392.43 L470.93 391.09 L471.18 389.81 L471.44 388.57 L471.69 387.37 L471.95 386.21 L472.20 385.10 L472.46 384.02 L472.71 382.98 L472.97 381.98 L473.22 381.02 L473.48 380.10 L473.73 379.20 L473.99 378.35 L474.24 377.52 L474.50 376.73 L474.75 375.97 L475.01 375.24 L475.26 374.54 L475.52 373.86 L475.77 373.22 L476.03 372.60 L476.28 372.01 L476.54 371.44 L476.79 370.90 L477.05 370.39 L477.30 369.89 L477.56 369.42 L477.81 368.98 L478.07 368.55 L478.33 368.15 L478.58 367.76 L478.84 367.40 L479.09 367.05 L479.35 366.73 L479.60 366.42 L479.86 366.13 L480.11 365.86 L480.37 365.61 L480.62 365.37 L480.88 365.15 L481.13 364.94 L481.39 364.75 L481.64 364.57 L481.90 364.41 L482.15 364.26 L482.41 364.12 L482.66 364.00 L482.92 363.89 L483.17 363.79 L483.43 363.71 L483.68 363.64 L483.94 363.57 L484.19 363.52 L484.45 363.48 L484.70 363.45 L484.96 363.43 L485.21 363.42 L485.47 363.42 L485.72 363.43 L485.98 363.45 L486.23 363.47 L486.49 363.51 L486.74 363.55 L487.00 363.60 L487.25 363.66 L487.51 363.73 L487.76 363.80 L488.02 363.88 L488.27 363.97 L488.53 364.07 L488.78 364.17 L489.04 364.28 L489.29 364.39 L489.55 364.51 L489.80 364.63 L490.06 364.76 L490.31 364.90 L490.57 365.04 L490.82 365.19 L491.08 365.34 L491.59 365.66 L492.66 366.37 L493.72 367.16 L494.79 368.01 L495.86 368.91 L496.92 369.85 L497.99 370.84 L499.06 371.85 L500.12 372.90 L501.19 373.96 L502.26 375.05 L503.32 376.16 L504.39 377.28 L505.46 378.40 L506.52 379.54 L507.59 380.68 L508.65 381.83 L509.72 382.98 L510.79 384.13 L511.85 385.28 L512.92 386.43 L513.99 387.57 L515.05 388.71 L516.12 389.85 L517.19 390.98 L518.25 392.10 L519.32 393.22 L520.39 394.33 L521.45 395.43 L522.52 396.53 L523.59 397.61 L524.65 398.69 L525.72 399.76 L526.79 400.82 L527.85 401.87 L528.92 402.92 L529.99 403.95 L531.05 404.97 L532.12 405.99 L533.19 407.00 L534.25 407.99 L535.32 408.98 L536.38 409.95 L537.45 410.92 L538.52 411.88 L539.58 412.83 L540.65 413.77 L541.72 414.70 L542.78 415.62 L543.85 416.53 L544.92 417.43 L545.98 418.32 L547.05 419.21 L548.12 420.08 L549.18 420.95 L550.25 421.80 L551.32 422.65 L552.38 423.49 L553.45 424.32 L554.52 425.14 L555.58 425.96 L556.65 426.76 L557.72 427.56 L558.78 428.35 L559.85 429.13 L560.92 429.90 L561.98 430.66 L563.05 431.42 L564.11 432.16 L565.18 432.90 L566.25 433.64 L567.31 434.36 L568.38 435.08 L569.45 435.79 L570.51 436.49 L571.58 437.18 L572.65 437.87 L573.71 438.55 L574.78 439.23 L575.85 439.89 L576.91 440.55 L577.98 441.20 L579.05 441.85 L580.11 442.49 L581.18 443.12 L582.25 443.74 L583.31 444.36 L584.38 444.97 L585.45 445.58 L586.51 446.18 L587.58 446.77 L588.65 447.36 L589.71 447.94 L590.78 448.51 L591.85 449.08 L592.91 449.64 L593.98 450.20 L595.04 450.75 L596.11 451.30 L597.18 451.84 L598.24 452.37 L599.31 452.90 L600.38 453.42 L601.44 453.94 L602.51 454.45 L603.58 454.95 L604.64 455.45 L605.71 455.95 L606.78 456.44 L607.84 456.92 L608.91 457.40 L609.98 457.88 L611.04 458.35 L612.11 458.81 L613.18 459.27 L614.24 459.73 L615.31 460.18 L616.38 460.62 L617.44 461.07 L618.51 461.50 L619.58 461.93 L620.64 462.36 L621.71 462.78 L622.77 463.20 L623.84 463.62 L624.91 464.03 L625.97 464.43 L627.04 464.83 L628.11 465.23 L629.17 465.62 L630.24 466.01 L631.31 466.39 L632.37 466.77 L633.44 467.15 L634.51 467.52 L635.57 467.89 L636.64 468.26 L637.71 468.62 L638.77 468.97 L639.84 469.33 L640.91 469.68 L641.97 470.02 L643.04 470.36 L644.11 470.70 L645.17 471.04 L646.24 471.37 L647.31 471.70 L648.37 472.02 L649.44 472.34 L650.50 472.66 L651.57 472.97 L652.64 473.29 L653.70 473.59 L654.77 473.90 L655.84 474.20 L656.90 474.50 L657.97 474.79 L659.04 475.08 L660.10 475.37 L661.17 475.66 L662.24 475.94 L663.30 476.22 L664.37 476.50 L665.44 476.77 L666.50 477.04 L667.57 477.31 L668.64 477.58 L669.70 477.84 L670.77 478.10 L671.84 478.36 L672.90 478.61 L673.97 478.86 L675.04 479.11 L676.10 479.36 L677.17 479.60 L678.23 479.84 L679.30 480.08 L680.37 480.32 L681.43 480.55 L682.50 480.78 L683.57 481.01 L684.63 481.24 L685.70 481.46 L686.77 481.68 L687.83 481.90 L688.90 482.12 L689.97 482.34 L691.03 482.55 L692.10 482.76 L693.17 482.97 L694.23 483.17 L695.30 483.38 L696.37 483.58 L697.43 483.78 L698.50 483.98 L699.57 484.17 L700.63 484.36 L701.70 484.55 L702.77 484.74 L703.83 484.93" stroke="#B88AC8" stroke-width="3.7" fill="none" stroke-linejoin="round"/><path d="M460.47 502.54 L460.72 495.13 L460.98 488.02 L461.23 481.20 L461.49 474.66 L461.74 468.39 L462.00 462.37 L462.25 456.61 L462.51 451.08 L462.76 445.78 L463.02 440.70 L463.27 435.83 L463.53 431.16 L463.78 426.69 L464.04 422.41 L464.29 418.31 L464.55 414.38 L464.80 410.62 L465.06 407.02 L465.32 403.58 L465.57 400.28 L465.83 397.13 L466.08 394.11 L466.34 391.22 L466.59 388.46 L466.85 385.82 L467.10 383.30 L467.36 380.89 L467.61 378.59 L467.87 376.40 L468.12 374.30 L468.38 372.30 L468.63 370.39 L468.89 368.57 L469.14 366.84 L469.40 365.18 L469.65 363.61 L469.91 362.11 L470.16 360.69 L470.42 359.33 L470.67 358.04 L470.93 356.82 L471.18 355.66 L471.44 354.55 L471.69 353.51 L471.95 352.52 L472.20 351.58 L472.46 350.69 L472.71 349.86 L472.97 349.07 L473.22 348.32 L473.48 347.62 L473.73 346.96 L473.99 346.34 L474.24 345.75 L474.50 345.21 L474.75 344.70 L475.01 344.22 L475.26 343.78 L475.52 343.37 L475.77 342.98 L476.03 342.63 L476.28 342.31 L476.54 342.01 L476.79 341.74 L477.05 341.49 L477.30 341.26 L477.56 341.06 L477.81 340.88 L478.07 340.72 L478.33 340.58 L478.58 340.47 L478.84 340.36 L479.09 340.28 L479.35 340.22 L479.60 340.17 L479.86 340.13 L480.11 340.11 L480.37 340.11 L480.62 340.12 L480.88 340.14 L481.13 340.18 L481.39 340.22 L481.64 340.28 L481.90 340.36 L482.15 340.44 L482.41 340.53 L482.66 340.63 L482.92 340.74 L483.17 340.86 L483.43 340.99 L483.68 341.13 L483.94 341.28 L484.19 341.43 L484.45 341.59 L484.70 341.76 L484.96 341.93 L485.21 342.11 L485.47 342.30 L485.72 342.50 L485.98 342.69 L486.23 342.90 L486.49 343.11 L486.74 343.32 L487.00 343.54 L487.25 343.77 L487.51 343.99 L487.76 344.23 L488.02 344.46 L488.27 344.70 L488.53 344.95 L488.78 345.19 L489.04 345.44 L489.29 345.70 L489.55 345.95 L489.80 346.21 L490.06 346.47 L490.31 346.74 L490.57 347.00 L490.82 347.27 L491.08 347.54 L491.59 348.09 L492.66 349.26 L493.72 350.46 L494.79 351.67 L495.86 352.90 L496.92 354.14 L497.99 355.39 L499.06 356.65 L500.12 357.90 L501.19 359.16 L502.26 360.42 L503.32 361.67 L504.39 362.91 L505.46 364.16 L506.52 365.39 L507.59 366.62 L508.65 367.84 L509.72 369.05 L510.79 370.26 L511.85 371.45 L512.92 372.64 L513.99 373.82 L515.05 374.99 L516.12 376.15 L517.19 377.30 L518.25 378.43 L519.32 379.56 L520.39 380.68 L521.45 381.79 L522.52 382.89 L523.59 383.99 L524.65 385.07 L525.72 386.14 L526.79 387.20 L527.85 388.25 L528.92 389.30 L529.99 390.33 L531.05 391.35 L532.12 392.37 L533.19 393.38 L534.25 394.37 L535.32 395.36 L536.38 396.34 L537.45 397.31 L538.52 398.27 L539.58 399.22 L540.65 400.17 L541.72 401.10 L542.78 402.03 L543.85 402.95 L544.92 403.86 L545.98 404.76 L547.05 405.65 L548.12 406.53 L549.18 407.41 L550.25 408.28 L551.32 409.14 L552.38 409.99 L553.45 410.84 L554.52 411.68 L555.58 412.51 L556.65 413.33 L557.72 414.15 L558.78 414.95 L559.85 415.75 L560.92 416.55 L561.98 417.33 L563.05 418.11 L564.11 418.88 L565.18 419.65 L566.25 420.40 L567.31 421.15 L568.38 421.90 L569.45 422.63 L570.51 423.36 L571.58 424.09 L572.65 424.80 L573.71 425.51 L574.78 426.22 L575.85 426.91 L576.91 427.60 L577.98 428.29 L579.05 428.97 L580.11 429.64 L581.18 430.31 L582.25 430.97 L583.31 431.62 L584.38 432.27 L585.45 432.91 L586.51 433.54 L587.58 434.18 L588.65 434.80 L589.71 435.42 L590.78 436.03 L591.85 436.64 L592.91 437.24 L593.98 437.84 L595.04 438.43 L596.11 439.01 L597.18 439.59 L598.24 440.17 L599.31 440.74 L600.38 441.30 L601.44 441.86 L602.51 442.42 L603.58 442.97 L604.64 443.51 L605.71 444.05 L606.78 444.58 L607.84 445.11 L608.91 445.64 L609.98 446.16 L611.04 446.67 L612.11 447.18 L613.18 447.69 L614.24 448.19 L615.31 448.69 L616.38 449.18 L617.44 449.67 L618.51 450.15 L619.58 450.63 L620.64 451.10 L621.71 451.57 L622.77 452.04 L623.84 452.50 L624.91 452.96 L625.97 453.41 L627.04 453.86 L628.11 454.30 L629.17 454.74 L630.24 455.18 L631.31 455.61 L632.37 456.04 L633.44 456.47 L634.51 456.89 L635.57 457.30 L636.64 457.72 L637.71 458.13 L638.77 458.53 L639.84 458.93 L640.91 459.33 L641.97 459.73 L643.04 460.12 L644.11 460.51 L645.17 460.89 L646.24 461.27 L647.31 461.65 L648.37 462.02 L649.44 462.39 L650.50 462.76 L651.57 463.12 L652.64 463.48 L653.70 463.84 L654.77 464.19 L655.84 464.54 L656.90 464.89 L657.97 465.23 L659.04 465.57 L660.10 465.91 L661.17 466.25 L662.24 466.58 L663.30 466.91 L664.37 467.23 L665.44 467.55 L666.50 467.87 L667.57 468.19 L668.64 468.50 L669.70 468.81 L670.77 469.12 L671.84 469.43 L672.90 469.73 L673.97 470.03 L675.04 470.33 L676.10 470.62 L677.17 470.91 L678.23 471.20 L679.30 471.49 L680.37 471.77 L681.43 472.05 L682.50 472.33 L683.57 472.61 L684.63 472.88 L685.70 473.15 L686.77 473.42 L687.83 473.69 L688.90 473.95 L689.97 474.21 L691.03 474.47 L692.10 474.73 L693.17 474.98 L694.23 475.23 L695.30 475.48 L696.37 475.73 L697.43 475.97 L698.50 476.22 L699.57 476.46 L700.63 476.69 L701.70 476.93 L702.77 477.16 L703.83 477.40" stroke="#0E9A57" stroke-width="2.85" fill="none" stroke-dasharray="11.4 11.4" stroke-linejoin="round"/></g><path d="M448.30 332.20V510.65H716.00" stroke="#1A1A1A" stroke-width="1.1" fill="none" stroke-linecap="butt"/><path d="M440.95 502.54H448.30M440.95 458.46H448.30M440.95 414.37H448.30M440.95 370.29H448.30M460.47 510.65V518.00M511.49 510.65V518.00M562.51 510.65V518.00M613.53 510.65V518.00M664.55 510.65V518.00M715.57 510.65V518.00" stroke="#333333" stroke-width="2.7" fill="none"/><text x="435.15" y="511" text-anchor="end" fill="#4D4D4D" font-size="23.2">0</text><text x="435.15" y="467" text-anchor="end" fill="#4D4D4D" font-size="23.2">2</text><text x="435.15" y="423" text-anchor="end" fill="#4D4D4D" font-size="23.2">4</text><text x="435.15" y="379" text-anchor="end" fill="#4D4D4D" font-size="23.2">6</text><text x="460.47" y="541" text-anchor="middle" fill="#4D4D4D" font-size="23.2">0</text><text x="511.49" y="541" text-anchor="middle" fill="#4D4D4D" font-size="23.2">5</text><path transform="translate(549.61,541.00) scale(0.011328,-0.011781)" d="M763 0L583 0L583 1147Q518 1085 465 1054Q412 1023 360 992Q307 961 223 930L223 1104Q374 1175 430 1225Q487 1276 543 1326Q600 1377 647 1409L763 1409Z" fill="#4D4D4D"/><text x="562.50" y="541.00" fill="#4D4D4D" font-size="23.2" style="white-space:pre">0</text><path transform="translate(600.63,541.00) scale(0.011328,-0.011781)" d="M763 0L583 0L583 1147Q518 1085 465 1054Q412 1023 360 992Q307 961 223 930L223 1104Q374 1175 430 1225Q487 1276 543 1326Q600 1377 647 1409L763 1409Z" fill="#4D4D4D"/><text x="613.52" y="541.00" fill="#4D4D4D" font-size="23.2" style="white-space:pre">5</text><text x="664.55" y="541" text-anchor="middle" fill="#4D4D4D" font-size="23.2">20</text><text x="715.57" y="541" text-anchor="middle" fill="#4D4D4D" font-size="23.2">25</text><text x="582.15" y="318" text-anchor="middle" fill="#1A1A1A" font-size="23.2">id: 6</text><path d="M776.50 480.28H1044.20M776.50 435.76H1044.20M776.50 391.24H1044.20M776.50 346.72H1044.20M813.79 332.20V510.65M864.03 332.20V510.65M914.27 332.20V510.65M964.51 332.20V510.65M1014.75 332.20V510.65" stroke="#DCDCDC" stroke-width="1.0" fill="none"/><path d="M776.50 502.54H1044.20M776.50 458.02H1044.20M776.50 413.50H1044.20M776.50 368.98H1044.20M788.67 332.20V510.65M838.91 332.20V510.65M889.15 332.20V510.65M939.39 332.20V510.65M989.63 332.20V510.65M1039.87 332.20V510.65" stroke="#DCDCDC" stroke-width="1.0" fill="none"/><g clip-path="url(#c7)"><g fill="#4682B4"><circle cx="791.18" cy="487.40" r="4.7"/><circle cx="793.69" cy="460.69" r="4.7"/><circle cx="798.92" cy="413.14" r="4.7"/><circle cx="808.97" cy="385.36" r="4.7"/><circle cx="823.64" cy="376.28" r="4.7"/><circle cx="838.91" cy="383.94" r="4.7"/><circle cx="858.80" cy="409.05" r="4.7"/><circle cx="879.10" cy="424.36" r="4.7"/><circle cx="909.75" cy="439.68" r="4.7"/><circle cx="1032.03" cy="482.06" r="4.7"/></g><path d="M788.67 502.54 L788.92 499.51 L789.17 496.55 L789.42 493.64 L789.67 490.79 L789.92 488.00 L790.18 485.27 L790.43 482.59 L790.68 479.96 L790.93 477.38 L791.18 474.86 L791.43 472.39 L791.68 469.96 L791.93 467.59 L792.18 465.26 L792.44 462.99 L792.69 460.76 L792.94 458.57 L793.19 456.43 L793.44 454.33 L793.69 452.28 L793.94 450.27 L794.19 448.30 L794.45 446.37 L794.70 444.49 L794.95 442.64 L795.20 440.83 L795.45 439.06 L795.70 437.33 L795.95 435.63 L796.20 433.97 L796.46 432.35 L796.71 430.76 L796.96 429.20 L797.21 427.68 L797.46 426.19 L797.71 424.74 L797.96 423.32 L798.21 421.92 L798.47 420.56 L798.72 419.23 L798.97 417.93 L799.22 416.66 L799.47 415.42 L799.72 414.20 L799.97 413.02 L800.22 411.86 L800.47 410.72 L800.73 409.62 L800.98 408.54 L801.23 407.48 L801.48 406.45 L801.73 405.44 L801.98 404.46 L802.23 403.50 L802.48 402.57 L802.74 401.66 L802.99 400.76 L803.24 399.90 L803.49 399.05 L803.74 398.22 L803.99 397.42 L804.24 396.63 L804.49 395.87 L804.75 395.12 L805.00 394.40 L805.25 393.69 L805.50 393.00 L805.75 392.33 L806.00 391.68 L806.25 391.04 L806.50 390.43 L806.75 389.83 L807.01 389.24 L807.26 388.68 L807.51 388.12 L807.76 387.59 L808.01 387.07 L808.26 386.56 L808.51 386.07 L808.76 385.60 L809.02 385.14 L809.27 384.69 L809.52 384.26 L809.77 383.84 L810.02 383.43 L810.27 383.04 L810.52 382.66 L810.77 382.29 L811.03 381.94 L811.28 381.60 L811.53 381.26 L811.78 380.95 L812.03 380.64 L812.28 380.34 L812.53 380.06 L812.78 379.78 L813.03 379.52 L813.29 379.26 L813.54 379.02 L813.79 378.79 L814.04 378.57 L814.29 378.35 L814.54 378.15 L814.79 377.95 L815.04 377.77 L815.30 377.59 L815.55 377.43 L815.80 377.27 L816.05 377.12 L816.30 376.97 L816.55 376.84 L816.80 376.72 L817.05 376.60 L817.31 376.49 L817.56 376.39 L817.81 376.29 L818.06 376.20 L818.31 376.12 L818.56 376.05 L818.81 375.98 L819.31 375.87 L820.38 375.71 L821.45 375.66 L822.52 375.72 L823.59 375.86 L824.66 376.09 L825.73 376.39 L826.80 376.76 L827.87 377.20 L828.94 377.70 L830.00 378.25 L831.07 378.85 L832.14 379.49 L833.21 380.18 L834.28 380.90 L835.35 381.65 L836.42 382.43 L837.49 383.24 L838.56 384.08 L839.62 384.94 L840.69 385.81 L841.76 386.70 L842.83 387.61 L843.90 388.53 L844.97 389.46 L846.04 390.40 L847.11 391.35 L848.18 392.30 L849.24 393.26 L850.31 394.23 L851.38 395.20 L852.45 396.17 L853.52 397.14 L854.59 398.11 L855.66 399.08 L856.73 400.05 L857.80 401.02 L858.87 401.99 L859.93 402.95 L861.00 403.92 L862.07 404.87 L863.14 405.83 L864.21 406.77 L865.28 407.72 L866.35 408.66 L867.42 409.59 L868.49 410.52 L869.55 411.44 L870.62 412.35 L871.69 413.26 L872.76 414.16 L873.83 415.06 L874.90 415.95 L875.97 416.83 L877.04 417.70 L878.11 418.57 L879.17 419.43 L880.24 420.28 L881.31 421.13 L882.38 421.97 L883.45 422.80 L884.52 423.62 L885.59 424.44 L886.66 425.25 L887.73 426.05 L888.80 426.84 L889.86 427.63 L890.93 428.41 L892.00 429.18 L893.07 429.94 L894.14 430.70 L895.21 431.45 L896.28 432.19 L897.35 432.93 L898.42 433.65 L899.48 434.37 L900.55 435.09 L901.62 435.79 L902.69 436.49 L903.76 437.19 L904.83 437.87 L905.90 438.55 L906.97 439.22 L908.04 439.88 L909.10 440.54 L910.17 441.19 L911.24 441.84 L912.31 442.48 L913.38 443.11 L914.45 443.73 L915.52 444.35 L916.59 444.96 L917.66 445.57 L918.73 446.17 L919.79 446.76 L920.86 447.35 L921.93 447.93 L923.00 448.50 L924.07 449.07 L925.14 449.63 L926.21 450.19 L927.28 450.74 L928.35 451.29 L929.41 451.83 L930.48 452.36 L931.55 452.89 L932.62 453.41 L933.69 453.93 L934.76 454.44 L935.83 454.95 L936.90 455.45 L937.97 455.95 L939.03 456.44 L940.10 456.92 L941.17 457.41 L942.24 457.88 L943.31 458.35 L944.38 458.82 L945.45 459.28 L946.52 459.74 L947.59 460.19 L948.66 460.63 L949.72 461.07 L950.79 461.51 L951.86 461.94 L952.93 462.37 L954.00 462.80 L955.07 463.22 L956.14 463.63 L957.21 464.04 L958.28 464.45 L959.34 464.85 L960.41 465.25 L961.48 465.64 L962.55 466.03 L963.62 466.41 L964.69 466.79 L965.76 467.17 L966.83 467.54 L967.90 467.91 L968.96 468.28 L970.03 468.64 L971.10 469.00 L972.17 469.35 L973.24 469.70 L974.31 470.05 L975.38 470.39 L976.45 470.73 L977.52 471.06 L978.59 471.40 L979.65 471.73 L980.72 472.05 L981.79 472.37 L982.86 472.69 L983.93 473.00 L985.00 473.32 L986.07 473.62 L987.14 473.93 L988.21 474.23 L989.27 474.53 L990.34 474.83 L991.41 475.12 L992.48 475.41 L993.55 475.69 L994.62 475.98 L995.69 476.26 L996.76 476.53 L997.83 476.81 L998.89 477.08 L999.96 477.35 L1001.03 477.61 L1002.10 477.88 L1003.17 478.14 L1004.24 478.39 L1005.31 478.65 L1006.38 478.90 L1007.45 479.15 L1008.52 479.40 L1009.58 479.64 L1010.65 479.88 L1011.72 480.12 L1012.79 480.36 L1013.86 480.59 L1014.93 480.82 L1016.00 481.05 L1017.07 481.28 L1018.14 481.50 L1019.20 481.73 L1020.27 481.94 L1021.34 482.16 L1022.41 482.38 L1023.48 482.59 L1024.55 482.80 L1025.62 483.01 L1026.69 483.21 L1027.76 483.42 L1028.83 483.62 L1029.89 483.82 L1030.96 484.02 L1032.03 484.21" stroke="#B88AC8" stroke-width="3.7" fill="none" stroke-linejoin="round"/><path d="M788.67 502.54 L788.92 495.13 L789.17 488.02 L789.42 481.21 L789.67 474.67 L789.92 468.40 L790.18 462.38 L790.43 456.62 L790.68 451.09 L790.93 445.79 L791.18 440.71 L791.43 435.84 L791.68 431.18 L791.93 426.71 L792.18 422.43 L792.44 418.33 L792.69 414.40 L792.94 410.64 L793.19 407.04 L793.44 403.60 L793.69 400.30 L793.94 397.15 L794.19 394.13 L794.45 391.25 L794.70 388.49 L794.95 385.85 L795.20 383.33 L795.45 380.92 L795.70 378.62 L795.95 376.42 L796.20 374.33 L796.46 372.33 L796.71 370.42 L796.96 368.60 L797.21 366.87 L797.46 365.21 L797.71 363.64 L797.96 362.14 L798.21 360.72 L798.47 359.36 L798.72 358.07 L798.97 356.85 L799.22 355.69 L799.47 354.59 L799.72 353.54 L799.97 352.55 L800.22 351.61 L800.47 350.73 L800.73 349.89 L800.98 349.10 L801.23 348.35 L801.48 347.65 L801.73 346.99 L801.98 346.37 L802.23 345.79 L802.48 345.24 L802.74 344.73 L802.99 344.26 L803.24 343.81 L803.49 343.40 L803.74 343.02 L803.99 342.67 L804.24 342.34 L804.49 342.04 L804.75 341.77 L805.00 341.52 L805.25 341.30 L805.50 341.10 L805.75 340.92 L806.00 340.76 L806.25 340.62 L806.50 340.50 L806.75 340.40 L807.01 340.32 L807.26 340.25 L807.51 340.20 L807.76 340.17 L808.01 340.15 L808.26 340.14 L808.51 340.15 L808.76 340.18 L809.02 340.21 L809.27 340.26 L809.52 340.32 L809.77 340.39 L810.02 340.47 L810.27 340.56 L810.52 340.67 L810.77 340.78 L811.03 340.90 L811.28 341.03 L811.53 341.17 L811.78 341.31 L812.03 341.47 L812.28 341.63 L812.53 341.79 L812.78 341.97 L813.03 342.15 L813.29 342.34 L813.54 342.53 L813.79 342.73 L814.04 342.93 L814.29 343.14 L814.54 343.36 L814.79 343.58 L815.04 343.80 L815.30 344.03 L815.55 344.26 L815.80 344.50 L816.05 344.74 L816.30 344.98 L816.55 345.23 L816.80 345.48 L817.05 345.73 L817.31 345.99 L817.56 346.25 L817.81 346.51 L818.06 346.77 L818.31 347.04 L818.56 347.31 L818.81 347.58 L819.31 348.13 L820.38 349.32 L821.45 350.53 L822.52 351.77 L823.59 353.02 L824.66 354.29 L825.73 355.56 L826.80 356.84 L827.87 358.12 L828.94 359.39 L830.00 360.67 L831.07 361.94 L832.14 363.21 L833.21 364.47 L834.28 365.73 L835.35 366.98 L836.42 368.22 L837.49 369.45 L838.56 370.67 L839.62 371.89 L840.69 373.09 L841.76 374.28 L842.83 375.47 L843.90 376.64 L844.97 377.81 L846.04 378.97 L847.11 380.11 L848.18 381.25 L849.24 382.37 L850.31 383.49 L851.38 384.59 L852.45 385.68 L853.52 386.77 L854.59 387.84 L855.66 388.91 L856.73 389.97 L857.80 391.01 L858.87 392.05 L859.93 393.07 L861.00 394.09 L862.07 395.10 L863.14 396.10 L864.21 397.09 L865.28 398.07 L866.35 399.04 L867.42 400.00 L868.49 400.95 L869.55 401.90 L870.62 402.83 L871.69 403.76 L872.76 404.68 L873.83 405.59 L874.90 406.49 L875.97 407.38 L877.04 408.27 L878.11 409.14 L879.17 410.01 L880.24 410.87 L881.31 411.72 L882.38 412.57 L883.45 413.41 L884.52 414.23 L885.59 415.05 L886.66 415.87 L887.73 416.67 L888.80 417.47 L889.86 418.26 L890.93 419.05 L892.00 419.82 L893.07 420.59 L894.14 421.35 L895.21 422.11 L896.28 422.86 L897.35 423.60 L898.42 424.33 L899.48 425.06 L900.55 425.78 L901.62 426.49 L902.69 427.20 L903.76 427.90 L904.83 428.59 L905.90 429.28 L906.97 429.96 L908.04 430.64 L909.10 431.30 L910.17 431.97 L911.24 432.62 L912.31 433.27 L913.38 433.92 L914.45 434.55 L915.52 435.19 L916.59 435.81 L917.66 436.43 L918.73 437.05 L919.79 437.66 L920.86 438.26 L921.93 438.86 L923.00 439.45 L924.07 440.04 L925.14 440.62 L926.21 441.19 L927.28 441.76 L928.35 442.33 L929.41 442.89 L930.48 443.44 L931.55 443.99 L932.62 444.54 L933.69 445.08 L934.76 445.61 L935.83 446.14 L936.90 446.66 L937.97 447.18 L939.03 447.70 L940.10 448.21 L941.17 448.71 L942.24 449.21 L943.31 449.71 L944.38 450.20 L945.45 450.69 L946.52 451.17 L947.59 451.65 L948.66 452.12 L949.72 452.59 L950.79 453.05 L951.86 453.51 L952.93 453.97 L954.00 454.42 L955.07 454.87 L956.14 455.31 L957.21 455.75 L958.28 456.18 L959.34 456.62 L960.41 457.04 L961.48 457.47 L962.55 457.88 L963.62 458.30 L964.69 458.71 L965.76 459.12 L966.83 459.52 L967.90 459.92 L968.96 460.32 L970.03 460.71 L971.10 461.10 L972.17 461.48 L973.24 461.87 L974.31 462.24 L975.38 462.62 L976.45 462.99 L977.52 463.36 L978.59 463.72 L979.65 464.08 L980.72 464.44 L981.79 464.79 L982.86 465.15 L983.93 465.49 L985.00 465.84 L986.07 466.18 L987.14 466.52 L988.21 466.85 L989.27 467.18 L990.34 467.51 L991.41 467.84 L992.48 468.16 L993.55 468.48 L994.62 468.80 L995.69 469.11 L996.76 469.42 L997.83 469.73 L998.89 470.03 L999.96 470.34 L1001.03 470.64 L1002.10 470.93 L1003.17 471.23 L1004.24 471.52 L1005.31 471.81 L1006.38 472.09 L1007.45 472.37 L1008.52 472.65 L1009.58 472.93 L1010.65 473.21 L1011.72 473.48 L1012.79 473.75 L1013.86 474.02 L1014.93 474.28 L1016.00 474.55 L1017.07 474.81 L1018.14 475.06 L1019.20 475.32 L1020.27 475.57 L1021.34 475.82 L1022.41 476.07 L1023.48 476.32 L1024.55 476.56 L1025.62 476.80 L1026.69 477.04 L1027.76 477.28 L1028.83 477.51 L1029.89 477.75 L1030.96 477.98 L1032.03 478.21" stroke="#0E9A57" stroke-width="2.85" fill="none" stroke-dasharray="11.4 11.4" stroke-linejoin="round"/></g><path d="M776.50 332.20V510.65H1044.20" stroke="#1A1A1A" stroke-width="1.1" fill="none" stroke-linecap="butt"/><path d="M769.15 502.54H776.50M769.15 458.02H776.50M769.15 413.50H776.50M769.15 368.98H776.50M788.67 510.65V518.00M838.91 510.65V518.00M889.15 510.65V518.00M939.39 510.65V518.00M989.63 510.65V518.00M1039.87 510.65V518.00" stroke="#333333" stroke-width="2.7" fill="none"/><text x="763.35" y="511" text-anchor="end" fill="#4D4D4D" font-size="23.2">0.0</text><text x="763.35" y="466" text-anchor="end" fill="#4D4D4D" font-size="23.2">2.5</text><text x="763.35" y="422" text-anchor="end" fill="#4D4D4D" font-size="23.2">5.0</text><text x="763.35" y="377" text-anchor="end" fill="#4D4D4D" font-size="23.2">7.5</text><text x="788.67" y="541" text-anchor="middle" fill="#4D4D4D" font-size="23.2">0</text><text x="838.91" y="541" text-anchor="middle" fill="#4D4D4D" font-size="23.2">5</text><path transform="translate(876.25,541.00) scale(0.011328,-0.011781)" d="M763 0L583 0L583 1147Q518 1085 465 1054Q412 1023 360 992Q307 961 223 930L223 1104Q374 1175 430 1225Q487 1276 543 1326Q600 1377 647 1409L763 1409Z" fill="#4D4D4D"/><text x="889.14" y="541.00" fill="#4D4D4D" font-size="23.2" style="white-space:pre">0</text><path transform="translate(926.49,541.00) scale(0.011328,-0.011781)" d="M763 0L583 0L583 1147Q518 1085 465 1054Q412 1023 360 992Q307 961 223 930L223 1104Q374 1175 430 1225Q487 1276 543 1326Q600 1377 647 1409L763 1409Z" fill="#4D4D4D"/><text x="939.38" y="541.00" fill="#4D4D4D" font-size="23.2" style="white-space:pre">5</text><text x="989.63" y="541" text-anchor="middle" fill="#4D4D4D" font-size="23.2">20</text><text x="1039.87" y="541" text-anchor="middle" fill="#4D4D4D" font-size="23.2">25</text><text x="910.35" y="318" text-anchor="middle" fill="#1A1A1A" font-size="23.2">id: 7</text><path d="M1117.40 483.11H1385.10M1117.40 444.25H1385.10M1117.40 405.40H1385.10M1117.40 366.54H1385.10M1154.79 332.20V510.65M1205.24 332.20V510.65M1255.69 332.20V510.65M1306.14 332.20V510.65M1356.59 332.20V510.65" stroke="#DCDCDC" stroke-width="1.0" fill="none"/><path d="M1117.40 502.54H1385.10M1117.40 463.68H1385.10M1117.40 424.82H1385.10M1117.40 385.97H1385.10M1117.40 347.11H1385.10M1129.57 332.20V510.65M1180.02 332.20V510.65M1230.47 332.20V510.65M1280.91 332.20V510.65M1331.36 332.20V510.65M1381.81 332.20V510.65" stroke="#DCDCDC" stroke-width="1.0" fill="none"/><g clip-path="url(#c8)"><g fill="#4682B4"><circle cx="1132.09" cy="443.28" r="4.7"/><circle cx="1134.81" cy="443.28" r="4.7"/><circle cx="1139.46" cy="360.52" r="4.7"/><circle cx="1149.95" cy="355.66" r="4.7"/><circle cx="1165.18" cy="374.51" r="4.7"/><circle cx="1180.52" cy="388.30" r="4.7"/><circle cx="1201.71" cy="410.64" r="4.7"/><circle cx="1221.08" cy="413.75" r="4.7"/><circle cx="1251.65" cy="444.25" r="4.7"/><circle cx="1372.93" cy="478.25" r="4.7"/></g><path d="M1129.57 502.54 L1129.82 497.18 L1130.07 491.98 L1130.32 486.96 L1130.58 482.10 L1130.83 477.39 L1131.08 472.83 L1131.33 468.43 L1131.59 464.16 L1131.84 460.04 L1132.09 456.05 L1132.34 452.19 L1132.60 448.45 L1132.85 444.84 L1133.10 441.35 L1133.35 437.97 L1133.60 434.71 L1133.86 431.56 L1134.11 428.51 L1134.36 425.56 L1134.61 422.71 L1134.87 419.96 L1135.12 417.30 L1135.37 414.74 L1135.62 412.26 L1135.87 409.87 L1136.13 407.56 L1136.38 405.33 L1136.63 403.18 L1136.88 401.10 L1137.14 399.10 L1137.39 397.16 L1137.64 395.30 L1137.89 393.51 L1138.14 391.78 L1138.40 390.11 L1138.65 388.50 L1138.90 386.95 L1139.15 385.46 L1139.41 384.03 L1139.66 382.65 L1139.91 381.32 L1140.16 380.04 L1140.41 378.82 L1140.67 377.64 L1140.92 376.50 L1141.17 375.41 L1141.42 374.37 L1141.68 373.37 L1141.93 372.40 L1142.18 371.48 L1142.43 370.60 L1142.68 369.75 L1142.94 368.94 L1143.19 368.17 L1143.44 367.43 L1143.69 366.72 L1143.95 366.05 L1144.20 365.40 L1144.45 364.79 L1144.70 364.20 L1144.95 363.65 L1145.21 363.12 L1145.46 362.61 L1145.71 362.14 L1145.96 361.69 L1146.22 361.26 L1146.47 360.85 L1146.72 360.47 L1146.97 360.11 L1147.23 359.78 L1147.48 359.46 L1147.73 359.16 L1147.98 358.89 L1148.23 358.63 L1148.49 358.39 L1148.74 358.16 L1148.99 357.96 L1149.24 357.77 L1149.50 357.60 L1149.75 357.44 L1150.00 357.30 L1150.25 357.17 L1150.50 357.06 L1150.76 356.96 L1151.01 356.87 L1151.26 356.80 L1151.51 356.74 L1151.77 356.69 L1152.02 356.66 L1152.27 356.63 L1152.52 356.62 L1152.77 356.61 L1153.03 356.62 L1153.28 356.64 L1153.53 356.66 L1153.78 356.70 L1154.04 356.74 L1154.29 356.80 L1154.54 356.86 L1154.79 356.93 L1155.04 357.01 L1155.30 357.09 L1155.55 357.19 L1155.80 357.29 L1156.05 357.39 L1156.31 357.51 L1156.56 357.63 L1156.81 357.75 L1157.06 357.89 L1157.31 358.02 L1157.57 358.17 L1157.82 358.32 L1158.07 358.47 L1158.32 358.63 L1158.58 358.80 L1158.83 358.97 L1159.08 359.14 L1159.33 359.32 L1159.59 359.50 L1159.84 359.69 L1160.34 360.08 L1161.41 360.94 L1162.48 361.87 L1163.55 362.84 L1164.61 363.85 L1165.68 364.90 L1166.75 365.98 L1167.82 367.08 L1168.89 368.20 L1169.96 369.34 L1171.02 370.48 L1172.09 371.64 L1173.16 372.81 L1174.23 373.98 L1175.30 375.15 L1176.37 376.32 L1177.43 377.50 L1178.50 378.67 L1179.57 379.83 L1180.64 381.00 L1181.71 382.16 L1182.78 383.31 L1183.84 384.46 L1184.91 385.60 L1185.98 386.73 L1187.05 387.85 L1188.12 388.97 L1189.19 390.08 L1190.25 391.18 L1191.32 392.27 L1192.39 393.35 L1193.46 394.43 L1194.53 395.49 L1195.60 396.54 L1196.66 397.59 L1197.73 398.62 L1198.80 399.65 L1199.87 400.67 L1200.94 401.67 L1202.01 402.67 L1203.07 403.66 L1204.14 404.64 L1205.21 405.61 L1206.28 406.57 L1207.35 407.52 L1208.41 408.46 L1209.48 409.40 L1210.55 410.32 L1211.62 411.24 L1212.69 412.14 L1213.76 413.04 L1214.82 413.93 L1215.89 414.81 L1216.96 415.68 L1218.03 416.54 L1219.10 417.39 L1220.17 418.24 L1221.23 419.08 L1222.30 419.91 L1223.37 420.73 L1224.44 421.54 L1225.51 422.34 L1226.58 423.14 L1227.64 423.93 L1228.71 424.71 L1229.78 425.48 L1230.85 426.25 L1231.92 427.01 L1232.99 427.76 L1234.05 428.50 L1235.12 429.24 L1236.19 429.96 L1237.26 430.68 L1238.33 431.40 L1239.40 432.11 L1240.46 432.81 L1241.53 433.50 L1242.60 434.18 L1243.67 434.86 L1244.74 435.54 L1245.81 436.20 L1246.87 436.86 L1247.94 437.51 L1249.01 438.16 L1250.08 438.80 L1251.15 439.43 L1252.21 440.06 L1253.28 440.68 L1254.35 441.29 L1255.42 441.90 L1256.49 442.51 L1257.56 443.10 L1258.62 443.69 L1259.69 444.28 L1260.76 444.86 L1261.83 445.43 L1262.90 446.00 L1263.97 446.56 L1265.03 447.11 L1266.10 447.67 L1267.17 448.21 L1268.24 448.75 L1269.31 449.29 L1270.38 449.81 L1271.44 450.34 L1272.51 450.86 L1273.58 451.37 L1274.65 451.88 L1275.72 452.38 L1276.79 452.88 L1277.85 453.37 L1278.92 453.86 L1279.99 454.35 L1281.06 454.83 L1282.13 455.30 L1283.20 455.77 L1284.26 456.23 L1285.33 456.69 L1286.40 457.15 L1287.47 457.60 L1288.54 458.05 L1289.61 458.49 L1290.67 458.93 L1291.74 459.36 L1292.81 459.79 L1293.88 460.21 L1294.95 460.63 L1296.01 461.05 L1297.08 461.46 L1298.15 461.87 L1299.22 462.27 L1300.29 462.67 L1301.36 463.07 L1302.42 463.46 L1303.49 463.85 L1304.56 464.24 L1305.63 464.62 L1306.70 464.99 L1307.77 465.37 L1308.83 465.74 L1309.90 466.10 L1310.97 466.46 L1312.04 466.82 L1313.11 467.18 L1314.18 467.53 L1315.24 467.88 L1316.31 468.22 L1317.38 468.56 L1318.45 468.90 L1319.52 469.23 L1320.59 469.56 L1321.65 469.89 L1322.72 470.22 L1323.79 470.54 L1324.86 470.86 L1325.93 471.17 L1327.00 471.48 L1328.06 471.79 L1329.13 472.10 L1330.20 472.40 L1331.27 472.70 L1332.34 472.99 L1333.41 473.29 L1334.47 473.58 L1335.54 473.87 L1336.61 474.15 L1337.68 474.43 L1338.75 474.71 L1339.81 474.99 L1340.88 475.26 L1341.95 475.53 L1343.02 475.80 L1344.09 476.07 L1345.16 476.33 L1346.22 476.59 L1347.29 476.85 L1348.36 477.10 L1349.43 477.36 L1350.50 477.61 L1351.57 477.86 L1352.63 478.10 L1353.70 478.34 L1354.77 478.58 L1355.84 478.82 L1356.91 479.06 L1357.98 479.29 L1359.04 479.52 L1360.11 479.75 L1361.18 479.98 L1362.25 480.20 L1363.32 480.42 L1364.39 480.64 L1365.45 480.86 L1366.52 481.08 L1367.59 481.29 L1368.66 481.50 L1369.73 481.71 L1370.80 481.92 L1371.86 482.12 L1372.93 482.32" stroke="#B88AC8" stroke-width="3.7" fill="none" stroke-linejoin="round"/><path d="M1129.57 502.54 L1129.82 495.14 L1130.07 488.05 L1130.32 481.24 L1130.58 474.71 L1130.83 468.45 L1131.08 462.44 L1131.33 456.69 L1131.59 451.17 L1131.84 445.88 L1132.09 440.81 L1132.34 435.95 L1132.60 431.29 L1132.85 426.83 L1133.10 422.55 L1133.35 418.46 L1133.60 414.54 L1133.86 410.79 L1134.11 407.19 L1134.36 403.75 L1134.61 400.46 L1134.87 397.31 L1135.12 394.30 L1135.37 391.42 L1135.62 388.66 L1135.87 386.03 L1136.13 383.51 L1136.38 381.11 L1136.63 378.81 L1136.88 376.62 L1137.14 374.53 L1137.39 372.53 L1137.64 370.63 L1137.89 368.81 L1138.14 367.08 L1138.40 365.43 L1138.65 363.86 L1138.90 362.36 L1139.15 360.94 L1139.41 359.58 L1139.66 358.30 L1139.91 357.08 L1140.16 355.92 L1140.41 354.82 L1140.67 353.77 L1140.92 352.78 L1141.17 351.85 L1141.42 350.96 L1141.68 350.13 L1141.93 349.34 L1142.18 348.59 L1142.43 347.89 L1142.68 347.23 L1142.94 346.61 L1143.19 346.03 L1143.44 345.49 L1143.69 344.98 L1143.95 344.50 L1144.20 344.06 L1144.45 343.65 L1144.70 343.27 L1144.95 342.91 L1145.21 342.59 L1145.46 342.29 L1145.71 342.02 L1145.96 341.77 L1146.22 341.55 L1146.47 341.35 L1146.72 341.17 L1146.97 341.01 L1147.23 340.87 L1147.48 340.75 L1147.73 340.65 L1147.98 340.57 L1148.23 340.50 L1148.49 340.45 L1148.74 340.42 L1148.99 340.40 L1149.24 340.40 L1149.50 340.41 L1149.75 340.43 L1150.00 340.46 L1150.25 340.51 L1150.50 340.57 L1150.76 340.64 L1151.01 340.72 L1151.26 340.82 L1151.51 340.92 L1151.77 341.03 L1152.02 341.15 L1152.27 341.28 L1152.52 341.42 L1152.77 341.56 L1153.03 341.72 L1153.28 341.88 L1153.53 342.04 L1153.78 342.22 L1154.04 342.40 L1154.29 342.59 L1154.54 342.78 L1154.79 342.98 L1155.04 343.18 L1155.30 343.39 L1155.55 343.61 L1155.80 343.82 L1156.05 344.05 L1156.31 344.27 L1156.56 344.51 L1156.81 344.74 L1157.06 344.98 L1157.31 345.22 L1157.57 345.47 L1157.82 345.72 L1158.07 345.97 L1158.32 346.23 L1158.58 346.49 L1158.83 346.75 L1159.08 347.01 L1159.33 347.28 L1159.59 347.55 L1159.84 347.82 L1160.34 348.37 L1161.41 349.55 L1162.48 350.76 L1163.55 351.99 L1164.61 353.23 L1165.68 354.49 L1166.75 355.75 L1167.82 357.02 L1168.89 358.29 L1169.96 359.56 L1171.02 360.83 L1172.09 362.09 L1173.16 363.36 L1174.23 364.61 L1175.30 365.86 L1176.37 367.10 L1177.43 368.33 L1178.50 369.56 L1179.57 370.77 L1180.64 371.98 L1181.71 373.18 L1182.78 374.37 L1183.84 375.54 L1184.91 376.71 L1185.98 377.87 L1187.05 379.02 L1188.12 380.16 L1189.19 381.29 L1190.25 382.41 L1191.32 383.52 L1192.39 384.62 L1193.46 385.71 L1194.53 386.79 L1195.60 387.86 L1196.66 388.92 L1197.73 389.97 L1198.80 391.01 L1199.87 392.04 L1200.94 393.06 L1202.01 394.07 L1203.07 395.08 L1204.14 396.07 L1205.21 397.06 L1206.28 398.03 L1207.35 399.00 L1208.41 399.96 L1209.48 400.91 L1210.55 401.85 L1211.62 402.78 L1212.69 403.70 L1213.76 404.62 L1214.82 405.52 L1215.89 406.42 L1216.96 407.31 L1218.03 408.19 L1219.10 409.06 L1220.17 409.93 L1221.23 410.78 L1222.30 411.63 L1223.37 412.47 L1224.44 413.31 L1225.51 414.13 L1226.58 414.95 L1227.64 415.76 L1228.71 416.56 L1229.78 417.36 L1230.85 418.15 L1231.92 418.93 L1232.99 419.70 L1234.05 420.47 L1235.12 421.23 L1236.19 421.98 L1237.26 422.73 L1238.33 423.46 L1239.40 424.20 L1240.46 424.92 L1241.53 425.64 L1242.60 426.35 L1243.67 427.06 L1244.74 427.75 L1245.81 428.45 L1246.87 429.13 L1247.94 429.81 L1249.01 430.48 L1250.08 431.15 L1251.15 431.81 L1252.21 432.47 L1253.28 433.11 L1254.35 433.76 L1255.42 434.39 L1256.49 435.02 L1257.56 435.65 L1258.62 436.27 L1259.69 436.88 L1260.76 437.49 L1261.83 438.09 L1262.90 438.69 L1263.97 439.28 L1265.03 439.86 L1266.10 440.44 L1267.17 441.02 L1268.24 441.59 L1269.31 442.15 L1270.38 442.71 L1271.44 443.26 L1272.51 443.81 L1273.58 444.35 L1274.65 444.89 L1275.72 445.43 L1276.79 445.96 L1277.85 446.48 L1278.92 447.00 L1279.99 447.51 L1281.06 448.02 L1282.13 448.52 L1283.20 449.02 L1284.26 449.52 L1285.33 450.01 L1286.40 450.50 L1287.47 450.98 L1288.54 451.46 L1289.61 451.93 L1290.67 452.40 L1291.74 452.86 L1292.81 453.32 L1293.88 453.78 L1294.95 454.23 L1296.01 454.67 L1297.08 455.12 L1298.15 455.56 L1299.22 455.99 L1300.29 456.42 L1301.36 456.85 L1302.42 457.27 L1303.49 457.69 L1304.56 458.10 L1305.63 458.52 L1306.70 458.92 L1307.77 459.33 L1308.83 459.73 L1309.90 460.12 L1310.97 460.51 L1312.04 460.90 L1313.11 461.29 L1314.18 461.67 L1315.24 462.05 L1316.31 462.42 L1317.38 462.79 L1318.45 463.16 L1319.52 463.53 L1320.59 463.89 L1321.65 464.25 L1322.72 464.60 L1323.79 464.95 L1324.86 465.30 L1325.93 465.64 L1327.00 465.98 L1328.06 466.32 L1329.13 466.66 L1330.20 466.99 L1331.27 467.32 L1332.34 467.64 L1333.41 467.97 L1334.47 468.29 L1335.54 468.60 L1336.61 468.92 L1337.68 469.23 L1338.75 469.54 L1339.81 469.84 L1340.88 470.15 L1341.95 470.45 L1343.02 470.74 L1344.09 471.04 L1345.16 471.33 L1346.22 471.62 L1347.29 471.90 L1348.36 472.19 L1349.43 472.47 L1350.50 472.75 L1351.57 473.02 L1352.63 473.29 L1353.70 473.56 L1354.77 473.83 L1355.84 474.10 L1356.91 474.36 L1357.98 474.62 L1359.04 474.88 L1360.11 475.14 L1361.18 475.39 L1362.25 475.64 L1363.32 475.89 L1364.39 476.14 L1365.45 476.38 L1366.52 476.62 L1367.59 476.86 L1368.66 477.10 L1369.73 477.34 L1370.80 477.57 L1371.86 477.80 L1372.93 478.03" stroke="#0E9A57" stroke-width="2.85" fill="none" stroke-dasharray="11.4 11.4" stroke-linejoin="round"/></g><path d="M1117.40 332.20V510.65H1385.10" stroke="#1A1A1A" stroke-width="1.1" fill="none" stroke-linecap="butt"/><path d="M1110.05 502.54H1117.40M1110.05 463.68H1117.40M1110.05 424.82H1117.40M1110.05 385.97H1117.40M1110.05 347.11H1117.40M1129.57 510.65V518.00M1180.02 510.65V518.00M1230.47 510.65V518.00M1280.91 510.65V518.00M1331.36 510.65V518.00M1381.81 510.65V518.00" stroke="#333333" stroke-width="2.7" fill="none"/><text x="1104.25" y="511" text-anchor="end" fill="#4D4D4D" font-size="23.2">0</text><text x="1104.25" y="472" text-anchor="end" fill="#4D4D4D" font-size="23.2">2</text><text x="1104.25" y="433" text-anchor="end" fill="#4D4D4D" font-size="23.2">4</text><text x="1104.25" y="394" text-anchor="end" fill="#4D4D4D" font-size="23.2">6</text><text x="1104.25" y="355" text-anchor="end" fill="#4D4D4D" font-size="23.2">8</text><text x="1129.57" y="541" text-anchor="middle" fill="#4D4D4D" font-size="23.2">0</text><text x="1180.02" y="541" text-anchor="middle" fill="#4D4D4D" font-size="23.2">5</text><path transform="translate(1217.57,541.00) scale(0.011328,-0.011781)" d="M763 0L583 0L583 1147Q518 1085 465 1054Q412 1023 360 992Q307 961 223 930L223 1104Q374 1175 430 1225Q487 1276 543 1326Q600 1377 647 1409L763 1409Z" fill="#4D4D4D"/><text x="1230.46" y="541.00" fill="#4D4D4D" font-size="23.2" style="white-space:pre">0</text><path transform="translate(1268.01,541.00) scale(0.011328,-0.011781)" d="M763 0L583 0L583 1147Q518 1085 465 1054Q412 1023 360 992Q307 961 223 930L223 1104Q374 1175 430 1225Q487 1276 543 1326Q600 1377 647 1409L763 1409Z" fill="#4D4D4D"/><text x="1280.90" y="541.00" fill="#4D4D4D" font-size="23.2" style="white-space:pre">5</text><text x="1331.36" y="541" text-anchor="middle" fill="#4D4D4D" font-size="23.2">20</text><text x="1381.81" y="541" text-anchor="middle" fill="#4D4D4D" font-size="23.2">25</text><text x="1251.25" y="318" text-anchor="middle" fill="#1A1A1A" font-size="23.2">id: 8</text><path d="M107.10 752.63H374.80M107.10 707.72H374.80M107.10 662.81H374.80M107.10 617.89H374.80M144.17 604.75V783.20M193.98 604.75V783.20M243.79 604.75V783.20M293.60 604.75V783.20M343.41 604.75V783.20" stroke="#DCDCDC" stroke-width="1.0" fill="none"/><path d="M107.10 775.09H374.80M107.10 730.18H374.80M107.10 685.26H374.80M107.10 640.35H374.80M119.27 604.75V783.20M169.08 604.75V783.20M218.88 604.75V783.20M268.69 604.75V783.20M318.50 604.75V783.20M368.31 604.75V783.20" stroke="#DCDCDC" stroke-width="1.0" fill="none"/><g clip-path="url(#c9)"><g fill="#4682B4"><circle cx="122.26" cy="642.68" r="4.7"/><circle cx="125.54" cy="612.86" r="4.7"/><circle cx="129.73" cy="646.82" r="4.7"/><circle cx="139.39" cy="661.37" r="4.7"/><circle cx="154.43" cy="673.40" r="4.7"/><circle cx="169.28" cy="673.23" r="4.7"/><circle cx="190.69" cy="698.92" r="4.7"/><circle cx="206.93" cy="701.25" r="4.7"/><circle cx="234.82" cy="718.32" r="4.7"/><circle cx="362.63" cy="754.97" r="4.7"/></g><path d="M119.27 775.09 L119.52 756.21 L119.77 739.80 L120.02 725.55 L120.26 713.17 L120.51 702.43 L120.76 693.11 L121.01 685.03 L121.26 678.04 L121.51 671.98 L121.76 666.75 L122.01 662.23 L122.26 658.33 L122.51 654.97 L122.75 652.09 L123.00 649.62 L123.25 647.50 L123.50 645.70 L123.75 644.17 L124.00 642.87 L124.25 641.79 L124.50 640.88 L124.75 640.13 L125.00 639.51 L125.25 639.01 L125.49 638.62 L125.74 638.31 L125.99 638.09 L126.24 637.93 L126.49 637.83 L126.74 637.78 L126.99 637.78 L127.24 637.81 L127.49 637.88 L127.74 637.98 L127.98 638.10 L128.23 638.25 L128.48 638.42 L128.73 638.60 L128.98 638.79 L129.23 639.00 L129.48 639.22 L129.73 639.45 L129.98 639.69 L130.23 639.93 L130.48 640.18 L130.72 640.44 L130.97 640.70 L131.22 640.96 L131.47 641.23 L131.72 641.49 L131.97 641.77 L132.22 642.04 L132.47 642.31 L132.72 642.59 L132.97 642.87 L133.21 643.14 L133.46 643.42 L133.71 643.70 L133.96 643.98 L134.21 644.26 L134.46 644.54 L134.71 644.82 L134.96 645.10 L135.21 645.38 L135.46 645.66 L135.70 645.94 L135.95 646.21 L136.20 646.49 L136.45 646.77 L136.70 647.05 L136.95 647.32 L137.20 647.60 L137.45 647.88 L137.70 648.15 L137.95 648.43 L138.20 648.70 L138.44 648.98 L138.69 649.25 L138.94 649.52 L139.19 649.80 L139.44 650.07 L139.69 650.34 L139.94 650.61 L140.19 650.88 L140.44 651.15 L140.69 651.42 L140.93 651.69 L141.18 651.96 L141.43 652.22 L141.68 652.49 L141.93 652.76 L142.18 653.02 L142.43 653.29 L142.68 653.55 L142.93 653.82 L143.18 654.08 L143.43 654.34 L143.67 654.60 L143.92 654.87 L144.17 655.13 L144.42 655.39 L144.67 655.65 L144.92 655.91 L145.17 656.17 L145.42 656.42 L145.67 656.68 L145.92 656.94 L146.16 657.20 L146.41 657.45 L146.66 657.71 L146.91 657.96 L147.16 658.22 L147.41 658.47 L147.66 658.73 L147.91 658.98 L148.16 659.23 L148.41 659.48 L148.66 659.73 L148.90 659.98 L149.15 660.23 L149.65 660.73 L150.72 661.80 L151.79 662.85 L152.86 663.90 L153.93 664.93 L155.00 665.95 L156.07 666.97 L157.14 667.98 L158.21 668.97 L159.28 669.96 L160.35 670.94 L161.42 671.91 L162.49 672.87 L163.56 673.82 L164.63 674.76 L165.71 675.69 L166.78 676.62 L167.85 677.54 L168.92 678.44 L169.99 679.34 L171.06 680.23 L172.13 681.12 L173.20 681.99 L174.27 682.86 L175.34 683.71 L176.41 684.56 L177.48 685.41 L178.55 686.24 L179.62 687.07 L180.69 687.89 L181.76 688.70 L182.83 689.50 L183.90 690.30 L184.97 691.09 L186.04 691.87 L187.11 692.64 L188.18 693.41 L189.25 694.17 L190.32 694.92 L191.39 695.67 L192.46 696.41 L193.53 697.14 L194.60 697.87 L195.67 698.58 L196.74 699.30 L197.81 700.00 L198.88 700.70 L199.95 701.39 L201.02 702.08 L202.09 702.76 L203.16 703.43 L204.23 704.10 L205.30 704.76 L206.37 705.41 L207.44 706.06 L208.52 706.70 L209.59 707.34 L210.66 707.97 L211.73 708.59 L212.80 709.21 L213.87 709.83 L214.94 710.43 L216.01 711.03 L217.08 711.63 L218.15 712.22 L219.22 712.81 L220.29 713.39 L221.36 713.96 L222.43 714.53 L223.50 715.09 L224.57 715.65 L225.64 716.20 L226.71 716.75 L227.78 717.29 L228.85 717.83 L229.92 718.36 L230.99 718.89 L232.06 719.41 L233.13 719.93 L234.20 720.45 L235.27 720.95 L236.34 721.46 L237.41 721.96 L238.48 722.45 L239.55 722.94 L240.62 723.43 L241.69 723.91 L242.76 724.38 L243.83 724.86 L244.90 725.32 L245.97 725.79 L247.04 726.24 L248.11 726.70 L249.18 727.15 L250.26 727.60 L251.33 728.04 L252.40 728.47 L253.47 728.91 L254.54 729.34 L255.61 729.76 L256.68 730.19 L257.75 730.60 L258.82 731.02 L259.89 731.43 L260.96 731.83 L262.03 732.24 L263.10 732.63 L264.17 733.03 L265.24 733.42 L266.31 733.81 L267.38 734.19 L268.45 734.57 L269.52 734.95 L270.59 735.32 L271.66 735.69 L272.73 736.06 L273.80 736.42 L274.87 736.78 L275.94 737.14 L277.01 737.49 L278.08 737.84 L279.15 738.19 L280.22 738.53 L281.29 738.87 L282.36 739.21 L283.43 739.54 L284.50 739.87 L285.57 740.20 L286.64 740.53 L287.71 740.85 L288.78 741.17 L289.85 741.48 L290.92 741.80 L292.00 742.10 L293.07 742.41 L294.14 742.72 L295.21 743.02 L296.28 743.32 L297.35 743.61 L298.42 743.90 L299.49 744.19 L300.56 744.48 L301.63 744.77 L302.70 745.05 L303.77 745.33 L304.84 745.60 L305.91 745.88 L306.98 746.15 L308.05 746.42 L309.12 746.69 L310.19 746.95 L311.26 747.21 L312.33 747.47 L313.40 747.73 L314.47 747.98 L315.54 748.24 L316.61 748.49 L317.68 748.73 L318.75 748.98 L319.82 749.22 L320.89 749.46 L321.96 749.70 L323.03 749.94 L324.10 750.17 L325.17 750.40 L326.24 750.63 L327.31 750.86 L328.38 751.09 L329.45 751.31 L330.52 751.53 L331.59 751.75 L332.66 751.97 L333.73 752.18 L334.81 752.39 L335.88 752.61 L336.95 752.82 L338.02 753.02 L339.09 753.23 L340.16 753.43 L341.23 753.63 L342.30 753.83 L343.37 754.03 L344.44 754.23 L345.51 754.42 L346.58 754.61 L347.65 754.80 L348.72 754.99 L349.79 755.18 L350.86 755.36 L351.93 755.55 L353.00 755.73 L354.07 755.91 L355.14 756.09 L356.21 756.26 L357.28 756.44 L358.35 756.61 L359.42 756.79 L360.49 756.96 L361.56 757.12 L362.63 757.29" stroke="#B88AC8" stroke-width="3.7" fill="none" stroke-linejoin="round"/><path d="M119.27 775.09 L119.52 770.41 L119.77 765.92 L120.02 761.61 L120.26 757.48 L120.51 753.52 L120.76 749.72 L121.01 746.07 L121.26 742.58 L121.51 739.23 L121.76 736.03 L122.01 732.95 L122.26 730.00 L122.51 727.18 L122.75 724.48 L123.00 721.88 L123.25 719.40 L123.50 717.03 L123.75 714.75 L124.00 712.58 L124.25 710.49 L124.50 708.50 L124.75 706.60 L125.00 704.77 L125.25 703.03 L125.49 701.36 L125.74 699.77 L125.99 698.25 L126.24 696.80 L126.49 695.41 L126.74 694.08 L126.99 692.82 L127.24 691.61 L127.49 690.47 L127.74 689.37 L127.98 688.33 L128.23 687.33 L128.48 686.38 L128.73 685.48 L128.98 684.63 L129.23 683.81 L129.48 683.04 L129.73 682.31 L129.98 681.61 L130.23 680.95 L130.48 680.32 L130.72 679.73 L130.97 679.17 L131.22 678.64 L131.47 678.14 L131.72 677.67 L131.97 677.23 L132.22 676.81 L132.47 676.42 L132.72 676.05 L132.97 675.71 L133.21 675.38 L133.46 675.08 L133.71 674.80 L133.96 674.54 L134.21 674.30 L134.46 674.08 L134.71 673.87 L134.96 673.69 L135.21 673.51 L135.46 673.36 L135.70 673.22 L135.95 673.09 L136.20 672.97 L136.45 672.87 L136.70 672.79 L136.95 672.71 L137.20 672.65 L137.45 672.60 L137.70 672.55 L137.95 672.52 L138.20 672.50 L138.44 672.49 L138.69 672.49 L138.94 672.49 L139.19 672.51 L139.44 672.53 L139.69 672.56 L139.94 672.60 L140.19 672.64 L140.44 672.69 L140.69 672.75 L140.93 672.82 L141.18 672.89 L141.43 672.96 L141.68 673.04 L141.93 673.13 L142.18 673.22 L142.43 673.32 L142.68 673.42 L142.93 673.53 L143.18 673.64 L143.43 673.75 L143.67 673.87 L143.92 673.99 L144.17 674.12 L144.42 674.25 L144.67 674.38 L144.92 674.52 L145.17 674.65 L145.42 674.80 L145.67 674.94 L145.92 675.09 L146.16 675.24 L146.41 675.39 L146.66 675.54 L146.91 675.70 L147.16 675.86 L147.41 676.02 L147.66 676.18 L147.91 676.34 L148.16 676.51 L148.41 676.67 L148.66 676.84 L148.90 677.01 L149.15 677.18 L149.65 677.53 L150.72 678.29 L151.79 679.07 L152.86 679.86 L153.93 680.66 L155.00 681.46 L156.07 682.27 L157.14 683.09 L158.21 683.90 L159.28 684.72 L160.35 685.53 L161.42 686.35 L162.49 687.15 L163.56 687.96 L164.63 688.76 L165.71 689.56 L166.78 690.35 L167.85 691.13 L168.92 691.91 L169.99 692.68 L171.06 693.45 L172.13 694.21 L173.20 694.97 L174.27 695.72 L175.34 696.46 L176.41 697.19 L177.48 697.92 L178.55 698.65 L179.62 699.36 L180.69 700.07 L181.76 700.77 L182.83 701.47 L183.90 702.16 L184.97 702.84 L186.04 703.52 L187.11 704.19 L188.18 704.86 L189.25 705.52 L190.32 706.17 L191.39 706.82 L192.46 707.46 L193.53 708.09 L194.60 708.72 L195.67 709.35 L196.74 709.96 L197.81 710.57 L198.88 711.18 L199.95 711.78 L201.02 712.37 L202.09 712.96 L203.16 713.55 L204.23 714.12 L205.30 714.70 L206.37 715.26 L207.44 715.82 L208.52 716.38 L209.59 716.93 L210.66 717.48 L211.73 718.02 L212.80 718.55 L213.87 719.09 L214.94 719.61 L216.01 720.13 L217.08 720.65 L218.15 721.16 L219.22 721.67 L220.29 722.17 L221.36 722.66 L222.43 723.16 L223.50 723.64 L224.57 724.13 L225.64 724.60 L226.71 725.08 L227.78 725.55 L228.85 726.01 L229.92 726.47 L230.99 726.93 L232.06 727.38 L233.13 727.83 L234.20 728.27 L235.27 728.71 L236.34 729.15 L237.41 729.58 L238.48 730.01 L239.55 730.43 L240.62 730.85 L241.69 731.27 L242.76 731.68 L243.83 732.08 L244.90 732.49 L245.97 732.89 L247.04 733.28 L248.11 733.68 L249.18 734.07 L250.26 734.45 L251.33 734.83 L252.40 735.21 L253.47 735.58 L254.54 735.96 L255.61 736.32 L256.68 736.69 L257.75 737.05 L258.82 737.40 L259.89 737.76 L260.96 738.11 L262.03 738.46 L263.10 738.80 L264.17 739.14 L265.24 739.48 L266.31 739.81 L267.38 740.14 L268.45 740.47 L269.52 740.80 L270.59 741.12 L271.66 741.44 L272.73 741.75 L273.80 742.07 L274.87 742.38 L275.94 742.68 L277.01 742.99 L278.08 743.29 L279.15 743.59 L280.22 743.88 L281.29 744.18 L282.36 744.47 L283.43 744.75 L284.50 745.04 L285.57 745.32 L286.64 745.60 L287.71 745.88 L288.78 746.15 L289.85 746.42 L290.92 746.69 L292.00 746.96 L293.07 747.22 L294.14 747.49 L295.21 747.74 L296.28 748.00 L297.35 748.26 L298.42 748.51 L299.49 748.76 L300.56 749.00 L301.63 749.25 L302.70 749.49 L303.77 749.73 L304.84 749.97 L305.91 750.21 L306.98 750.44 L308.05 750.67 L309.12 750.90 L310.19 751.13 L311.26 751.35 L312.33 751.57 L313.40 751.80 L314.47 752.01 L315.54 752.23 L316.61 752.45 L317.68 752.66 L318.75 752.87 L319.82 753.08 L320.89 753.28 L321.96 753.49 L323.03 753.69 L324.10 753.89 L325.17 754.09 L326.24 754.29 L327.31 754.48 L328.38 754.68 L329.45 754.87 L330.52 755.06 L331.59 755.25 L332.66 755.43 L333.73 755.62 L334.81 755.80 L335.88 755.98 L336.95 756.16 L338.02 756.34 L339.09 756.51 L340.16 756.69 L341.23 756.86 L342.30 757.03 L343.37 757.20 L344.44 757.37 L345.51 757.54 L346.58 757.70 L347.65 757.86 L348.72 758.03 L349.79 758.19 L350.86 758.35 L351.93 758.50 L353.00 758.66 L354.07 758.81 L355.14 758.97 L356.21 759.12 L357.28 759.27 L358.35 759.42 L359.42 759.56 L360.49 759.71 L361.56 759.85 L362.63 760.00" stroke="#0E9A57" stroke-width="2.85" fill="none" stroke-dasharray="11.4 11.4" stroke-linejoin="round"/></g><path d="M107.10 604.75V783.20H374.80" stroke="#1A1A1A" stroke-width="1.1" fill="none" stroke-linecap="butt"/><path d="M99.75 775.09H107.10M99.75 730.18H107.10M99.75 685.26H107.10M99.75 640.35H107.10M119.27 783.20V790.55M169.08 783.20V790.55M218.88 783.20V790.55M268.69 783.20V790.55M318.50 783.20V790.55M368.31 783.20V790.55" stroke="#333333" stroke-width="2.7" fill="none"/><text x="93.95" y="783" text-anchor="end" fill="#4D4D4D" font-size="23.2">0.0</text><text x="93.95" y="738" text-anchor="end" fill="#4D4D4D" font-size="23.2">2.5</text><text x="93.95" y="694" text-anchor="end" fill="#4D4D4D" font-size="23.2">5.0</text><text x="93.95" y="649" text-anchor="end" fill="#4D4D4D" font-size="23.2">7.5</text><text x="119.27" y="813" text-anchor="middle" fill="#4D4D4D" font-size="23.2">0</text><text x="169.08" y="813" text-anchor="middle" fill="#4D4D4D" font-size="23.2">5</text><path transform="translate(205.98,813.00) scale(0.011328,-0.011781)" d="M763 0L583 0L583 1147Q518 1085 465 1054Q412 1023 360 992Q307 961 223 930L223 1104Q374 1175 430 1225Q487 1276 543 1326Q600 1377 647 1409L763 1409Z" fill="#4D4D4D"/><text x="218.87" y="813.00" fill="#4D4D4D" font-size="23.2" style="white-space:pre">0</text><path transform="translate(255.79,813.00) scale(0.011328,-0.011781)" d="M763 0L583 0L583 1147Q518 1085 465 1054Q412 1023 360 992Q307 961 223 930L223 1104Q374 1175 430 1225Q487 1276 543 1326Q600 1377 647 1409L763 1409Z" fill="#4D4D4D"/><text x="268.68" y="813.00" fill="#4D4D4D" font-size="23.2" style="white-space:pre">5</text><text x="318.50" y="813" text-anchor="middle" fill="#4D4D4D" font-size="23.2">20</text><text x="368.31" y="813" text-anchor="middle" fill="#4D4D4D" font-size="23.2">25</text><text x="240.95" y="591" text-anchor="middle" fill="#1A1A1A" font-size="23.2">id: 9</text><path d="M448.30 755.23H716.00M448.30 715.50H716.00M448.30 675.78H716.00M448.30 636.06H716.00M486.14 604.75V783.20M537.48 604.75V783.20M588.82 604.75V783.20M640.17 604.75V783.20M691.51 604.75V783.20" stroke="#DCDCDC" stroke-width="1.0" fill="none"/><path d="M448.30 775.09H716.00M448.30 735.37H716.00M448.30 695.64H716.00M448.30 655.92H716.00M448.30 616.20H716.00M460.47 604.75V783.20M511.81 604.75V783.20M563.15 604.75V783.20M614.50 604.75V783.20M665.84 604.75V783.20" stroke="#DCDCDC" stroke-width="1.0" fill="none"/><g clip-path="url(#c10)"><g fill="#4682B4"><circle cx="464.27" cy="729.17" r="4.7"/><circle cx="468.37" cy="692.15" r="4.7"/><circle cx="470.94" cy="673.24" r="4.7"/><circle cx="481.52" cy="650.68" r="4.7"/><circle cx="496.92" cy="612.86" r="4.7"/><circle cx="512.32" cy="629.23" r="4.7"/><circle cx="533.17" cy="647.66" r="4.7"/><circle cx="556.79" cy="661.64" r="4.7"/><circle cx="584.72" cy="684.84" r="4.7"/><circle cx="703.83" cy="736.64" r="4.7"/></g><path d="M460.47 775.09 L460.72 771.54 L460.98 768.06 L461.24 764.64 L461.50 761.30 L461.75 758.03 L462.01 754.82 L462.27 751.67 L462.52 748.59 L462.78 745.57 L463.04 742.61 L463.29 739.71 L463.55 736.87 L463.81 734.08 L464.06 731.36 L464.32 728.69 L464.58 726.07 L464.83 723.51 L465.09 721.00 L465.35 718.54 L465.60 716.14 L465.86 713.78 L466.12 711.47 L466.37 709.21 L466.63 707.00 L466.89 704.83 L467.14 702.71 L467.40 700.64 L467.66 698.60 L467.91 696.61 L468.17 694.67 L468.43 692.76 L468.68 690.90 L468.94 689.07 L469.20 687.28 L469.45 685.54 L469.71 683.83 L469.97 682.15 L470.22 680.52 L470.48 678.92 L470.74 677.35 L470.99 675.82 L471.25 674.32 L471.51 672.86 L471.76 671.42 L472.02 670.02 L472.28 668.66 L472.53 667.32 L472.79 666.01 L473.05 664.73 L473.30 663.48 L473.56 662.26 L473.82 661.07 L474.07 659.91 L474.33 658.77 L474.59 657.66 L474.84 656.57 L475.10 655.51 L475.36 654.48 L475.61 653.47 L475.87 652.48 L476.13 651.52 L476.38 650.58 L476.64 649.67 L476.90 648.77 L477.15 647.90 L477.41 647.05 L477.67 646.22 L477.92 645.42 L478.18 644.63 L478.44 643.86 L478.69 643.11 L478.95 642.39 L479.21 641.68 L479.46 640.99 L479.72 640.31 L479.98 639.66 L480.24 639.02 L480.49 638.40 L480.75 637.80 L481.01 637.21 L481.26 636.64 L481.52 636.09 L481.78 635.55 L482.03 635.02 L482.29 634.52 L482.55 634.02 L482.80 633.54 L483.06 633.08 L483.32 632.63 L483.57 632.19 L483.83 631.77 L484.09 631.36 L484.34 630.96 L484.60 630.58 L484.86 630.21 L485.11 629.85 L485.37 629.50 L485.63 629.16 L485.88 628.84 L486.14 628.53 L486.40 628.22 L486.65 627.93 L486.91 627.65 L487.17 627.38 L487.42 627.12 L487.68 626.87 L487.94 626.64 L488.19 626.41 L488.45 626.19 L488.71 625.97 L488.96 625.77 L489.22 625.58 L489.48 625.40 L489.73 625.22 L489.99 625.06 L490.25 624.90 L490.50 624.75 L490.76 624.61 L491.02 624.47 L491.27 624.34 L491.79 624.11 L492.85 623.73 L493.92 623.46 L494.98 623.29 L496.05 623.23 L497.11 623.25 L498.18 623.36 L499.25 623.54 L500.31 623.79 L501.38 624.11 L502.44 624.49 L503.51 624.92 L504.57 625.40 L505.64 625.92 L506.70 626.49 L507.77 627.09 L508.84 627.73 L509.90 628.40 L510.97 629.10 L512.03 629.82 L513.10 630.57 L514.16 631.34 L515.23 632.12 L516.29 632.93 L517.36 633.75 L518.43 634.58 L519.49 635.42 L520.56 636.28 L521.62 637.14 L522.69 638.02 L523.75 638.89 L524.82 639.78 L525.88 640.67 L526.95 641.56 L528.02 642.46 L529.08 643.36 L530.15 644.26 L531.21 645.16 L532.28 646.06 L533.34 646.96 L534.41 647.87 L535.47 648.77 L536.54 649.67 L537.61 650.56 L538.67 651.46 L539.74 652.35 L540.80 653.24 L541.87 654.13 L542.93 655.01 L544.00 655.89 L545.06 656.77 L546.13 657.64 L547.20 658.51 L548.26 659.37 L549.33 660.23 L550.39 661.08 L551.46 661.93 L552.52 662.78 L553.59 663.62 L554.65 664.45 L555.72 665.28 L556.79 666.11 L557.85 666.93 L558.92 667.74 L559.98 668.55 L561.05 669.36 L562.11 670.16 L563.18 670.95 L564.24 671.74 L565.31 672.52 L566.38 673.30 L567.44 674.07 L568.51 674.84 L569.57 675.60 L570.64 676.36 L571.70 677.11 L572.77 677.86 L573.83 678.60 L574.90 679.33 L575.97 680.06 L577.03 680.79 L578.10 681.51 L579.16 682.22 L580.23 682.93 L581.29 683.63 L582.36 684.33 L583.42 685.02 L584.49 685.71 L585.56 686.39 L586.62 687.07 L587.69 687.75 L588.75 688.41 L589.82 689.08 L590.88 689.73 L591.95 690.39 L593.01 691.03 L594.08 691.68 L595.15 692.32 L596.21 692.95 L597.28 693.58 L598.34 694.20 L599.41 694.82 L600.47 695.44 L601.54 696.05 L602.60 696.65 L603.67 697.25 L604.74 697.85 L605.80 698.44 L606.87 699.03 L607.93 699.61 L609.00 700.19 L610.06 700.76 L611.13 701.33 L612.19 701.90 L613.26 702.46 L614.33 703.01 L615.39 703.57 L616.46 704.11 L617.52 704.66 L618.59 705.20 L619.65 705.73 L620.72 706.26 L621.78 706.79 L622.85 707.31 L623.92 707.83 L624.98 708.35 L626.05 708.86 L627.11 709.37 L628.18 709.87 L629.24 710.37 L630.31 710.87 L631.37 711.36 L632.44 711.85 L633.51 712.33 L634.57 712.81 L635.64 713.29 L636.70 713.77 L637.77 714.24 L638.83 714.70 L639.90 715.16 L640.96 715.62 L642.03 716.08 L643.10 716.53 L644.16 716.98 L645.23 717.43 L646.29 717.87 L647.36 718.31 L648.42 718.74 L649.49 719.17 L650.55 719.60 L651.62 720.03 L652.69 720.45 L653.75 720.87 L654.82 721.28 L655.88 721.70 L656.95 722.11 L658.01 722.51 L659.08 722.92 L660.14 723.32 L661.21 723.71 L662.28 724.11 L663.34 724.50 L664.41 724.88 L665.47 725.27 L666.54 725.65 L667.60 726.03 L668.67 726.41 L669.73 726.78 L670.80 727.15 L671.87 727.52 L672.93 727.88 L674.00 728.24 L675.06 728.60 L676.13 728.96 L677.19 729.31 L678.26 729.66 L679.32 730.01 L680.39 730.36 L681.46 730.70 L682.52 731.04 L683.59 731.38 L684.65 731.71 L685.72 732.05 L686.78 732.38 L687.85 732.70 L688.91 733.03 L689.98 733.35 L691.05 733.67 L692.11 733.99 L693.18 734.30 L694.24 734.62 L695.31 734.93 L696.37 735.23 L697.44 735.54 L698.50 735.84 L699.57 736.14 L700.64 736.44 L701.70 736.74 L702.77 737.03 L703.83 737.32" stroke="#B88AC8" stroke-width="3.7" fill="none" stroke-linejoin="round"/><path d="M460.47 775.09 L460.72 767.74 L460.98 760.70 L461.24 753.94 L461.50 747.46 L461.75 741.24 L462.01 735.28 L462.27 729.56 L462.52 724.08 L462.78 718.83 L463.04 713.79 L463.29 708.97 L463.55 704.34 L463.81 699.91 L464.06 695.67 L464.32 691.60 L464.58 687.71 L464.83 683.98 L465.09 680.42 L465.35 677.00 L465.60 673.73 L465.86 670.60 L466.12 667.61 L466.37 664.75 L466.63 662.02 L466.89 659.40 L467.14 656.90 L467.40 654.52 L467.66 652.24 L467.91 650.06 L468.17 647.98 L468.43 646.00 L468.68 644.11 L468.94 642.30 L469.20 640.58 L469.45 638.94 L469.71 637.38 L469.97 635.90 L470.22 634.49 L470.48 633.14 L470.74 631.87 L470.99 630.65 L471.25 629.50 L471.51 628.41 L471.76 627.37 L472.02 626.39 L472.28 625.46 L472.53 624.58 L472.79 623.75 L473.05 622.97 L473.30 622.23 L473.56 621.53 L473.82 620.88 L474.07 620.26 L474.33 619.69 L474.59 619.14 L474.84 618.64 L475.10 618.17 L475.36 617.73 L475.61 617.32 L475.87 616.94 L476.13 616.59 L476.38 616.27 L476.64 615.97 L476.90 615.70 L477.15 615.46 L477.41 615.24 L477.67 615.04 L477.92 614.86 L478.18 614.70 L478.44 614.56 L478.69 614.44 L478.95 614.34 L479.21 614.26 L479.46 614.20 L479.72 614.15 L479.98 614.11 L480.24 614.09 L480.49 614.09 L480.75 614.10 L481.01 614.12 L481.26 614.16 L481.52 614.21 L481.78 614.26 L482.03 614.33 L482.29 614.42 L482.55 614.51 L482.80 614.61 L483.06 614.72 L483.32 614.84 L483.57 614.97 L483.83 615.10 L484.09 615.25 L484.34 615.40 L484.60 615.56 L484.86 615.73 L485.11 615.90 L485.37 616.08 L485.63 616.26 L485.88 616.46 L486.14 616.65 L486.40 616.86 L486.65 617.06 L486.91 617.28 L487.17 617.49 L487.42 617.72 L487.68 617.94 L487.94 618.17 L488.19 618.41 L488.45 618.64 L488.71 618.88 L488.96 619.13 L489.22 619.38 L489.48 619.63 L489.73 619.88 L489.99 620.14 L490.25 620.40 L490.50 620.66 L490.76 620.92 L491.02 621.19 L491.27 621.46 L491.79 622.00 L492.85 623.15 L493.92 624.33 L494.98 625.53 L496.05 626.74 L497.11 627.96 L498.18 629.19 L499.25 630.42 L500.31 631.66 L501.38 632.89 L502.44 634.13 L503.51 635.36 L504.57 636.59 L505.64 637.81 L506.70 639.03 L507.77 640.24 L508.84 641.44 L509.90 642.63 L510.97 643.82 L512.03 645.00 L513.10 646.17 L514.16 647.33 L515.23 648.48 L516.29 649.62 L517.36 650.75 L518.43 651.88 L519.49 652.99 L520.56 654.09 L521.62 655.19 L522.69 656.27 L523.75 657.35 L524.82 658.41 L525.88 659.47 L526.95 660.52 L528.02 661.56 L529.08 662.58 L530.15 663.60 L531.21 664.61 L532.28 665.62 L533.34 666.61 L534.41 667.59 L535.47 668.57 L536.54 669.53 L537.61 670.49 L538.67 671.44 L539.74 672.38 L540.80 673.31 L541.87 674.23 L542.93 675.15 L544.00 676.05 L545.06 676.95 L546.13 677.84 L547.20 678.72 L548.26 679.60 L549.33 680.46 L550.39 681.32 L551.46 682.17 L552.52 683.01 L553.59 683.85 L554.65 684.68 L555.72 685.50 L556.79 686.31 L557.85 687.11 L558.92 687.91 L559.98 688.70 L561.05 689.49 L562.11 690.26 L563.18 691.03 L564.24 691.79 L565.31 692.55 L566.38 693.30 L567.44 694.04 L568.51 694.78 L569.57 695.50 L570.64 696.23 L571.70 696.94 L572.77 697.65 L573.83 698.35 L574.90 699.05 L575.97 699.74 L577.03 700.42 L578.10 701.10 L579.16 701.77 L580.23 702.43 L581.29 703.09 L582.36 703.75 L583.42 704.39 L584.49 705.03 L585.56 705.67 L586.62 706.30 L587.69 706.92 L588.75 707.54 L589.82 708.15 L590.88 708.76 L591.95 709.36 L593.01 709.96 L594.08 710.55 L595.15 711.13 L596.21 711.71 L597.28 712.29 L598.34 712.86 L599.41 713.42 L600.47 713.98 L601.54 714.54 L602.60 715.09 L603.67 715.63 L604.74 716.17 L605.80 716.70 L606.87 717.23 L607.93 717.76 L609.00 718.28 L610.06 718.79 L611.13 719.30 L612.19 719.81 L613.26 720.31 L614.33 720.81 L615.39 721.30 L616.46 721.79 L617.52 722.27 L618.59 722.75 L619.65 723.23 L620.72 723.70 L621.78 724.16 L622.85 724.62 L623.92 725.08 L624.98 725.53 L626.05 725.98 L627.11 726.43 L628.18 726.87 L629.24 727.31 L630.31 727.74 L631.37 728.17 L632.44 728.60 L633.51 729.02 L634.57 729.44 L635.64 729.85 L636.70 730.26 L637.77 730.67 L638.83 731.07 L639.90 731.47 L640.96 731.86 L642.03 732.26 L643.10 732.64 L644.16 733.03 L645.23 733.41 L646.29 733.79 L647.36 734.16 L648.42 734.54 L649.49 734.90 L650.55 735.27 L651.62 735.63 L652.69 735.99 L653.75 736.34 L654.82 736.69 L655.88 737.04 L656.95 737.39 L658.01 737.73 L659.08 738.07 L660.14 738.40 L661.21 738.74 L662.28 739.06 L663.34 739.39 L664.41 739.72 L665.47 740.04 L666.54 740.35 L667.60 740.67 L668.67 740.98 L669.73 741.29 L670.80 741.60 L671.87 741.90 L672.93 742.20 L674.00 742.50 L675.06 742.80 L676.13 743.09 L677.19 743.38 L678.26 743.67 L679.32 743.95 L680.39 744.23 L681.46 744.51 L682.52 744.79 L683.59 745.07 L684.65 745.34 L685.72 745.61 L686.78 745.88 L687.85 746.14 L688.91 746.40 L689.98 746.66 L691.05 746.92 L692.11 747.18 L693.18 747.43 L694.24 747.68 L695.31 747.93 L696.37 748.17 L697.44 748.42 L698.50 748.66 L699.57 748.90 L700.64 749.14 L701.70 749.37 L702.77 749.61 L703.83 749.84" stroke="#0E9A57" stroke-width="2.85" fill="none" stroke-dasharray="11.4 11.4" stroke-linejoin="round"/></g><path d="M448.30 604.75V783.20H716.00" stroke="#1A1A1A" stroke-width="1.1" fill="none" stroke-linecap="butt"/><path d="M440.95 775.09H448.30M440.95 735.37H448.30M440.95 695.64H448.30M440.95 655.92H448.30M440.95 616.20H448.30M460.47 783.20V790.55M511.81 783.20V790.55M563.15 783.20V790.55M614.50 783.20V790.55M665.84 783.20V790.55" stroke="#333333" stroke-width="2.7" fill="none"/><text x="435.15" y="783" text-anchor="end" fill="#4D4D4D" font-size="23.2">0.0</text><text x="435.15" y="744" text-anchor="end" fill="#4D4D4D" font-size="23.2">2.5</text><text x="435.15" y="704" text-anchor="end" fill="#4D4D4D" font-size="23.2">5.0</text><text x="435.15" y="664" text-anchor="end" fill="#4D4D4D" font-size="23.2">7.5</text><path transform="translate(390.01,624.00) scale(0.011328,-0.011781)" d="M763 0L583 0L583 1147Q518 1085 465 1054Q412 1023 360 992Q307 961 223 930L223 1104Q374 1175 430 1225Q487 1276 543 1326Q600 1377 647 1409L763 1409Z" fill="#4D4D4D"/><text x="402.90" y="624.00" fill="#4D4D4D" font-size="23.2" style="white-space:pre">0.0</text><text x="460.47" y="813" text-anchor="middle" fill="#4D4D4D" font-size="23.2">0</text><text x="511.81" y="813" text-anchor="middle" fill="#4D4D4D" font-size="23.2">5</text><path transform="translate(550.25,813.00) scale(0.011328,-0.011781)" d="M763 0L583 0L583 1147Q518 1085 465 1054Q412 1023 360 992Q307 961 223 930L223 1104Q374 1175 430 1225Q487 1276 543 1326Q600 1377 647 1409L763 1409Z" fill="#4D4D4D"/><text x="563.14" y="813.00" fill="#4D4D4D" font-size="23.2" style="white-space:pre">0</text><path transform="translate(601.60,813.00) scale(0.011328,-0.011781)" d="M763 0L583 0L583 1147Q518 1085 465 1054Q412 1023 360 992Q307 961 223 930L223 1104Q374 1175 430 1225Q487 1276 543 1326Q600 1377 647 1409L763 1409Z" fill="#4D4D4D"/><text x="614.49" y="813.00" fill="#4D4D4D" font-size="23.2" style="white-space:pre">5</text><text x="665.84" y="813" text-anchor="middle" fill="#4D4D4D" font-size="23.2">20</text><text x="553.78" y="591.00" fill="#1A1A1A" font-size="23.2" style="white-space:pre">id:&#160;</text><path transform="translate(584.70,591.00) scale(0.011328,-0.011781)" d="M763 0L583 0L583 1147Q518 1085 465 1054Q412 1023 360 992Q307 961 223 930L223 1104Q374 1175 430 1225Q487 1276 543 1326Q600 1377 647 1409L763 1409Z" fill="#1A1A1A"/><text x="597.60" y="591.00" fill="#1A1A1A" font-size="23.2" style="white-space:pre">0</text><path d="M776.50 752.73H1044.20M776.50 708.02H1044.20M776.50 663.30H1044.20M776.50 618.58H1044.20M813.93 604.75V783.20M864.47 604.75V783.20M915.00 604.75V783.20M965.53 604.75V783.20M1016.06 604.75V783.20" stroke="#DCDCDC" stroke-width="1.0" fill="none"/><path d="M776.50 775.09H1044.20M776.50 730.37H1044.20M776.50 685.66H1044.20M776.50 640.94H1044.20M788.67 604.75V783.20M839.20 604.75V783.20M889.73 604.75V783.20M940.27 604.75V783.20M990.80 604.75V783.20M1041.33 604.75V783.20" stroke="#DCDCDC" stroke-width="1.0" fill="none"/><g clip-path="url(#c11)"><g fill="#4682B4"><circle cx="791.19" cy="688.16" r="4.7"/><circle cx="793.72" cy="645.59" r="4.7"/><circle cx="798.57" cy="632.00" r="4.7"/><circle cx="808.68" cy="653.28" r="4.7"/><circle cx="825.05" cy="670.10" r="4.7"/><circle cx="839.40" cy="681.72" r="4.7"/><circle cx="859.72" cy="695.50" r="4.7"/><circle cx="879.93" cy="710.34" r="4.7"/><circle cx="911.16" cy="726.97" r="4.7"/><circle cx="1032.03" cy="759.71" r="4.7"/></g><path d="M788.67 775.09 L788.92 763.37 L789.17 752.53 L789.43 742.49 L789.68 733.21 L789.93 724.62 L790.18 716.68 L790.44 709.35 L790.69 702.57 L790.94 696.30 L791.19 690.52 L791.45 685.18 L791.70 680.26 L791.95 675.72 L792.21 671.53 L792.46 667.68 L792.71 664.13 L792.96 660.87 L793.22 657.87 L793.47 655.11 L793.72 652.58 L793.97 650.27 L794.23 648.15 L794.48 646.21 L794.73 644.44 L794.98 642.82 L795.24 641.35 L795.49 640.01 L795.74 638.80 L796.00 637.71 L796.25 636.72 L796.50 635.83 L796.75 635.03 L797.01 634.32 L797.26 633.69 L797.51 633.13 L797.76 632.64 L798.02 632.22 L798.27 631.85 L798.52 631.53 L798.77 631.27 L799.03 631.05 L799.28 630.88 L799.53 630.75 L799.79 630.65 L800.04 630.59 L800.29 630.56 L800.54 630.56 L800.80 630.58 L801.05 630.63 L801.30 630.71 L801.55 630.80 L801.81 630.92 L802.06 631.06 L802.31 631.21 L802.56 631.38 L802.82 631.56 L803.07 631.75 L803.32 631.96 L803.58 632.18 L803.83 632.41 L804.08 632.65 L804.33 632.90 L804.59 633.16 L804.84 633.42 L805.09 633.70 L805.34 633.97 L805.60 634.26 L805.85 634.55 L806.10 634.84 L806.35 635.14 L806.61 635.44 L806.86 635.75 L807.11 636.06 L807.37 636.38 L807.62 636.69 L807.87 637.01 L808.12 637.33 L808.38 637.65 L808.63 637.98 L808.88 638.31 L809.13 638.63 L809.39 638.96 L809.64 639.29 L809.89 639.63 L810.14 639.96 L810.40 640.29 L810.65 640.63 L810.90 640.96 L811.16 641.30 L811.41 641.63 L811.66 641.97 L811.91 642.30 L812.17 642.64 L812.42 642.97 L812.67 643.31 L812.92 643.64 L813.18 643.98 L813.43 644.31 L813.68 644.65 L813.93 644.98 L814.19 645.32 L814.44 645.65 L814.69 645.98 L814.94 646.32 L815.20 646.65 L815.45 646.98 L815.70 647.31 L815.96 647.64 L816.21 647.97 L816.46 648.30 L816.71 648.63 L816.97 648.96 L817.22 649.29 L817.47 649.61 L817.72 649.94 L817.98 650.26 L818.23 650.59 L818.48 650.91 L818.73 651.24 L818.99 651.56 L819.49 652.20 L820.56 653.55 L821.63 654.89 L822.70 656.21 L823.77 657.52 L824.83 658.82 L825.90 660.10 L826.97 661.36 L828.04 662.62 L829.11 663.86 L830.17 665.08 L831.24 666.30 L832.31 667.50 L833.38 668.68 L834.45 669.85 L835.51 671.01 L836.58 672.16 L837.65 673.30 L838.72 674.42 L839.79 675.53 L840.85 676.63 L841.92 677.71 L842.99 678.79 L844.06 679.85 L845.13 680.90 L846.19 681.94 L847.26 682.96 L848.33 683.98 L849.40 684.98 L850.47 685.98 L851.53 686.96 L852.60 687.93 L853.67 688.89 L854.74 689.84 L855.81 690.78 L856.87 691.71 L857.94 692.63 L859.01 693.54 L860.08 694.44 L861.15 695.33 L862.21 696.21 L863.28 697.08 L864.35 697.94 L865.42 698.79 L866.49 699.63 L867.55 700.46 L868.62 701.28 L869.69 702.10 L870.76 702.90 L871.83 703.70 L872.89 704.49 L873.96 705.26 L875.03 706.03 L876.10 706.80 L877.17 707.55 L878.23 708.29 L879.30 709.03 L880.37 709.76 L881.44 710.48 L882.51 711.19 L883.57 711.90 L884.64 712.59 L885.71 713.28 L886.78 713.96 L887.85 714.64 L888.92 715.30 L889.98 715.96 L891.05 716.61 L892.12 717.26 L893.19 717.90 L894.26 718.53 L895.32 719.15 L896.39 719.77 L897.46 720.38 L898.53 720.98 L899.60 721.58 L900.66 722.17 L901.73 722.75 L902.80 723.33 L903.87 723.90 L904.94 724.46 L906.00 725.02 L907.07 725.57 L908.14 726.12 L909.21 726.66 L910.28 727.19 L911.34 727.72 L912.41 728.24 L913.48 728.76 L914.55 729.27 L915.62 729.78 L916.68 730.28 L917.75 730.77 L918.82 731.26 L919.89 731.74 L920.96 732.22 L922.02 732.69 L923.09 733.16 L924.16 733.62 L925.23 734.08 L926.30 734.53 L927.36 734.98 L928.43 735.42 L929.50 735.86 L930.57 736.29 L931.64 736.72 L932.70 737.14 L933.77 737.56 L934.84 737.97 L935.91 738.38 L936.98 738.79 L938.04 739.19 L939.11 739.58 L940.18 739.97 L941.25 740.36 L942.32 740.74 L943.38 741.12 L944.45 741.50 L945.52 741.87 L946.59 742.23 L947.66 742.60 L948.73 742.95 L949.79 743.31 L950.86 743.66 L951.93 744.01 L953.00 744.35 L954.07 744.69 L955.13 745.02 L956.20 745.35 L957.27 745.68 L958.34 746.01 L959.41 746.33 L960.47 746.64 L961.54 746.96 L962.61 747.27 L963.68 747.57 L964.75 747.88 L965.81 748.18 L966.88 748.47 L967.95 748.77 L969.02 749.06 L970.09 749.35 L971.15 749.63 L972.22 749.91 L973.29 750.19 L974.36 750.46 L975.43 750.73 L976.49 751.00 L977.56 751.27 L978.63 751.53 L979.70 751.79 L980.77 752.05 L981.83 752.30 L982.90 752.55 L983.97 752.80 L985.04 753.05 L986.11 753.29 L987.17 753.53 L988.24 753.77 L989.31 754.00 L990.38 754.24 L991.45 754.47 L992.51 754.69 L993.58 754.92 L994.65 755.14 L995.72 755.36 L996.79 755.58 L997.85 755.79 L998.92 756.01 L999.99 756.22 L1001.06 756.42 L1002.13 756.63 L1003.19 756.83 L1004.26 757.03 L1005.33 757.23 L1006.40 757.43 L1007.47 757.62 L1008.54 757.82 L1009.60 758.01 L1010.67 758.20 L1011.74 758.38 L1012.81 758.57 L1013.88 758.75 L1014.94 758.93 L1016.01 759.11 L1017.08 759.28 L1018.15 759.46 L1019.22 759.63 L1020.28 759.80 L1021.35 759.97 L1022.42 760.14 L1023.49 760.30 L1024.56 760.46 L1025.62 760.62 L1026.69 760.78 L1027.76 760.94 L1028.83 761.10 L1029.90 761.25 L1030.96 761.40 L1032.03 761.56" stroke="#B88AC8" stroke-width="3.7" fill="none" stroke-linejoin="round"/><path d="M788.67 775.09 L788.92 767.69 L789.17 760.60 L789.43 753.79 L789.68 747.26 L789.93 741.00 L790.18 735.00 L790.44 729.24 L790.69 723.73 L790.94 718.44 L791.19 713.36 L791.45 708.51 L791.70 703.85 L791.95 699.39 L792.21 695.11 L792.46 691.02 L792.71 687.10 L792.96 683.35 L793.22 679.75 L793.47 676.32 L793.72 673.02 L793.97 669.88 L794.23 666.86 L794.48 663.98 L794.73 661.23 L794.98 658.59 L795.24 656.08 L795.49 653.67 L795.74 651.38 L796.00 649.19 L796.25 647.09 L796.50 645.10 L796.75 643.19 L797.01 641.38 L797.26 639.64 L797.51 637.99 L797.76 636.42 L798.02 634.93 L798.27 633.51 L798.52 632.15 L798.77 630.87 L799.03 629.64 L799.28 628.48 L799.53 627.38 L799.79 626.34 L800.04 625.35 L800.29 624.42 L800.54 623.53 L800.80 622.70 L801.05 621.91 L801.30 621.16 L801.55 620.46 L801.81 619.80 L802.06 619.18 L802.31 618.60 L802.56 618.06 L802.82 617.55 L803.07 617.07 L803.32 616.63 L803.58 616.22 L803.83 615.84 L804.08 615.48 L804.33 615.16 L804.59 614.86 L804.84 614.59 L805.09 614.34 L805.34 614.12 L805.60 613.92 L805.85 613.74 L806.10 613.58 L806.35 613.44 L806.61 613.32 L806.86 613.22 L807.11 613.14 L807.37 613.07 L807.62 613.02 L807.87 612.99 L808.12 612.97 L808.38 612.97 L808.63 612.98 L808.88 613.00 L809.13 613.03 L809.39 613.08 L809.64 613.14 L809.89 613.21 L810.14 613.29 L810.40 613.39 L810.65 613.49 L810.90 613.60 L811.16 613.72 L811.41 613.85 L811.66 613.99 L811.91 614.13 L812.17 614.29 L812.42 614.45 L812.67 614.61 L812.92 614.79 L813.18 614.97 L813.43 615.16 L813.68 615.35 L813.93 615.55 L814.19 615.75 L814.44 615.96 L814.69 616.17 L814.94 616.39 L815.20 616.62 L815.45 616.84 L815.70 617.08 L815.96 617.31 L816.21 617.55 L816.46 617.79 L816.71 618.04 L816.97 618.29 L817.22 618.54 L817.47 618.80 L817.72 619.06 L817.98 619.32 L818.23 619.58 L818.48 619.85 L818.73 620.12 L818.99 620.39 L819.49 620.93 L820.56 622.12 L821.63 623.32 L822.70 624.55 L823.77 625.79 L824.83 627.05 L825.90 628.31 L826.97 629.57 L828.04 630.84 L829.11 632.11 L830.17 633.37 L831.24 634.64 L832.31 635.89 L833.38 637.15 L834.45 638.39 L835.51 639.63 L836.58 640.86 L837.65 642.08 L838.72 643.30 L839.79 644.50 L840.85 645.70 L841.92 646.88 L842.99 648.06 L844.06 649.23 L845.13 650.39 L846.19 651.53 L847.26 652.67 L848.33 653.80 L849.40 654.91 L850.47 656.02 L851.53 657.12 L852.60 658.21 L853.67 659.29 L854.74 660.35 L855.81 661.41 L856.87 662.46 L857.94 663.50 L859.01 664.53 L860.08 665.55 L861.15 666.56 L862.21 667.56 L863.28 668.56 L864.35 669.54 L865.42 670.52 L866.49 671.48 L867.55 672.44 L868.62 673.39 L869.69 674.32 L870.76 675.26 L871.83 676.18 L872.89 677.09 L873.96 678.00 L875.03 678.89 L876.10 679.78 L877.17 680.66 L878.23 681.53 L879.30 682.40 L880.37 683.25 L881.44 684.10 L882.51 684.94 L883.57 685.77 L884.64 686.60 L885.71 687.42 L886.78 688.23 L887.85 689.03 L888.92 689.82 L889.98 690.61 L891.05 691.39 L892.12 692.16 L893.19 692.93 L894.26 693.69 L895.32 694.44 L896.39 695.18 L897.46 695.92 L898.53 696.65 L899.60 697.38 L900.66 698.10 L901.73 698.81 L902.80 699.51 L903.87 700.21 L904.94 700.90 L906.00 701.59 L907.07 702.27 L908.14 702.94 L909.21 703.60 L910.28 704.26 L911.34 704.92 L912.41 705.57 L913.48 706.21 L914.55 706.84 L915.62 707.48 L916.68 708.10 L917.75 708.72 L918.82 709.33 L919.89 709.94 L920.96 710.54 L922.02 711.14 L923.09 711.73 L924.16 712.31 L925.23 712.89 L926.30 713.47 L927.36 714.04 L928.43 714.60 L929.50 715.16 L930.57 715.71 L931.64 716.26 L932.70 716.80 L933.77 717.34 L934.84 717.87 L935.91 718.40 L936.98 718.93 L938.04 719.45 L939.11 719.96 L940.18 720.47 L941.25 720.97 L942.32 721.47 L943.38 721.97 L944.45 722.46 L945.52 722.94 L946.59 723.43 L947.66 723.90 L948.73 724.38 L949.79 724.84 L950.86 725.31 L951.93 725.77 L953.00 726.22 L954.07 726.67 L955.13 727.12 L956.20 727.57 L957.27 728.00 L958.34 728.44 L959.41 728.87 L960.47 729.30 L961.54 729.72 L962.61 730.14 L963.68 730.55 L964.75 730.96 L965.81 731.37 L966.88 731.78 L967.95 732.18 L969.02 732.57 L970.09 732.97 L971.15 733.35 L972.22 733.74 L973.29 734.12 L974.36 734.50 L975.43 734.87 L976.49 735.25 L977.56 735.61 L978.63 735.98 L979.70 736.34 L980.77 736.70 L981.83 737.05 L982.90 737.40 L983.97 737.75 L985.04 738.10 L986.11 738.44 L987.17 738.78 L988.24 739.11 L989.31 739.44 L990.38 739.77 L991.45 740.10 L992.51 740.42 L993.58 740.74 L994.65 741.06 L995.72 741.37 L996.79 741.69 L997.85 741.99 L998.92 742.30 L999.99 742.60 L1001.06 742.90 L1002.13 743.20 L1003.19 743.49 L1004.26 743.79 L1005.33 744.08 L1006.40 744.36 L1007.47 744.65 L1008.54 744.93 L1009.60 745.21 L1010.67 745.48 L1011.74 745.75 L1012.81 746.03 L1013.88 746.29 L1014.94 746.56 L1016.01 746.82 L1017.08 747.08 L1018.15 747.34 L1019.22 747.60 L1020.28 747.85 L1021.35 748.10 L1022.42 748.35 L1023.49 748.60 L1024.56 748.85 L1025.62 749.09 L1026.69 749.33 L1027.76 749.57 L1028.83 749.80 L1029.90 750.04 L1030.96 750.27 L1032.03 750.50" stroke="#0E9A57" stroke-width="2.85" fill="none" stroke-dasharray="11.4 11.4" stroke-linejoin="round"/></g><path d="M776.50 604.75V783.20H1044.20" stroke="#1A1A1A" stroke-width="1.1" fill="none" stroke-linecap="butt"/><path d="M769.15 775.09H776.50M769.15 730.37H776.50M769.15 685.66H776.50M769.15 640.94H776.50M788.67 783.20V790.55M839.20 783.20V790.55M889.73 783.20V790.55M940.27 783.20V790.55M990.80 783.20V790.55M1041.33 783.20V790.55" stroke="#333333" stroke-width="2.7" fill="none"/><text x="763.35" y="783" text-anchor="end" fill="#4D4D4D" font-size="23.2">0.0</text><text x="763.35" y="739" text-anchor="end" fill="#4D4D4D" font-size="23.2">2.5</text><text x="763.35" y="694" text-anchor="end" fill="#4D4D4D" font-size="23.2">5.0</text><text x="763.35" y="649" text-anchor="end" fill="#4D4D4D" font-size="23.2">7.5</text><text x="788.67" y="813" text-anchor="middle" fill="#4D4D4D" font-size="23.2">0</text><text x="839.20" y="813" text-anchor="middle" fill="#4D4D4D" font-size="23.2">5</text><path transform="translate(876.83,813.00) scale(0.011328,-0.011781)" d="M763 0L583 0L583 1147Q518 1085 465 1054Q412 1023 360 992Q307 961 223 930L223 1104Q374 1175 430 1225Q487 1276 543 1326Q600 1377 647 1409L763 1409Z" fill="#4D4D4D"/><text x="889.72" y="813.00" fill="#4D4D4D" font-size="23.2" style="white-space:pre">0</text><path transform="translate(927.37,813.00) scale(0.011328,-0.011781)" d="M763 0L583 0L583 1147Q518 1085 465 1054Q412 1023 360 992Q307 961 223 930L223 1104Q374 1175 430 1225Q487 1276 543 1326Q600 1377 647 1409L763 1409Z" fill="#4D4D4D"/><text x="940.26" y="813.00" fill="#4D4D4D" font-size="23.2" style="white-space:pre">5</text><text x="990.80" y="813" text-anchor="middle" fill="#4D4D4D" font-size="23.2">20</text><text x="1041.33" y="813" text-anchor="middle" fill="#4D4D4D" font-size="23.2">25</text><text x="882.84" y="591.00" fill="#1A1A1A" font-size="23.2" style="white-space:pre">id:&#160;</text><path transform="translate(913.76,591.00) scale(0.011328,-0.011781)" d="M763 0L583 0L583 1147Q518 1085 465 1054Q412 1023 360 992Q307 961 223 930L223 1104Q374 1175 430 1225Q487 1276 543 1326Q600 1377 647 1409L763 1409Z" fill="#1A1A1A"/><path transform="translate(924.94,591.00) scale(0.011328,-0.011781)" d="M763 0L583 0L583 1147Q518 1085 465 1054Q412 1023 360 992Q307 961 223 930L223 1104Q374 1175 430 1225Q487 1276 543 1326Q600 1377 647 1409L763 1409Z" fill="#1A1A1A"/><path d="M1117.40 754.29H1385.10M1117.40 712.69H1385.10M1117.40 671.10H1385.10M1117.40 629.50H1385.10M1154.76 604.75V783.20M1205.15 604.75V783.20M1255.53 604.75V783.20M1305.92 604.75V783.20M1356.30 604.75V783.20" stroke="#DCDCDC" stroke-width="1.0" fill="none"/><path d="M1117.40 775.09H1385.10M1117.40 733.49H1385.10M1117.40 691.90H1385.10M1117.40 650.30H1385.10M1117.40 608.70H1385.10M1129.57 604.75V783.20M1179.95 604.75V783.20M1230.34 604.75V783.20M1280.73 604.75V783.20M1331.11 604.75V783.20M1381.50 604.75V783.20" stroke="#DCDCDC" stroke-width="1.0" fill="none"/><g clip-path="url(#c12)"><g fill="#4682B4"><circle cx="1132.09" cy="754.29" r="4.7"/><circle cx="1134.61" cy="709.20" r="4.7"/><circle cx="1139.65" cy="644.97" r="4.7"/><circle cx="1149.72" cy="613.36" r="4.7"/><circle cx="1165.04" cy="612.86" r="4.7"/><circle cx="1180.66" cy="632.50" r="4.7"/><circle cx="1200.81" cy="665.44" r="4.7"/><circle cx="1220.57" cy="673.43" r="4.7"/><circle cx="1251.00" cy="699.05" r="4.7"/><circle cx="1372.93" cy="755.62" r="4.7"/></g><path d="M1129.57 775.09 L1129.82 770.72 L1130.07 766.46 L1130.32 762.29 L1130.58 758.22 L1130.83 754.24 L1131.08 750.36 L1131.33 746.57 L1131.58 742.87 L1131.84 739.25 L1132.09 735.72 L1132.34 732.27 L1132.59 728.91 L1132.84 725.62 L1133.10 722.42 L1133.35 719.28 L1133.60 716.23 L1133.85 713.25 L1134.10 710.34 L1134.35 707.50 L1134.61 704.73 L1134.86 702.02 L1135.11 699.39 L1135.36 696.81 L1135.61 694.30 L1135.87 691.86 L1136.12 689.47 L1136.37 687.14 L1136.62 684.87 L1136.87 682.66 L1137.13 680.50 L1137.38 678.40 L1137.63 676.35 L1137.88 674.35 L1138.13 672.41 L1138.39 670.51 L1138.64 668.67 L1138.89 666.87 L1139.14 665.12 L1139.39 663.41 L1139.65 661.75 L1139.90 660.13 L1140.15 658.56 L1140.40 657.03 L1140.65 655.54 L1140.90 654.09 L1141.16 652.68 L1141.41 651.31 L1141.66 649.97 L1141.91 648.68 L1142.16 647.41 L1142.42 646.19 L1142.67 645.00 L1142.92 643.84 L1143.17 642.72 L1143.42 641.63 L1143.68 640.57 L1143.93 639.54 L1144.18 638.55 L1144.43 637.58 L1144.68 636.64 L1144.94 635.73 L1145.19 634.85 L1145.44 634.00 L1145.69 633.17 L1145.94 632.37 L1146.20 631.59 L1146.45 630.84 L1146.70 630.12 L1146.95 629.42 L1147.20 628.74 L1147.46 628.08 L1147.71 627.45 L1147.96 626.84 L1148.21 626.25 L1148.46 625.68 L1148.71 625.14 L1148.97 624.61 L1149.22 624.10 L1149.47 623.61 L1149.72 623.14 L1149.97 622.69 L1150.23 622.26 L1150.48 621.84 L1150.73 621.45 L1150.98 621.07 L1151.23 620.70 L1151.49 620.35 L1151.74 620.02 L1151.99 619.70 L1152.24 619.40 L1152.49 619.11 L1152.75 618.84 L1153.00 618.58 L1153.25 618.34 L1153.50 618.11 L1153.75 617.89 L1154.01 617.68 L1154.26 617.49 L1154.51 617.31 L1154.76 617.14 L1155.01 616.99 L1155.26 616.84 L1155.52 616.71 L1155.77 616.59 L1156.02 616.47 L1156.27 616.37 L1156.52 616.28 L1156.78 616.20 L1157.03 616.13 L1157.28 616.07 L1157.53 616.02 L1157.78 615.98 L1158.04 615.94 L1158.29 615.92 L1158.54 615.90 L1158.79 615.89 L1159.04 615.89 L1159.30 615.90 L1159.55 615.92 L1159.80 615.94 L1160.30 616.01 L1161.37 616.25 L1162.44 616.60 L1163.51 617.06 L1164.58 617.62 L1165.65 618.26 L1166.71 618.97 L1167.78 619.75 L1168.85 620.60 L1169.92 621.50 L1170.99 622.45 L1172.06 623.44 L1173.13 624.47 L1174.19 625.53 L1175.26 626.63 L1176.33 627.74 L1177.40 628.89 L1178.47 630.05 L1179.54 631.23 L1180.60 632.42 L1181.67 633.62 L1182.74 634.84 L1183.81 636.06 L1184.88 637.29 L1185.95 638.52 L1187.02 639.75 L1188.08 640.99 L1189.15 642.22 L1190.22 643.46 L1191.29 644.69 L1192.36 645.92 L1193.43 647.15 L1194.50 648.37 L1195.56 649.59 L1196.63 650.80 L1197.70 652.01 L1198.77 653.21 L1199.84 654.40 L1200.91 655.58 L1201.97 656.76 L1203.04 657.93 L1204.11 659.09 L1205.18 660.24 L1206.25 661.39 L1207.32 662.52 L1208.39 663.65 L1209.45 664.76 L1210.52 665.87 L1211.59 666.97 L1212.66 668.06 L1213.73 669.13 L1214.80 670.20 L1215.86 671.26 L1216.93 672.31 L1218.00 673.35 L1219.07 674.39 L1220.14 675.41 L1221.21 676.42 L1222.28 677.42 L1223.34 678.41 L1224.41 679.40 L1225.48 680.37 L1226.55 681.34 L1227.62 682.29 L1228.69 683.24 L1229.75 684.17 L1230.82 685.10 L1231.89 686.02 L1232.96 686.93 L1234.03 687.83 L1235.10 688.72 L1236.17 689.60 L1237.23 690.48 L1238.30 691.34 L1239.37 692.20 L1240.44 693.05 L1241.51 693.88 L1242.58 694.72 L1243.65 695.54 L1244.71 696.35 L1245.78 697.16 L1246.85 697.95 L1247.92 698.74 L1248.99 699.53 L1250.06 700.30 L1251.12 701.07 L1252.19 701.82 L1253.26 702.57 L1254.33 703.32 L1255.40 704.05 L1256.47 704.78 L1257.54 705.50 L1258.60 706.21 L1259.67 706.92 L1260.74 707.62 L1261.81 708.31 L1262.88 708.99 L1263.95 709.67 L1265.01 710.34 L1266.08 711.00 L1267.15 711.66 L1268.22 712.31 L1269.29 712.95 L1270.36 713.59 L1271.43 714.22 L1272.49 714.84 L1273.56 715.46 L1274.63 716.07 L1275.70 716.68 L1276.77 717.27 L1277.84 717.87 L1278.91 718.45 L1279.97 719.03 L1281.04 719.61 L1282.11 720.18 L1283.18 720.74 L1284.25 721.30 L1285.32 721.85 L1286.38 722.39 L1287.45 722.93 L1288.52 723.47 L1289.59 724.00 L1290.66 724.52 L1291.73 725.04 L1292.80 725.55 L1293.86 726.06 L1294.93 726.56 L1296.00 727.06 L1297.07 727.55 L1298.14 728.04 L1299.21 728.52 L1300.27 729.00 L1301.34 729.47 L1302.41 729.94 L1303.48 730.40 L1304.55 730.86 L1305.62 731.31 L1306.69 731.76 L1307.75 732.20 L1308.82 732.64 L1309.89 733.08 L1310.96 733.51 L1312.03 733.94 L1313.10 734.36 L1314.17 734.77 L1315.23 735.19 L1316.30 735.60 L1317.37 736.00 L1318.44 736.40 L1319.51 736.80 L1320.58 737.19 L1321.64 737.58 L1322.71 737.96 L1323.78 738.34 L1324.85 738.72 L1325.92 739.09 L1326.99 739.46 L1328.06 739.83 L1329.12 740.19 L1330.19 740.55 L1331.26 740.90 L1332.33 741.25 L1333.40 741.60 L1334.47 741.94 L1335.53 742.28 L1336.60 742.62 L1337.67 742.95 L1338.74 743.28 L1339.81 743.61 L1340.88 743.93 L1341.95 744.25 L1343.01 744.56 L1344.08 744.88 L1345.15 745.19 L1346.22 745.49 L1347.29 745.80 L1348.36 746.10 L1349.43 746.39 L1350.49 746.69 L1351.56 746.98 L1352.63 747.27 L1353.70 747.55 L1354.77 747.83 L1355.84 748.11 L1356.90 748.39 L1357.97 748.66 L1359.04 748.93 L1360.11 749.20 L1361.18 749.47 L1362.25 749.73 L1363.32 749.99 L1364.38 750.25 L1365.45 750.50 L1366.52 750.75 L1367.59 751.00 L1368.66 751.25 L1369.73 751.49 L1370.79 751.74 L1371.86 751.98 L1372.93 752.21" stroke="#B88AC8" stroke-width="3.7" fill="none" stroke-linejoin="round"/><path d="M1129.57 775.09 L1129.82 767.68 L1130.07 760.57 L1130.32 753.75 L1130.58 747.20 L1130.83 740.93 L1131.08 734.92 L1131.33 729.15 L1131.58 723.62 L1131.84 718.32 L1132.09 713.23 L1132.34 708.37 L1132.59 703.70 L1132.84 699.23 L1133.10 694.95 L1133.35 690.84 L1133.60 686.92 L1133.85 683.15 L1134.10 679.55 L1134.35 676.11 L1134.61 672.81 L1134.86 669.65 L1135.11 666.63 L1135.36 663.75 L1135.61 660.99 L1135.87 658.35 L1136.12 655.83 L1136.37 653.42 L1136.62 651.12 L1136.87 648.92 L1137.13 646.82 L1137.38 644.82 L1137.63 642.91 L1137.88 641.09 L1138.13 639.36 L1138.39 637.71 L1138.64 636.13 L1138.89 634.63 L1139.14 633.21 L1139.39 631.85 L1139.65 630.56 L1139.90 629.34 L1140.15 628.18 L1140.40 627.07 L1140.65 626.03 L1140.90 625.04 L1141.16 624.10 L1141.41 623.21 L1141.66 622.37 L1141.91 621.58 L1142.16 620.84 L1142.42 620.14 L1142.67 619.47 L1142.92 618.85 L1143.17 618.27 L1143.42 617.73 L1143.68 617.22 L1143.93 616.74 L1144.18 616.30 L1144.43 615.88 L1144.68 615.50 L1144.94 615.15 L1145.19 614.82 L1145.44 614.53 L1145.69 614.25 L1145.94 614.00 L1146.20 613.78 L1146.45 613.58 L1146.70 613.40 L1146.95 613.24 L1147.20 613.10 L1147.46 612.98 L1147.71 612.88 L1147.96 612.80 L1148.21 612.73 L1148.46 612.68 L1148.71 612.65 L1148.97 612.63 L1149.22 612.63 L1149.47 612.63 L1149.72 612.66 L1149.97 612.69 L1150.23 612.74 L1150.48 612.80 L1150.73 612.87 L1150.98 612.95 L1151.23 613.05 L1151.49 613.15 L1151.74 613.26 L1151.99 613.38 L1152.24 613.51 L1152.49 613.65 L1152.75 613.79 L1153.00 613.95 L1153.25 614.11 L1153.50 614.28 L1153.75 614.45 L1154.01 614.63 L1154.26 614.82 L1154.51 615.01 L1154.76 615.21 L1155.01 615.42 L1155.26 615.63 L1155.52 615.84 L1155.77 616.06 L1156.02 616.28 L1156.27 616.51 L1156.52 616.74 L1156.78 616.98 L1157.03 617.22 L1157.28 617.46 L1157.53 617.71 L1157.78 617.96 L1158.04 618.21 L1158.29 618.47 L1158.54 618.73 L1158.79 618.99 L1159.04 619.25 L1159.30 619.52 L1159.55 619.79 L1159.80 620.06 L1160.30 620.61 L1161.37 621.80 L1162.44 623.01 L1163.51 624.24 L1164.58 625.49 L1165.65 626.75 L1166.71 628.02 L1167.78 629.30 L1168.85 630.57 L1169.92 631.84 L1170.99 633.12 L1172.06 634.39 L1173.13 635.65 L1174.19 636.91 L1175.26 638.16 L1176.33 639.41 L1177.40 640.64 L1178.47 641.87 L1179.54 643.09 L1180.60 644.30 L1181.67 645.51 L1182.74 646.70 L1183.81 647.88 L1184.88 649.05 L1185.95 650.21 L1187.02 651.37 L1188.08 652.51 L1189.15 653.64 L1190.22 654.77 L1191.29 655.88 L1192.36 656.98 L1193.43 658.07 L1194.50 659.16 L1195.56 660.23 L1196.63 661.29 L1197.70 662.35 L1198.77 663.39 L1199.84 664.42 L1200.91 665.45 L1201.97 666.47 L1203.04 667.47 L1204.11 668.47 L1205.18 669.46 L1206.25 670.43 L1207.32 671.40 L1208.39 672.36 L1209.45 673.32 L1210.52 674.26 L1211.59 675.19 L1212.66 676.12 L1213.73 677.04 L1214.80 677.94 L1215.86 678.84 L1216.93 679.74 L1218.00 680.62 L1219.07 681.50 L1220.14 682.36 L1221.21 683.22 L1222.28 684.07 L1223.34 684.92 L1224.41 685.75 L1225.48 686.58 L1226.55 687.40 L1227.62 688.21 L1228.69 689.02 L1229.75 689.81 L1230.82 690.60 L1231.89 691.39 L1232.96 692.16 L1234.03 692.93 L1235.10 693.69 L1236.17 694.45 L1237.23 695.19 L1238.30 695.93 L1239.37 696.67 L1240.44 697.39 L1241.51 698.11 L1242.58 698.83 L1243.65 699.53 L1244.71 700.23 L1245.78 700.93 L1246.85 701.62 L1247.92 702.30 L1248.99 702.97 L1250.06 703.64 L1251.12 704.30 L1252.19 704.96 L1253.26 705.61 L1254.33 706.25 L1255.40 706.89 L1256.47 707.52 L1257.54 708.15 L1258.60 708.77 L1259.67 709.38 L1260.74 709.99 L1261.81 710.59 L1262.88 711.19 L1263.95 711.78 L1265.01 712.37 L1266.08 712.95 L1267.15 713.53 L1268.22 714.10 L1269.29 714.66 L1270.36 715.22 L1271.43 715.78 L1272.49 716.33 L1273.56 716.87 L1274.63 717.41 L1275.70 717.95 L1276.77 718.47 L1277.84 719.00 L1278.91 719.52 L1279.97 720.03 L1281.04 720.54 L1282.11 721.05 L1283.18 721.55 L1284.25 722.05 L1285.32 722.54 L1286.38 723.02 L1287.45 723.51 L1288.52 723.99 L1289.59 724.46 L1290.66 724.93 L1291.73 725.39 L1292.80 725.85 L1293.86 726.31 L1294.93 726.76 L1296.00 727.21 L1297.07 727.65 L1298.14 728.09 L1299.21 728.53 L1300.27 728.96 L1301.34 729.39 L1302.41 729.81 L1303.48 730.23 L1304.55 730.65 L1305.62 731.06 L1306.69 731.47 L1307.75 731.87 L1308.82 732.27 L1309.89 732.67 L1310.96 733.06 L1312.03 733.45 L1313.10 733.84 L1314.17 734.22 L1315.23 734.60 L1316.30 734.97 L1317.37 735.34 L1318.44 735.71 L1319.51 736.08 L1320.58 736.44 L1321.64 736.80 L1322.71 737.15 L1323.78 737.50 L1324.85 737.85 L1325.92 738.20 L1326.99 738.54 L1328.06 738.88 L1329.12 739.21 L1330.19 739.54 L1331.26 739.87 L1332.33 740.20 L1333.40 740.52 L1334.47 740.84 L1335.53 741.16 L1336.60 741.48 L1337.67 741.79 L1338.74 742.10 L1339.81 742.40 L1340.88 742.70 L1341.95 743.00 L1343.01 743.30 L1344.08 743.60 L1345.15 743.89 L1346.22 744.18 L1347.29 744.46 L1348.36 744.75 L1349.43 745.03 L1350.49 745.31 L1351.56 745.58 L1352.63 745.86 L1353.70 746.13 L1354.77 746.40 L1355.84 746.66 L1356.90 746.92 L1357.97 747.19 L1359.04 747.44 L1360.11 747.70 L1361.18 747.95 L1362.25 748.21 L1363.32 748.45 L1364.38 748.70 L1365.45 748.95 L1366.52 749.19 L1367.59 749.43 L1368.66 749.67 L1369.73 749.90 L1370.79 750.13 L1371.86 750.37 L1372.93 750.60" stroke="#0E9A57" stroke-width="2.85" fill="none" stroke-dasharray="11.4 11.4" stroke-linejoin="round"/></g><path d="M1117.40 604.75V783.20H1385.10" stroke="#1A1A1A" stroke-width="1.1" fill="none" stroke-linecap="butt"/><path d="M1110.05 775.09H1117.40M1110.05 733.49H1117.40M1110.05 691.90H1117.40M1110.05 650.30H1117.40M1110.05 608.70H1117.40M1129.57 783.20V790.55M1179.95 783.20V790.55M1230.34 783.20V790.55M1280.73 783.20V790.55M1331.11 783.20V790.55M1381.50 783.20V790.55" stroke="#333333" stroke-width="2.7" fill="none"/><text x="1104.25" y="783" text-anchor="end" fill="#4D4D4D" font-size="23.2">0.0</text><text x="1104.25" y="742" text-anchor="end" fill="#4D4D4D" font-size="23.2">2.5</text><text x="1104.25" y="700" text-anchor="end" fill="#4D4D4D" font-size="23.2">5.0</text><text x="1104.25" y="659" text-anchor="end" fill="#4D4D4D" font-size="23.2">7.5</text><path transform="translate(1059.11,617.00) scale(0.011328,-0.011781)" d="M763 0L583 0L583 1147Q518 1085 465 1054Q412 1023 360 992Q307 961 223 930L223 1104Q374 1175 430 1225Q487 1276 543 1326Q600 1377 647 1409L763 1409Z" fill="#4D4D4D"/><text x="1072.00" y="617.00" fill="#4D4D4D" font-size="23.2" style="white-space:pre">0.0</text><text x="1129.57" y="813" text-anchor="middle" fill="#4D4D4D" font-size="23.2">0</text><text x="1179.95" y="813" text-anchor="middle" fill="#4D4D4D" font-size="23.2">5</text><path transform="translate(1217.44,813.00) scale(0.011328,-0.011781)" d="M763 0L583 0L583 1147Q518 1085 465 1054Q412 1023 360 992Q307 961 223 930L223 1104Q374 1175 430 1225Q487 1276 543 1326Q600 1377 647 1409L763 1409Z" fill="#4D4D4D"/><text x="1230.33" y="813.00" fill="#4D4D4D" font-size="23.2" style="white-space:pre">0</text><path transform="translate(1267.83,813.00) scale(0.011328,-0.011781)" d="M763 0L583 0L583 1147Q518 1085 465 1054Q412 1023 360 992Q307 961 223 930L223 1104Q374 1175 430 1225Q487 1276 543 1326Q600 1377 647 1409L763 1409Z" fill="#4D4D4D"/><text x="1280.72" y="813.00" fill="#4D4D4D" font-size="23.2" style="white-space:pre">5</text><text x="1331.11" y="813" text-anchor="middle" fill="#4D4D4D" font-size="23.2">20</text><text x="1381.50" y="813" text-anchor="middle" fill="#4D4D4D" font-size="23.2">25</text><text x="1222.88" y="591.00" fill="#1A1A1A" font-size="23.2" style="white-space:pre">id:&#160;</text><path transform="translate(1253.80,591.00) scale(0.011328,-0.011781)" d="M763 0L583 0L583 1147Q518 1085 465 1054Q412 1023 360 992Q307 961 223 930L223 1104Q374 1175 430 1225Q487 1276 543 1326Q600 1377 647 1409L763 1409Z" fill="#1A1A1A"/><text x="1266.70" y="591.00" fill="#1A1A1A" font-size="23.2" style="white-space:pre">2</text><text x="746.3" y="846" text-anchor="middle" font-size="29" fill="#000">time</text><text transform="translate(36.3,420.6) rotate(-90)" text-anchor="middle" font-size="29" fill="#000">CONC</text></svg></body></html>
